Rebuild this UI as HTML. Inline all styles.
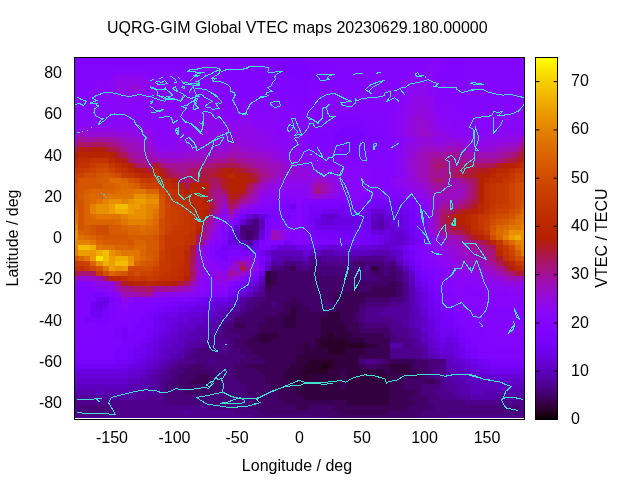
<!DOCTYPE html>
<html><head><meta charset="utf-8"><style>
html,body{margin:0;padding:0;background:#fff;width:640px;height:480px;overflow:hidden}
svg{display:block;will-change:transform}
</style></head><body>
<svg width="640" height="480" viewBox="0 0 640 480">
<rect x="0" y="0" width="640" height="480" fill="#fff"/>
<g shape-rendering="crispEdges">
<rect x="74.50" y="57.50" width="128.43" height="2.38" fill="#8004ff"/><rect x="202.62" y="57.50" width="25.30" height="2.38" fill="#7d04fe"/><rect x="227.62" y="57.50" width="81.55" height="2.38" fill="#8004ff"/><rect x="308.88" y="57.50" width="125.30" height="2.38" fill="#8405fe"/><rect x="433.88" y="57.50" width="6.55" height="2.38" fill="#8706fa"/><rect x="440.12" y="57.50" width="6.55" height="2.38" fill="#8405fe"/><rect x="446.38" y="57.50" width="19.05" height="2.38" fill="#8004ff"/><rect x="465.12" y="57.50" width="56.55" height="2.38" fill="#8405fe"/><rect x="521.38" y="57.50" width="3.42" height="2.38" fill="#8004ff"/><rect x="74.50" y="59.58" width="128.43" height="5.46" fill="#8004ff"/><rect x="202.62" y="59.58" width="25.30" height="5.46" fill="#7d04fe"/><rect x="227.62" y="59.58" width="50.30" height="5.46" fill="#8004ff"/><rect x="277.62" y="59.58" width="31.55" height="5.46" fill="#7d04fe"/><rect x="308.88" y="59.58" width="19.05" height="5.46" fill="#8004ff"/><rect x="327.62" y="59.58" width="100.30" height="5.46" fill="#8405fe"/><rect x="427.62" y="59.58" width="12.80" height="5.46" fill="#8706fa"/><rect x="440.12" y="59.58" width="6.55" height="5.46" fill="#8405fe"/><rect x="446.38" y="59.58" width="19.05" height="5.46" fill="#8004ff"/><rect x="465.12" y="59.58" width="56.55" height="5.46" fill="#8405fe"/><rect x="521.38" y="59.58" width="3.42" height="5.46" fill="#8004ff"/><rect x="74.50" y="64.74" width="103.42" height="5.46" fill="#8405fe"/><rect x="177.62" y="64.74" width="87.80" height="5.46" fill="#8004ff"/><rect x="265.12" y="64.74" width="12.80" height="5.46" fill="#7d04fe"/><rect x="277.62" y="64.74" width="31.55" height="5.46" fill="#7903fc"/><rect x="308.88" y="64.74" width="12.80" height="5.46" fill="#7d04fe"/><rect x="321.38" y="64.74" width="12.80" height="5.46" fill="#8004ff"/><rect x="333.88" y="64.74" width="87.80" height="5.46" fill="#8405fe"/><rect x="421.38" y="64.74" width="6.55" height="5.46" fill="#8706fa"/><rect x="427.62" y="64.74" width="6.55" height="5.46" fill="#8a06f6"/><rect x="433.88" y="64.74" width="6.55" height="5.46" fill="#8706fa"/><rect x="440.12" y="64.74" width="6.55" height="5.46" fill="#8405fe"/><rect x="446.38" y="64.74" width="19.05" height="5.46" fill="#8004ff"/><rect x="465.12" y="64.74" width="59.67" height="5.46" fill="#8405fe"/><rect x="74.50" y="69.89" width="40.92" height="5.46" fill="#8405fe"/><rect x="115.12" y="69.89" width="31.55" height="5.46" fill="#8706fa"/><rect x="146.38" y="69.89" width="44.05" height="5.46" fill="#8405fe"/><rect x="190.12" y="69.89" width="69.05" height="5.46" fill="#8004ff"/><rect x="258.88" y="69.89" width="19.05" height="5.46" fill="#7d04fe"/><rect x="277.62" y="69.89" width="31.55" height="5.46" fill="#7903fc"/><rect x="308.88" y="69.89" width="12.80" height="5.46" fill="#7d04fe"/><rect x="321.38" y="69.89" width="12.80" height="5.46" fill="#8004ff"/><rect x="333.88" y="69.89" width="75.30" height="5.46" fill="#8405fe"/><rect x="408.88" y="69.89" width="25.30" height="5.46" fill="#8706fa"/><rect x="433.88" y="69.89" width="6.55" height="5.46" fill="#8405fe"/><rect x="440.12" y="69.89" width="25.30" height="5.46" fill="#8004ff"/><rect x="465.12" y="69.89" width="59.67" height="5.46" fill="#8405fe"/><rect x="74.50" y="75.05" width="34.67" height="5.46" fill="#8405fe"/><rect x="108.88" y="75.05" width="6.55" height="5.46" fill="#8706fa"/><rect x="115.12" y="75.05" width="25.30" height="5.46" fill="#8d07ef"/><rect x="140.12" y="75.05" width="6.55" height="5.46" fill="#8a06f6"/><rect x="146.38" y="75.05" width="12.80" height="5.46" fill="#8706fa"/><rect x="158.88" y="75.05" width="25.30" height="5.46" fill="#8405fe"/><rect x="183.88" y="75.05" width="12.80" height="5.46" fill="#8706fa"/><rect x="196.38" y="75.05" width="19.05" height="5.46" fill="#8405fe"/><rect x="215.12" y="75.05" width="44.05" height="5.46" fill="#8004ff"/><rect x="258.88" y="75.05" width="37.80" height="5.46" fill="#7d04fe"/><rect x="296.38" y="75.05" width="12.80" height="5.46" fill="#7903fc"/><rect x="308.88" y="75.05" width="12.80" height="5.46" fill="#7d04fe"/><rect x="321.38" y="75.05" width="19.05" height="5.46" fill="#8004ff"/><rect x="340.12" y="75.05" width="62.80" height="5.46" fill="#8405fe"/><rect x="402.62" y="75.05" width="6.55" height="5.46" fill="#8706fa"/><rect x="408.88" y="75.05" width="19.05" height="5.46" fill="#8a06f6"/><rect x="427.62" y="75.05" width="6.55" height="5.46" fill="#8706fa"/><rect x="433.88" y="75.05" width="12.80" height="5.46" fill="#8405fe"/><rect x="446.38" y="75.05" width="19.05" height="5.46" fill="#8004ff"/><rect x="465.12" y="75.05" width="59.67" height="5.46" fill="#8405fe"/><rect x="74.50" y="80.21" width="22.18" height="5.46" fill="#8405fe"/><rect x="96.38" y="80.21" width="12.80" height="5.46" fill="#8706fa"/><rect x="108.88" y="80.21" width="6.55" height="5.46" fill="#8a06f6"/><rect x="115.12" y="80.21" width="25.30" height="5.46" fill="#9008e7"/><rect x="140.12" y="80.21" width="6.55" height="5.46" fill="#8d07ef"/><rect x="146.38" y="80.21" width="12.80" height="5.46" fill="#8a06f6"/><rect x="158.88" y="80.21" width="6.55" height="5.46" fill="#8706fa"/><rect x="165.12" y="80.21" width="19.05" height="5.46" fill="#8405fe"/><rect x="183.88" y="80.21" width="12.80" height="5.46" fill="#8706fa"/><rect x="196.38" y="80.21" width="25.30" height="5.46" fill="#8405fe"/><rect x="221.38" y="80.21" width="44.05" height="5.46" fill="#8004ff"/><rect x="265.12" y="80.21" width="44.05" height="5.46" fill="#7d04fe"/><rect x="308.88" y="80.21" width="31.55" height="5.46" fill="#8004ff"/><rect x="340.12" y="80.21" width="62.80" height="5.46" fill="#8405fe"/><rect x="402.62" y="80.21" width="6.55" height="5.46" fill="#8706fa"/><rect x="408.88" y="80.21" width="25.30" height="5.46" fill="#8a06f6"/><rect x="433.88" y="80.21" width="6.55" height="5.46" fill="#8706fa"/><rect x="440.12" y="80.21" width="84.67" height="5.46" fill="#8405fe"/><rect x="74.50" y="85.36" width="15.93" height="5.46" fill="#8405fe"/><rect x="90.12" y="85.36" width="19.05" height="5.46" fill="#8706fa"/><rect x="108.88" y="85.36" width="6.55" height="5.46" fill="#8a06f6"/><rect x="115.12" y="85.36" width="6.55" height="5.46" fill="#9309dd"/><rect x="121.38" y="85.36" width="6.55" height="5.46" fill="#9008e7"/><rect x="127.62" y="85.36" width="6.55" height="5.46" fill="#9309dd"/><rect x="133.88" y="85.36" width="6.55" height="5.46" fill="#960bd1"/><rect x="140.12" y="85.36" width="6.55" height="5.46" fill="#8d07ef"/><rect x="146.38" y="85.36" width="6.55" height="5.46" fill="#8a06f6"/><rect x="152.62" y="85.36" width="6.55" height="5.46" fill="#8d07ef"/><rect x="158.88" y="85.36" width="6.55" height="5.46" fill="#8a06f6"/><rect x="165.12" y="85.36" width="37.80" height="5.46" fill="#8706fa"/><rect x="202.62" y="85.36" width="25.30" height="5.46" fill="#8405fe"/><rect x="227.62" y="85.36" width="44.05" height="5.46" fill="#8004ff"/><rect x="271.38" y="85.36" width="37.80" height="5.46" fill="#7d04fe"/><rect x="308.88" y="85.36" width="25.30" height="5.46" fill="#8004ff"/><rect x="333.88" y="85.36" width="69.05" height="5.46" fill="#8405fe"/><rect x="402.62" y="85.36" width="6.55" height="5.46" fill="#8706fa"/><rect x="408.88" y="85.36" width="6.55" height="5.46" fill="#8a06f6"/><rect x="415.12" y="85.36" width="12.80" height="5.46" fill="#8d07ef"/><rect x="427.62" y="85.36" width="6.55" height="5.46" fill="#8a06f6"/><rect x="433.88" y="85.36" width="6.55" height="5.46" fill="#8706fa"/><rect x="440.12" y="85.36" width="84.67" height="5.46" fill="#8405fe"/><rect x="74.50" y="90.52" width="15.93" height="5.46" fill="#8405fe"/><rect x="90.12" y="90.52" width="19.05" height="5.46" fill="#8706fa"/><rect x="108.88" y="90.52" width="6.55" height="5.46" fill="#8a06f6"/><rect x="115.12" y="90.52" width="25.30" height="5.46" fill="#8d07ef"/><rect x="140.12" y="90.52" width="25.30" height="5.46" fill="#8a06f6"/><rect x="165.12" y="90.52" width="44.05" height="5.46" fill="#8706fa"/><rect x="208.88" y="90.52" width="19.05" height="5.46" fill="#8405fe"/><rect x="227.62" y="90.52" width="56.55" height="5.46" fill="#8004ff"/><rect x="283.88" y="90.52" width="25.30" height="5.46" fill="#7d04fe"/><rect x="308.88" y="90.52" width="94.05" height="5.46" fill="#8405fe"/><rect x="402.62" y="90.52" width="6.55" height="5.46" fill="#8a06f6"/><rect x="408.88" y="90.52" width="19.05" height="5.46" fill="#8d07ef"/><rect x="427.62" y="90.52" width="6.55" height="5.46" fill="#8a06f6"/><rect x="433.88" y="90.52" width="6.55" height="5.46" fill="#8706fa"/><rect x="440.12" y="90.52" width="84.67" height="5.46" fill="#8405fe"/><rect x="74.50" y="95.68" width="15.93" height="5.46" fill="#8405fe"/><rect x="90.12" y="95.68" width="25.30" height="5.46" fill="#8706fa"/><rect x="115.12" y="95.68" width="31.55" height="5.46" fill="#8a06f6"/><rect x="146.38" y="95.68" width="69.05" height="5.46" fill="#8706fa"/><rect x="215.12" y="95.68" width="44.05" height="5.46" fill="#8405fe"/><rect x="258.88" y="95.68" width="50.30" height="5.46" fill="#8004ff"/><rect x="308.88" y="95.68" width="19.05" height="5.46" fill="#8405fe"/><rect x="327.62" y="95.68" width="12.80" height="5.46" fill="#8706fa"/><rect x="340.12" y="95.68" width="56.55" height="5.46" fill="#8405fe"/><rect x="396.38" y="95.68" width="6.55" height="5.46" fill="#8706fa"/><rect x="402.62" y="95.68" width="6.55" height="5.46" fill="#8a06f6"/><rect x="408.88" y="95.68" width="6.55" height="5.46" fill="#8d07ef"/><rect x="415.12" y="95.68" width="12.80" height="5.46" fill="#9008e7"/><rect x="427.62" y="95.68" width="6.55" height="5.46" fill="#8d07ef"/><rect x="433.88" y="95.68" width="6.55" height="5.46" fill="#8706fa"/><rect x="440.12" y="95.68" width="84.67" height="5.46" fill="#8405fe"/><rect x="74.50" y="100.84" width="15.93" height="5.46" fill="#8405fe"/><rect x="90.12" y="100.84" width="106.55" height="5.46" fill="#8706fa"/><rect x="196.38" y="100.84" width="12.80" height="5.46" fill="#8a06f6"/><rect x="208.88" y="100.84" width="12.80" height="5.46" fill="#8706fa"/><rect x="221.38" y="100.84" width="19.05" height="5.46" fill="#8405fe"/><rect x="240.12" y="100.84" width="19.05" height="5.46" fill="#8706fa"/><rect x="258.88" y="100.84" width="12.80" height="5.46" fill="#8405fe"/><rect x="271.38" y="100.84" width="37.80" height="5.46" fill="#8004ff"/><rect x="308.88" y="100.84" width="19.05" height="5.46" fill="#8405fe"/><rect x="327.62" y="100.84" width="12.80" height="5.46" fill="#8706fa"/><rect x="340.12" y="100.84" width="56.55" height="5.46" fill="#8405fe"/><rect x="396.38" y="100.84" width="6.55" height="5.46" fill="#8706fa"/><rect x="402.62" y="100.84" width="6.55" height="5.46" fill="#8a06f6"/><rect x="408.88" y="100.84" width="6.55" height="5.46" fill="#9008e7"/><rect x="415.12" y="100.84" width="6.55" height="5.46" fill="#9309dd"/><rect x="421.38" y="100.84" width="6.55" height="5.46" fill="#9008e7"/><rect x="427.62" y="100.84" width="6.55" height="5.46" fill="#8d07ef"/><rect x="433.88" y="100.84" width="12.80" height="5.46" fill="#8706fa"/><rect x="446.38" y="100.84" width="78.42" height="5.46" fill="#8405fe"/><rect x="74.50" y="105.99" width="115.92" height="5.46" fill="#8706fa"/><rect x="190.12" y="105.99" width="25.30" height="5.46" fill="#8a06f6"/><rect x="215.12" y="105.99" width="12.80" height="5.46" fill="#8706fa"/><rect x="227.62" y="105.99" width="12.80" height="5.46" fill="#8405fe"/><rect x="240.12" y="105.99" width="12.80" height="5.46" fill="#8706fa"/><rect x="252.62" y="105.99" width="44.05" height="5.46" fill="#8405fe"/><rect x="296.38" y="105.99" width="12.80" height="5.46" fill="#8004ff"/><rect x="308.88" y="105.99" width="19.05" height="5.46" fill="#8405fe"/><rect x="327.62" y="105.99" width="12.80" height="5.46" fill="#8706fa"/><rect x="340.12" y="105.99" width="56.55" height="5.46" fill="#8405fe"/><rect x="396.38" y="105.99" width="6.55" height="5.46" fill="#8706fa"/><rect x="402.62" y="105.99" width="6.55" height="5.46" fill="#8d07ef"/><rect x="408.88" y="105.99" width="6.55" height="5.46" fill="#9008e7"/><rect x="415.12" y="105.99" width="12.80" height="5.46" fill="#9309dd"/><rect x="427.62" y="105.99" width="6.55" height="5.46" fill="#8d07ef"/><rect x="433.88" y="105.99" width="6.55" height="5.46" fill="#8a06f6"/><rect x="440.12" y="105.99" width="12.80" height="5.46" fill="#8706fa"/><rect x="452.62" y="105.99" width="69.05" height="5.46" fill="#8405fe"/><rect x="521.38" y="105.99" width="3.42" height="5.46" fill="#8706fa"/><rect x="74.50" y="111.15" width="109.67" height="5.46" fill="#8706fa"/><rect x="183.88" y="111.15" width="19.05" height="5.46" fill="#8a06f6"/><rect x="202.62" y="111.15" width="12.80" height="5.46" fill="#8d07ef"/><rect x="215.12" y="111.15" width="6.55" height="5.46" fill="#8a06f6"/><rect x="221.38" y="111.15" width="62.80" height="5.46" fill="#8706fa"/><rect x="283.88" y="111.15" width="106.55" height="5.46" fill="#8405fe"/><rect x="390.12" y="111.15" width="6.55" height="5.46" fill="#8706fa"/><rect x="396.38" y="111.15" width="6.55" height="5.46" fill="#8a06f6"/><rect x="402.62" y="111.15" width="6.55" height="5.46" fill="#8d07ef"/><rect x="408.88" y="111.15" width="6.55" height="5.46" fill="#9008e7"/><rect x="415.12" y="111.15" width="12.80" height="5.46" fill="#9309dd"/><rect x="427.62" y="111.15" width="6.55" height="5.46" fill="#9008e7"/><rect x="433.88" y="111.15" width="6.55" height="5.46" fill="#8a06f6"/><rect x="440.12" y="111.15" width="19.05" height="5.46" fill="#8706fa"/><rect x="458.88" y="111.15" width="56.55" height="5.46" fill="#8405fe"/><rect x="515.12" y="111.15" width="9.68" height="5.46" fill="#8706fa"/><rect x="74.50" y="116.31" width="109.67" height="5.46" fill="#8706fa"/><rect x="183.88" y="116.31" width="19.05" height="5.46" fill="#8a06f6"/><rect x="202.62" y="116.31" width="12.80" height="5.46" fill="#8d07ef"/><rect x="215.12" y="116.31" width="37.80" height="5.46" fill="#8a06f6"/><rect x="252.62" y="116.31" width="25.30" height="5.46" fill="#8706fa"/><rect x="277.62" y="116.31" width="50.30" height="5.46" fill="#8405fe"/><rect x="327.62" y="116.31" width="37.80" height="5.46" fill="#8004ff"/><rect x="365.12" y="116.31" width="25.30" height="5.46" fill="#8405fe"/><rect x="390.12" y="116.31" width="6.55" height="5.46" fill="#8706fa"/><rect x="396.38" y="116.31" width="6.55" height="5.46" fill="#8a06f6"/><rect x="402.62" y="116.31" width="6.55" height="5.46" fill="#8d07ef"/><rect x="408.88" y="116.31" width="6.55" height="5.46" fill="#9309dd"/><rect x="415.12" y="116.31" width="6.55" height="5.46" fill="#960bd1"/><rect x="421.38" y="116.31" width="6.55" height="5.46" fill="#9309dd"/><rect x="427.62" y="116.31" width="6.55" height="5.46" fill="#9008e7"/><rect x="433.88" y="116.31" width="6.55" height="5.46" fill="#8d07ef"/><rect x="440.12" y="116.31" width="6.55" height="5.46" fill="#8a06f6"/><rect x="446.38" y="116.31" width="78.42" height="5.46" fill="#8706fa"/><rect x="74.50" y="121.46" width="78.42" height="5.46" fill="#8a06f6"/><rect x="152.62" y="121.46" width="25.30" height="5.46" fill="#8706fa"/><rect x="177.62" y="121.46" width="19.05" height="5.46" fill="#8a06f6"/><rect x="196.38" y="121.46" width="25.30" height="5.46" fill="#8d07ef"/><rect x="221.38" y="121.46" width="6.55" height="5.46" fill="#8a06f6"/><rect x="227.62" y="121.46" width="25.30" height="5.46" fill="#8d07ef"/><rect x="252.62" y="121.46" width="19.05" height="5.46" fill="#8a06f6"/><rect x="271.38" y="121.46" width="19.05" height="5.46" fill="#8706fa"/><rect x="290.12" y="121.46" width="25.30" height="5.46" fill="#8405fe"/><rect x="315.12" y="121.46" width="19.05" height="5.46" fill="#8004ff"/><rect x="333.88" y="121.46" width="31.55" height="5.46" fill="#7d04fe"/><rect x="365.12" y="121.46" width="12.80" height="5.46" fill="#8004ff"/><rect x="377.62" y="121.46" width="12.80" height="5.46" fill="#8405fe"/><rect x="390.12" y="121.46" width="6.55" height="5.46" fill="#8706fa"/><rect x="396.38" y="121.46" width="6.55" height="5.46" fill="#8a06f6"/><rect x="402.62" y="121.46" width="6.55" height="5.46" fill="#9008e7"/><rect x="408.88" y="121.46" width="6.55" height="5.46" fill="#9309dd"/><rect x="415.12" y="121.46" width="12.80" height="5.46" fill="#960bd1"/><rect x="427.62" y="121.46" width="6.55" height="5.46" fill="#9309dd"/><rect x="433.88" y="121.46" width="6.55" height="5.46" fill="#8d07ef"/><rect x="440.12" y="121.46" width="12.80" height="5.46" fill="#8a06f6"/><rect x="452.62" y="121.46" width="69.05" height="5.46" fill="#8706fa"/><rect x="521.38" y="121.46" width="3.42" height="5.46" fill="#8a06f6"/><rect x="74.50" y="126.62" width="3.42" height="5.46" fill="#8a06f6"/><rect x="77.62" y="126.62" width="37.80" height="5.46" fill="#9008e7"/><rect x="115.12" y="126.62" width="37.80" height="5.46" fill="#8d07ef"/><rect x="152.62" y="126.62" width="19.05" height="5.46" fill="#8706fa"/><rect x="171.38" y="126.62" width="19.05" height="5.46" fill="#8a06f6"/><rect x="190.12" y="126.62" width="12.80" height="5.46" fill="#8d07ef"/><rect x="202.62" y="126.62" width="6.55" height="5.46" fill="#9008e7"/><rect x="208.88" y="126.62" width="19.05" height="5.46" fill="#8d07ef"/><rect x="227.62" y="126.62" width="25.30" height="5.46" fill="#9008e7"/><rect x="252.62" y="126.62" width="12.80" height="5.46" fill="#8d07ef"/><rect x="265.12" y="126.62" width="12.80" height="5.46" fill="#8a06f6"/><rect x="277.62" y="126.62" width="19.05" height="5.46" fill="#8706fa"/><rect x="296.38" y="126.62" width="19.05" height="5.46" fill="#8405fe"/><rect x="315.12" y="126.62" width="12.80" height="5.46" fill="#8004ff"/><rect x="327.62" y="126.62" width="12.80" height="5.46" fill="#7d04fe"/><rect x="340.12" y="126.62" width="19.05" height="5.46" fill="#7903fc"/><rect x="358.88" y="126.62" width="12.80" height="5.46" fill="#7d04fe"/><rect x="371.38" y="126.62" width="12.80" height="5.46" fill="#8004ff"/><rect x="383.88" y="126.62" width="6.55" height="5.46" fill="#8405fe"/><rect x="390.12" y="126.62" width="6.55" height="5.46" fill="#8706fa"/><rect x="396.38" y="126.62" width="6.55" height="5.46" fill="#8a06f6"/><rect x="402.62" y="126.62" width="6.55" height="5.46" fill="#9008e7"/><rect x="408.88" y="126.62" width="6.55" height="5.46" fill="#9309dd"/><rect x="415.12" y="126.62" width="12.80" height="5.46" fill="#960bd1"/><rect x="427.62" y="126.62" width="6.55" height="5.46" fill="#9309dd"/><rect x="433.88" y="126.62" width="6.55" height="5.46" fill="#9008e7"/><rect x="440.12" y="126.62" width="6.55" height="5.46" fill="#8d07ef"/><rect x="446.38" y="126.62" width="12.80" height="5.46" fill="#8a06f6"/><rect x="458.88" y="126.62" width="6.55" height="5.46" fill="#8706fa"/><rect x="465.12" y="126.62" width="6.55" height="5.46" fill="#8a06f6"/><rect x="471.38" y="126.62" width="31.55" height="5.46" fill="#8706fa"/><rect x="502.62" y="126.62" width="22.18" height="5.46" fill="#8a06f6"/><rect x="74.50" y="131.78" width="3.42" height="5.46" fill="#9008e7"/><rect x="77.62" y="131.78" width="6.55" height="5.46" fill="#990cc4"/><rect x="83.88" y="131.78" width="31.55" height="5.46" fill="#960bd1"/><rect x="115.12" y="131.78" width="19.05" height="5.46" fill="#9309dd"/><rect x="133.88" y="131.78" width="19.05" height="5.46" fill="#9008e7"/><rect x="152.62" y="131.78" width="6.55" height="5.46" fill="#8a06f6"/><rect x="158.88" y="131.78" width="6.55" height="5.46" fill="#8706fa"/><rect x="165.12" y="131.78" width="19.05" height="5.46" fill="#8a06f6"/><rect x="183.88" y="131.78" width="12.80" height="5.46" fill="#8d07ef"/><rect x="196.38" y="131.78" width="25.30" height="5.46" fill="#9008e7"/><rect x="221.38" y="131.78" width="6.55" height="5.46" fill="#8d07ef"/><rect x="227.62" y="131.78" width="31.55" height="5.46" fill="#9008e7"/><rect x="258.88" y="131.78" width="12.80" height="5.46" fill="#8d07ef"/><rect x="271.38" y="131.78" width="6.55" height="5.46" fill="#8a06f6"/><rect x="277.62" y="131.78" width="25.30" height="5.46" fill="#8706fa"/><rect x="302.62" y="131.78" width="6.55" height="5.46" fill="#8405fe"/><rect x="308.88" y="131.78" width="12.80" height="5.46" fill="#8004ff"/><rect x="321.38" y="131.78" width="12.80" height="5.46" fill="#7d04fe"/><rect x="333.88" y="131.78" width="31.55" height="5.46" fill="#7903fc"/><rect x="365.12" y="131.78" width="12.80" height="5.46" fill="#7d04fe"/><rect x="377.62" y="131.78" width="6.55" height="5.46" fill="#8004ff"/><rect x="383.88" y="131.78" width="6.55" height="5.46" fill="#8405fe"/><rect x="390.12" y="131.78" width="6.55" height="5.46" fill="#8706fa"/><rect x="396.38" y="131.78" width="6.55" height="5.46" fill="#8a06f6"/><rect x="402.62" y="131.78" width="6.55" height="5.46" fill="#9008e7"/><rect x="408.88" y="131.78" width="6.55" height="5.46" fill="#9309dd"/><rect x="415.12" y="131.78" width="6.55" height="5.46" fill="#960bd1"/><rect x="421.38" y="131.78" width="6.55" height="5.46" fill="#990cc4"/><rect x="427.62" y="131.78" width="6.55" height="5.46" fill="#960bd1"/><rect x="433.88" y="131.78" width="6.55" height="5.46" fill="#9309dd"/><rect x="440.12" y="131.78" width="6.55" height="5.46" fill="#9008e7"/><rect x="446.38" y="131.78" width="6.55" height="5.46" fill="#8d07ef"/><rect x="452.62" y="131.78" width="50.30" height="5.46" fill="#8a06f6"/><rect x="502.62" y="131.78" width="19.05" height="5.46" fill="#8d07ef"/><rect x="521.38" y="131.78" width="3.42" height="5.46" fill="#9008e7"/><rect x="74.50" y="136.94" width="3.42" height="5.46" fill="#990cc4"/><rect x="77.62" y="136.94" width="6.55" height="5.46" fill="#a11096"/><rect x="83.88" y="136.94" width="12.80" height="5.46" fill="#9f0fa7"/><rect x="96.38" y="136.94" width="6.55" height="5.46" fill="#a11096"/><rect x="102.62" y="136.94" width="12.80" height="5.46" fill="#9f0fa7"/><rect x="115.12" y="136.94" width="6.55" height="5.46" fill="#9c0db6"/><rect x="121.38" y="136.94" width="6.55" height="5.46" fill="#990cc4"/><rect x="127.62" y="136.94" width="12.80" height="5.46" fill="#960bd1"/><rect x="140.12" y="136.94" width="12.80" height="5.46" fill="#9309dd"/><rect x="152.62" y="136.94" width="25.30" height="5.46" fill="#8a06f6"/><rect x="177.62" y="136.94" width="19.05" height="5.46" fill="#8d07ef"/><rect x="196.38" y="136.94" width="31.55" height="5.46" fill="#9008e7"/><rect x="227.62" y="136.94" width="19.05" height="5.46" fill="#9309dd"/><rect x="246.38" y="136.94" width="19.05" height="5.46" fill="#9008e7"/><rect x="265.12" y="136.94" width="6.55" height="5.46" fill="#8d07ef"/><rect x="271.38" y="136.94" width="12.80" height="5.46" fill="#8a06f6"/><rect x="283.88" y="136.94" width="19.05" height="5.46" fill="#8706fa"/><rect x="302.62" y="136.94" width="6.55" height="5.46" fill="#8405fe"/><rect x="308.88" y="136.94" width="12.80" height="5.46" fill="#8004ff"/><rect x="321.38" y="136.94" width="12.80" height="5.46" fill="#7d04fe"/><rect x="333.88" y="136.94" width="31.55" height="5.46" fill="#7903fc"/><rect x="365.12" y="136.94" width="12.80" height="5.46" fill="#7d04fe"/><rect x="377.62" y="136.94" width="6.55" height="5.46" fill="#8004ff"/><rect x="383.88" y="136.94" width="12.80" height="5.46" fill="#8405fe"/><rect x="396.38" y="136.94" width="6.55" height="5.46" fill="#8706fa"/><rect x="402.62" y="136.94" width="6.55" height="5.46" fill="#8a06f6"/><rect x="408.88" y="136.94" width="6.55" height="5.46" fill="#8d07ef"/><rect x="415.12" y="136.94" width="6.55" height="5.46" fill="#9008e7"/><rect x="421.38" y="136.94" width="12.80" height="5.46" fill="#9309dd"/><rect x="433.88" y="136.94" width="12.80" height="5.46" fill="#9008e7"/><rect x="446.38" y="136.94" width="6.55" height="5.46" fill="#9309dd"/><rect x="452.62" y="136.94" width="12.80" height="5.46" fill="#9008e7"/><rect x="465.12" y="136.94" width="31.55" height="5.46" fill="#8d07ef"/><rect x="496.38" y="136.94" width="19.05" height="5.46" fill="#9008e7"/><rect x="515.12" y="136.94" width="6.55" height="5.46" fill="#9309dd"/><rect x="521.38" y="136.94" width="3.42" height="5.46" fill="#990cc4"/><rect x="74.50" y="142.09" width="3.42" height="5.46" fill="#a11096"/><rect x="77.62" y="142.09" width="6.55" height="5.46" fill="#a9165e"/><rect x="83.88" y="142.09" width="6.55" height="5.46" fill="#a71471"/><rect x="90.12" y="142.09" width="19.05" height="5.46" fill="#a9165e"/><rect x="108.88" y="142.09" width="6.55" height="5.46" fill="#a41284"/><rect x="115.12" y="142.09" width="6.55" height="5.46" fill="#a11096"/><rect x="121.38" y="142.09" width="12.80" height="5.46" fill="#9c0db6"/><rect x="133.88" y="142.09" width="6.55" height="5.46" fill="#990cc4"/><rect x="140.12" y="142.09" width="12.80" height="5.46" fill="#960bd1"/><rect x="152.62" y="142.09" width="6.55" height="5.46" fill="#8d07ef"/><rect x="158.88" y="142.09" width="12.80" height="5.46" fill="#8a06f6"/><rect x="171.38" y="142.09" width="12.80" height="5.46" fill="#8d07ef"/><rect x="183.88" y="142.09" width="12.80" height="5.46" fill="#9008e7"/><rect x="196.38" y="142.09" width="25.30" height="5.46" fill="#9309dd"/><rect x="221.38" y="142.09" width="6.55" height="5.46" fill="#9008e7"/><rect x="227.62" y="142.09" width="12.80" height="5.46" fill="#960bd1"/><rect x="240.12" y="142.09" width="12.80" height="5.46" fill="#9309dd"/><rect x="252.62" y="142.09" width="12.80" height="5.46" fill="#9008e7"/><rect x="265.12" y="142.09" width="12.80" height="5.46" fill="#8d07ef"/><rect x="277.62" y="142.09" width="12.80" height="5.46" fill="#8a06f6"/><rect x="290.12" y="142.09" width="12.80" height="5.46" fill="#8706fa"/><rect x="302.62" y="142.09" width="6.55" height="5.46" fill="#8405fe"/><rect x="308.88" y="142.09" width="12.80" height="5.46" fill="#8004ff"/><rect x="321.38" y="142.09" width="19.05" height="5.46" fill="#7d04fe"/><rect x="340.12" y="142.09" width="12.80" height="5.46" fill="#7903fc"/><rect x="352.62" y="142.09" width="19.05" height="5.46" fill="#7d04fe"/><rect x="371.38" y="142.09" width="12.80" height="5.46" fill="#8004ff"/><rect x="383.88" y="142.09" width="12.80" height="5.46" fill="#8405fe"/><rect x="396.38" y="142.09" width="6.55" height="5.46" fill="#8706fa"/><rect x="402.62" y="142.09" width="6.55" height="5.46" fill="#8d07ef"/><rect x="408.88" y="142.09" width="6.55" height="5.46" fill="#9008e7"/><rect x="415.12" y="142.09" width="6.55" height="5.46" fill="#9309dd"/><rect x="421.38" y="142.09" width="12.80" height="5.46" fill="#960bd1"/><rect x="433.88" y="142.09" width="12.80" height="5.46" fill="#9309dd"/><rect x="446.38" y="142.09" width="12.80" height="5.46" fill="#960bd1"/><rect x="458.88" y="142.09" width="6.55" height="5.46" fill="#9309dd"/><rect x="465.12" y="142.09" width="25.30" height="5.46" fill="#9008e7"/><rect x="490.12" y="142.09" width="12.80" height="5.46" fill="#9309dd"/><rect x="502.62" y="142.09" width="12.80" height="5.46" fill="#960bd1"/><rect x="515.12" y="142.09" width="6.55" height="5.46" fill="#990cc4"/><rect x="521.38" y="142.09" width="3.42" height="5.46" fill="#a11096"/><rect x="74.50" y="147.25" width="3.42" height="5.46" fill="#ac184a"/><rect x="77.62" y="147.25" width="6.55" height="5.46" fill="#b31f0b"/><rect x="83.88" y="147.25" width="6.55" height="5.46" fill="#b11c20"/><rect x="90.12" y="147.25" width="12.80" height="5.46" fill="#b31f0b"/><rect x="102.62" y="147.25" width="6.55" height="5.46" fill="#b11c20"/><rect x="108.88" y="147.25" width="6.55" height="5.46" fill="#ac184a"/><rect x="115.12" y="147.25" width="6.55" height="5.46" fill="#a9165e"/><rect x="121.38" y="147.25" width="6.55" height="5.46" fill="#a11096"/><rect x="127.62" y="147.25" width="12.80" height="5.46" fill="#9c0db6"/><rect x="140.12" y="147.25" width="12.80" height="5.46" fill="#990cc4"/><rect x="152.62" y="147.25" width="6.55" height="5.46" fill="#9008e7"/><rect x="158.88" y="147.25" width="19.05" height="5.46" fill="#8d07ef"/><rect x="177.62" y="147.25" width="12.80" height="5.46" fill="#9008e7"/><rect x="190.12" y="147.25" width="12.80" height="5.46" fill="#9309dd"/><rect x="202.62" y="147.25" width="19.05" height="5.46" fill="#960bd1"/><rect x="221.38" y="147.25" width="6.55" height="5.46" fill="#9309dd"/><rect x="227.62" y="147.25" width="12.80" height="5.46" fill="#990cc4"/><rect x="240.12" y="147.25" width="12.80" height="5.46" fill="#960bd1"/><rect x="252.62" y="147.25" width="12.80" height="5.46" fill="#9309dd"/><rect x="265.12" y="147.25" width="12.80" height="5.46" fill="#9008e7"/><rect x="277.62" y="147.25" width="6.55" height="5.46" fill="#8d07ef"/><rect x="283.88" y="147.25" width="19.05" height="5.46" fill="#8a06f6"/><rect x="302.62" y="147.25" width="12.80" height="5.46" fill="#8405fe"/><rect x="315.12" y="147.25" width="19.05" height="5.46" fill="#8004ff"/><rect x="333.88" y="147.25" width="31.55" height="5.46" fill="#7d04fe"/><rect x="365.12" y="147.25" width="19.05" height="5.46" fill="#8004ff"/><rect x="383.88" y="147.25" width="12.80" height="5.46" fill="#8405fe"/><rect x="396.38" y="147.25" width="6.55" height="5.46" fill="#8706fa"/><rect x="402.62" y="147.25" width="6.55" height="5.46" fill="#9008e7"/><rect x="408.88" y="147.25" width="6.55" height="5.46" fill="#9309dd"/><rect x="415.12" y="147.25" width="6.55" height="5.46" fill="#960bd1"/><rect x="421.38" y="147.25" width="25.30" height="5.46" fill="#990cc4"/><rect x="446.38" y="147.25" width="12.80" height="5.46" fill="#9c0db6"/><rect x="458.88" y="147.25" width="6.55" height="5.46" fill="#990cc4"/><rect x="465.12" y="147.25" width="6.55" height="5.46" fill="#960bd1"/><rect x="471.38" y="147.25" width="19.05" height="5.46" fill="#9309dd"/><rect x="490.12" y="147.25" width="6.55" height="5.46" fill="#960bd1"/><rect x="496.38" y="147.25" width="6.55" height="5.46" fill="#990cc4"/><rect x="502.62" y="147.25" width="12.80" height="5.46" fill="#9c0db6"/><rect x="515.12" y="147.25" width="6.55" height="5.46" fill="#a11096"/><rect x="521.38" y="147.25" width="3.42" height="5.46" fill="#ac184a"/><rect x="74.50" y="152.41" width="3.42" height="5.46" fill="#b11c20"/><rect x="77.62" y="152.41" width="31.55" height="5.46" fill="#b82400"/><rect x="108.88" y="152.41" width="6.55" height="5.46" fill="#b62100"/><rect x="115.12" y="152.41" width="6.55" height="5.46" fill="#ae1a35"/><rect x="121.38" y="152.41" width="6.55" height="5.46" fill="#a9165e"/><rect x="127.62" y="152.41" width="6.55" height="5.46" fill="#a11096"/><rect x="133.88" y="152.41" width="6.55" height="5.46" fill="#9f0fa7"/><rect x="140.12" y="152.41" width="12.80" height="5.46" fill="#9c0db6"/><rect x="152.62" y="152.41" width="6.55" height="5.46" fill="#960bd1"/><rect x="158.88" y="152.41" width="25.30" height="5.46" fill="#9309dd"/><rect x="183.88" y="152.41" width="19.05" height="5.46" fill="#960bd1"/><rect x="202.62" y="152.41" width="25.30" height="5.46" fill="#990cc4"/><rect x="227.62" y="152.41" width="6.55" height="5.46" fill="#9f0fa7"/><rect x="233.88" y="152.41" width="12.80" height="5.46" fill="#9c0db6"/><rect x="246.38" y="152.41" width="12.80" height="5.46" fill="#990cc4"/><rect x="258.88" y="152.41" width="12.80" height="5.46" fill="#960bd1"/><rect x="271.38" y="152.41" width="6.55" height="5.46" fill="#9309dd"/><rect x="277.62" y="152.41" width="6.55" height="5.46" fill="#9008e7"/><rect x="283.88" y="152.41" width="12.80" height="5.46" fill="#8d07ef"/><rect x="296.38" y="152.41" width="6.55" height="5.46" fill="#8a06f6"/><rect x="302.62" y="152.41" width="12.80" height="5.46" fill="#8706fa"/><rect x="315.12" y="152.41" width="12.80" height="5.46" fill="#8405fe"/><rect x="327.62" y="152.41" width="19.05" height="5.46" fill="#8004ff"/><rect x="346.38" y="152.41" width="12.80" height="5.46" fill="#7d04fe"/><rect x="358.88" y="152.41" width="19.05" height="5.46" fill="#8004ff"/><rect x="377.62" y="152.41" width="19.05" height="5.46" fill="#8405fe"/><rect x="396.38" y="152.41" width="6.55" height="5.46" fill="#8a06f6"/><rect x="402.62" y="152.41" width="6.55" height="5.46" fill="#9008e7"/><rect x="408.88" y="152.41" width="6.55" height="5.46" fill="#9309dd"/><rect x="415.12" y="152.41" width="6.55" height="5.46" fill="#990cc4"/><rect x="421.38" y="152.41" width="6.55" height="5.46" fill="#9c0db6"/><rect x="427.62" y="152.41" width="19.05" height="5.46" fill="#9f0fa7"/><rect x="446.38" y="152.41" width="12.80" height="5.46" fill="#a11096"/><rect x="458.88" y="152.41" width="6.55" height="5.46" fill="#9f0fa7"/><rect x="465.12" y="152.41" width="31.55" height="5.46" fill="#9c0db6"/><rect x="496.38" y="152.41" width="6.55" height="5.46" fill="#9f0fa7"/><rect x="502.62" y="152.41" width="6.55" height="5.46" fill="#a11096"/><rect x="508.88" y="152.41" width="6.55" height="5.46" fill="#a41284"/><rect x="515.12" y="152.41" width="6.55" height="5.46" fill="#a9165e"/><rect x="521.38" y="152.41" width="3.42" height="5.46" fill="#b11c20"/><rect x="74.50" y="157.56" width="3.42" height="5.46" fill="#b82400"/><rect x="77.62" y="157.56" width="12.80" height="5.46" fill="#bf2d00"/><rect x="90.12" y="157.56" width="19.05" height="5.46" fill="#c33300"/><rect x="108.88" y="157.56" width="6.55" height="5.46" fill="#ba2700"/><rect x="115.12" y="157.56" width="6.55" height="5.46" fill="#b62100"/><rect x="121.38" y="157.56" width="6.55" height="5.46" fill="#b11c20"/><rect x="127.62" y="157.56" width="6.55" height="5.46" fill="#a71471"/><rect x="133.88" y="157.56" width="12.80" height="5.46" fill="#a11096"/><rect x="146.38" y="157.56" width="12.80" height="5.46" fill="#9f0fa7"/><rect x="158.88" y="157.56" width="6.55" height="5.46" fill="#9c0db6"/><rect x="165.12" y="157.56" width="19.05" height="5.46" fill="#990cc4"/><rect x="183.88" y="157.56" width="19.05" height="5.46" fill="#9c0db6"/><rect x="202.62" y="157.56" width="12.80" height="5.46" fill="#9f0fa7"/><rect x="215.12" y="157.56" width="12.80" height="5.46" fill="#a11096"/><rect x="227.62" y="157.56" width="6.55" height="5.46" fill="#a71471"/><rect x="233.88" y="157.56" width="12.80" height="5.46" fill="#a11096"/><rect x="246.38" y="157.56" width="6.55" height="5.46" fill="#9f0fa7"/><rect x="252.62" y="157.56" width="12.80" height="5.46" fill="#9c0db6"/><rect x="265.12" y="157.56" width="6.55" height="5.46" fill="#990cc4"/><rect x="271.38" y="157.56" width="6.55" height="5.46" fill="#960bd1"/><rect x="277.62" y="157.56" width="6.55" height="5.46" fill="#9309dd"/><rect x="283.88" y="157.56" width="12.80" height="5.46" fill="#9008e7"/><rect x="296.38" y="157.56" width="6.55" height="5.46" fill="#8d07ef"/><rect x="302.62" y="157.56" width="25.30" height="5.46" fill="#8706fa"/><rect x="327.62" y="157.56" width="12.80" height="5.46" fill="#8405fe"/><rect x="340.12" y="157.56" width="31.55" height="5.46" fill="#8004ff"/><rect x="371.38" y="157.56" width="25.30" height="5.46" fill="#8405fe"/><rect x="396.38" y="157.56" width="6.55" height="5.46" fill="#8a06f6"/><rect x="402.62" y="157.56" width="6.55" height="5.46" fill="#9309dd"/><rect x="408.88" y="157.56" width="6.55" height="5.46" fill="#960bd1"/><rect x="415.12" y="157.56" width="6.55" height="5.46" fill="#990cc4"/><rect x="421.38" y="157.56" width="6.55" height="5.46" fill="#9c0db6"/><rect x="427.62" y="157.56" width="6.55" height="5.46" fill="#a11096"/><rect x="433.88" y="157.56" width="12.80" height="5.46" fill="#a41284"/><rect x="446.38" y="157.56" width="50.30" height="5.46" fill="#a11096"/><rect x="496.38" y="157.56" width="6.55" height="5.46" fill="#a41284"/><rect x="502.62" y="157.56" width="6.55" height="5.46" fill="#a9165e"/><rect x="508.88" y="157.56" width="6.55" height="5.46" fill="#ac184a"/><rect x="515.12" y="157.56" width="6.55" height="5.46" fill="#b11c20"/><rect x="521.38" y="157.56" width="3.42" height="5.46" fill="#b82400"/><rect x="74.50" y="162.72" width="3.42" height="5.46" fill="#bf2d00"/><rect x="77.62" y="162.72" width="12.80" height="5.46" fill="#c33300"/><rect x="90.12" y="162.72" width="6.55" height="5.46" fill="#c83b00"/><rect x="96.38" y="162.72" width="12.80" height="5.46" fill="#cc4300"/><rect x="108.88" y="162.72" width="6.55" height="5.46" fill="#c63700"/><rect x="115.12" y="162.72" width="6.55" height="5.46" fill="#bf2d00"/><rect x="121.38" y="162.72" width="6.55" height="5.46" fill="#ba2700"/><rect x="127.62" y="162.72" width="6.55" height="5.46" fill="#b62100"/><rect x="133.88" y="162.72" width="6.55" height="5.46" fill="#a9165e"/><rect x="140.12" y="162.72" width="6.55" height="5.46" fill="#a71471"/><rect x="146.38" y="162.72" width="6.55" height="5.46" fill="#a11096"/><rect x="152.62" y="162.72" width="6.55" height="5.46" fill="#b11c20"/><rect x="158.88" y="162.72" width="6.55" height="5.46" fill="#a71471"/><rect x="165.12" y="162.72" width="31.55" height="5.46" fill="#a11096"/><rect x="196.38" y="162.72" width="12.80" height="5.46" fill="#a41284"/><rect x="208.88" y="162.72" width="6.55" height="5.46" fill="#a71471"/><rect x="215.12" y="162.72" width="12.80" height="5.46" fill="#a9165e"/><rect x="227.62" y="162.72" width="6.55" height="5.46" fill="#ac184a"/><rect x="233.88" y="162.72" width="6.55" height="5.46" fill="#a9165e"/><rect x="240.12" y="162.72" width="6.55" height="5.46" fill="#a71471"/><rect x="246.38" y="162.72" width="6.55" height="5.46" fill="#a41284"/><rect x="252.62" y="162.72" width="12.80" height="5.46" fill="#9f0fa7"/><rect x="265.12" y="162.72" width="12.80" height="5.46" fill="#9c0db6"/><rect x="277.62" y="162.72" width="6.55" height="5.46" fill="#990cc4"/><rect x="283.88" y="162.72" width="12.80" height="5.46" fill="#9309dd"/><rect x="296.38" y="162.72" width="6.55" height="5.46" fill="#9008e7"/><rect x="302.62" y="162.72" width="19.05" height="5.46" fill="#8a06f6"/><rect x="321.38" y="162.72" width="12.80" height="5.46" fill="#8706fa"/><rect x="333.88" y="162.72" width="62.80" height="5.46" fill="#8405fe"/><rect x="396.38" y="162.72" width="6.55" height="5.46" fill="#8a06f6"/><rect x="402.62" y="162.72" width="6.55" height="5.46" fill="#9008e7"/><rect x="408.88" y="162.72" width="6.55" height="5.46" fill="#960bd1"/><rect x="415.12" y="162.72" width="6.55" height="5.46" fill="#990cc4"/><rect x="421.38" y="162.72" width="6.55" height="5.46" fill="#9c0db6"/><rect x="427.62" y="162.72" width="6.55" height="5.46" fill="#a11096"/><rect x="433.88" y="162.72" width="12.80" height="5.46" fill="#a71471"/><rect x="446.38" y="162.72" width="12.80" height="5.46" fill="#a11096"/><rect x="458.88" y="162.72" width="6.55" height="5.46" fill="#a71471"/><rect x="465.12" y="162.72" width="25.30" height="5.46" fill="#a9165e"/><rect x="490.12" y="162.72" width="6.55" height="5.46" fill="#ac184a"/><rect x="496.38" y="162.72" width="6.55" height="5.46" fill="#b11c20"/><rect x="502.62" y="162.72" width="12.80" height="5.46" fill="#b62100"/><rect x="515.12" y="162.72" width="6.55" height="5.46" fill="#ba2700"/><rect x="521.38" y="162.72" width="3.42" height="5.46" fill="#bf2d00"/><rect x="74.50" y="167.88" width="3.42" height="5.46" fill="#c63700"/><rect x="77.62" y="167.88" width="6.55" height="5.46" fill="#c83b00"/><rect x="83.88" y="167.88" width="6.55" height="5.46" fill="#ca3f00"/><rect x="90.12" y="167.88" width="6.55" height="5.46" fill="#cc4300"/><rect x="96.38" y="167.88" width="12.80" height="5.46" fill="#d04c00"/><rect x="108.88" y="167.88" width="6.55" height="5.46" fill="#cc4300"/><rect x="115.12" y="167.88" width="6.55" height="5.46" fill="#c63700"/><rect x="121.38" y="167.88" width="6.55" height="5.46" fill="#c13000"/><rect x="127.62" y="167.88" width="6.55" height="5.46" fill="#ba2700"/><rect x="133.88" y="167.88" width="6.55" height="5.46" fill="#b62100"/><rect x="140.12" y="167.88" width="6.55" height="5.46" fill="#b31f0b"/><rect x="146.38" y="167.88" width="6.55" height="5.46" fill="#ae1a35"/><rect x="152.62" y="167.88" width="6.55" height="5.46" fill="#ba2700"/><rect x="158.88" y="167.88" width="6.55" height="5.46" fill="#b11c20"/><rect x="165.12" y="167.88" width="6.55" height="5.46" fill="#a9165e"/><rect x="171.38" y="167.88" width="6.55" height="5.46" fill="#a41284"/><rect x="177.62" y="167.88" width="6.55" height="5.46" fill="#a11096"/><rect x="183.88" y="167.88" width="6.55" height="5.46" fill="#a41284"/><rect x="190.12" y="167.88" width="12.80" height="5.46" fill="#a9165e"/><rect x="202.62" y="167.88" width="12.80" height="5.46" fill="#ac184a"/><rect x="215.12" y="167.88" width="6.55" height="5.46" fill="#ae1a35"/><rect x="221.38" y="167.88" width="12.80" height="5.46" fill="#b31f0b"/><rect x="233.88" y="167.88" width="6.55" height="5.46" fill="#b11c20"/><rect x="240.12" y="167.88" width="6.55" height="5.46" fill="#ae1a35"/><rect x="246.38" y="167.88" width="6.55" height="5.46" fill="#a9165e"/><rect x="252.62" y="167.88" width="6.55" height="5.46" fill="#a71471"/><rect x="258.88" y="167.88" width="6.55" height="5.46" fill="#a11096"/><rect x="265.12" y="167.88" width="6.55" height="5.46" fill="#9f0fa7"/><rect x="271.38" y="167.88" width="6.55" height="5.46" fill="#9c0db6"/><rect x="277.62" y="167.88" width="6.55" height="5.46" fill="#990cc4"/><rect x="283.88" y="167.88" width="12.80" height="5.46" fill="#960bd1"/><rect x="296.38" y="167.88" width="12.80" height="5.46" fill="#9309dd"/><rect x="308.88" y="167.88" width="19.05" height="5.46" fill="#8d07ef"/><rect x="327.62" y="167.88" width="19.05" height="5.46" fill="#8a06f6"/><rect x="346.38" y="167.88" width="25.30" height="5.46" fill="#8706fa"/><rect x="371.38" y="167.88" width="25.30" height="5.46" fill="#8405fe"/><rect x="396.38" y="167.88" width="6.55" height="5.46" fill="#8a06f6"/><rect x="402.62" y="167.88" width="6.55" height="5.46" fill="#9008e7"/><rect x="408.88" y="167.88" width="6.55" height="5.46" fill="#960bd1"/><rect x="415.12" y="167.88" width="6.55" height="5.46" fill="#990cc4"/><rect x="421.38" y="167.88" width="6.55" height="5.46" fill="#9c0db6"/><rect x="427.62" y="167.88" width="6.55" height="5.46" fill="#a11096"/><rect x="433.88" y="167.88" width="6.55" height="5.46" fill="#a41284"/><rect x="440.12" y="167.88" width="6.55" height="5.46" fill="#a11096"/><rect x="446.38" y="167.88" width="6.55" height="5.46" fill="#a41284"/><rect x="452.62" y="167.88" width="6.55" height="5.46" fill="#a71471"/><rect x="458.88" y="167.88" width="6.55" height="5.46" fill="#a9165e"/><rect x="465.12" y="167.88" width="6.55" height="5.46" fill="#ac184a"/><rect x="471.38" y="167.88" width="6.55" height="5.46" fill="#ae1a35"/><rect x="477.62" y="167.88" width="12.80" height="5.46" fill="#b11c20"/><rect x="490.12" y="167.88" width="6.55" height="5.46" fill="#b62100"/><rect x="496.38" y="167.88" width="12.80" height="5.46" fill="#ba2700"/><rect x="508.88" y="167.88" width="6.55" height="5.46" fill="#bf2d00"/><rect x="515.12" y="167.88" width="9.68" height="5.46" fill="#c63700"/><rect x="74.50" y="173.04" width="9.68" height="5.46" fill="#cc4300"/><rect x="83.88" y="173.04" width="12.80" height="5.46" fill="#d04c00"/><rect x="96.38" y="173.04" width="6.55" height="5.46" fill="#d45500"/><rect x="102.62" y="173.04" width="6.55" height="5.46" fill="#d65a00"/><rect x="108.88" y="173.04" width="6.55" height="5.46" fill="#d45500"/><rect x="115.12" y="173.04" width="6.55" height="5.46" fill="#d04c00"/><rect x="121.38" y="173.04" width="6.55" height="5.46" fill="#c83b00"/><rect x="127.62" y="173.04" width="6.55" height="5.46" fill="#c63700"/><rect x="133.88" y="173.04" width="6.55" height="5.46" fill="#bf2d00"/><rect x="140.12" y="173.04" width="12.80" height="5.46" fill="#ba2700"/><rect x="152.62" y="173.04" width="6.55" height="5.46" fill="#bf2d00"/><rect x="158.88" y="173.04" width="6.55" height="5.46" fill="#b62100"/><rect x="165.12" y="173.04" width="6.55" height="5.46" fill="#ae1a35"/><rect x="171.38" y="173.04" width="6.55" height="5.46" fill="#a9165e"/><rect x="177.62" y="173.04" width="12.80" height="5.46" fill="#a71471"/><rect x="190.12" y="173.04" width="6.55" height="5.46" fill="#a9165e"/><rect x="196.38" y="173.04" width="12.80" height="5.46" fill="#ac184a"/><rect x="208.88" y="173.04" width="6.55" height="5.46" fill="#ae1a35"/><rect x="215.12" y="173.04" width="6.55" height="5.46" fill="#b11c20"/><rect x="221.38" y="173.04" width="6.55" height="5.46" fill="#b62100"/><rect x="227.62" y="173.04" width="6.55" height="5.46" fill="#ba2700"/><rect x="233.88" y="173.04" width="12.80" height="5.46" fill="#b62100"/><rect x="246.38" y="173.04" width="6.55" height="5.46" fill="#b11c20"/><rect x="252.62" y="173.04" width="6.55" height="5.46" fill="#ac184a"/><rect x="258.88" y="173.04" width="6.55" height="5.46" fill="#a41284"/><rect x="265.12" y="173.04" width="6.55" height="5.46" fill="#a11096"/><rect x="271.38" y="173.04" width="6.55" height="5.46" fill="#9c0db6"/><rect x="277.62" y="173.04" width="6.55" height="5.46" fill="#990cc4"/><rect x="283.88" y="173.04" width="6.55" height="5.46" fill="#960bd1"/><rect x="290.12" y="173.04" width="19.05" height="5.46" fill="#9309dd"/><rect x="308.88" y="173.04" width="6.55" height="5.46" fill="#8d07ef"/><rect x="315.12" y="173.04" width="6.55" height="5.46" fill="#9008e7"/><rect x="321.38" y="173.04" width="19.05" height="5.46" fill="#8d07ef"/><rect x="340.12" y="173.04" width="6.55" height="5.46" fill="#8a06f6"/><rect x="346.38" y="173.04" width="25.30" height="5.46" fill="#8706fa"/><rect x="371.38" y="173.04" width="25.30" height="5.46" fill="#8405fe"/><rect x="396.38" y="173.04" width="6.55" height="5.46" fill="#8706fa"/><rect x="402.62" y="173.04" width="6.55" height="5.46" fill="#8d07ef"/><rect x="408.88" y="173.04" width="6.55" height="5.46" fill="#9309dd"/><rect x="415.12" y="173.04" width="6.55" height="5.46" fill="#990cc4"/><rect x="421.38" y="173.04" width="6.55" height="5.46" fill="#9c0db6"/><rect x="427.62" y="173.04" width="19.05" height="5.46" fill="#a11096"/><rect x="446.38" y="173.04" width="6.55" height="5.46" fill="#a71471"/><rect x="452.62" y="173.04" width="6.55" height="5.46" fill="#a9165e"/><rect x="458.88" y="173.04" width="6.55" height="5.46" fill="#ac184a"/><rect x="465.12" y="173.04" width="6.55" height="5.46" fill="#ae1a35"/><rect x="471.38" y="173.04" width="6.55" height="5.46" fill="#b11c20"/><rect x="477.62" y="173.04" width="12.80" height="5.46" fill="#b62100"/><rect x="490.12" y="173.04" width="6.55" height="5.46" fill="#ba2700"/><rect x="496.38" y="173.04" width="12.80" height="5.46" fill="#bf2d00"/><rect x="508.88" y="173.04" width="6.55" height="5.46" fill="#c63700"/><rect x="515.12" y="173.04" width="6.55" height="5.46" fill="#ca3f00"/><rect x="521.38" y="173.04" width="3.42" height="5.46" fill="#cc4300"/><rect x="74.50" y="178.19" width="3.42" height="5.46" fill="#cc4300"/><rect x="77.62" y="178.19" width="19.05" height="5.46" fill="#d45500"/><rect x="96.38" y="178.19" width="12.80" height="5.46" fill="#d65a00"/><rect x="108.88" y="178.19" width="12.80" height="5.46" fill="#dc6a00"/><rect x="121.38" y="178.19" width="6.55" height="5.46" fill="#da6500"/><rect x="127.62" y="178.19" width="6.55" height="5.46" fill="#d45500"/><rect x="133.88" y="178.19" width="6.55" height="5.46" fill="#d04c00"/><rect x="140.12" y="178.19" width="6.55" height="5.46" fill="#c83b00"/><rect x="146.38" y="178.19" width="6.55" height="5.46" fill="#c63700"/><rect x="152.62" y="178.19" width="6.55" height="5.46" fill="#c83b00"/><rect x="158.88" y="178.19" width="6.55" height="5.46" fill="#bf2d00"/><rect x="165.12" y="178.19" width="6.55" height="5.46" fill="#ba2700"/><rect x="171.38" y="178.19" width="6.55" height="5.46" fill="#b62100"/><rect x="177.62" y="178.19" width="12.80" height="5.46" fill="#a71471"/><rect x="190.12" y="178.19" width="6.55" height="5.46" fill="#ac184a"/><rect x="196.38" y="178.19" width="12.80" height="5.46" fill="#ae1a35"/><rect x="208.88" y="178.19" width="12.80" height="5.46" fill="#a9165e"/><rect x="221.38" y="178.19" width="6.55" height="5.46" fill="#b11c20"/><rect x="227.62" y="178.19" width="19.05" height="5.46" fill="#b62100"/><rect x="246.38" y="178.19" width="6.55" height="5.46" fill="#b31f0b"/><rect x="252.62" y="178.19" width="6.55" height="5.46" fill="#ae1a35"/><rect x="258.88" y="178.19" width="6.55" height="5.46" fill="#a11096"/><rect x="265.12" y="178.19" width="6.55" height="5.46" fill="#9c0db6"/><rect x="271.38" y="178.19" width="6.55" height="5.46" fill="#960bd1"/><rect x="277.62" y="178.19" width="6.55" height="5.46" fill="#9309dd"/><rect x="283.88" y="178.19" width="25.30" height="5.46" fill="#9008e7"/><rect x="308.88" y="178.19" width="6.55" height="5.46" fill="#9309dd"/><rect x="315.12" y="178.19" width="6.55" height="5.46" fill="#990cc4"/><rect x="321.38" y="178.19" width="6.55" height="5.46" fill="#960bd1"/><rect x="327.62" y="178.19" width="6.55" height="5.46" fill="#9309dd"/><rect x="333.88" y="178.19" width="6.55" height="5.46" fill="#8d07ef"/><rect x="340.12" y="178.19" width="6.55" height="5.46" fill="#8a06f6"/><rect x="346.38" y="178.19" width="25.30" height="5.46" fill="#8706fa"/><rect x="371.38" y="178.19" width="19.05" height="5.46" fill="#8405fe"/><rect x="390.12" y="178.19" width="6.55" height="5.46" fill="#8a06f6"/><rect x="396.38" y="178.19" width="6.55" height="5.46" fill="#8d07ef"/><rect x="402.62" y="178.19" width="6.55" height="5.46" fill="#9008e7"/><rect x="408.88" y="178.19" width="6.55" height="5.46" fill="#9309dd"/><rect x="415.12" y="178.19" width="6.55" height="5.46" fill="#960bd1"/><rect x="421.38" y="178.19" width="6.55" height="5.46" fill="#990cc4"/><rect x="427.62" y="178.19" width="6.55" height="5.46" fill="#a11096"/><rect x="433.88" y="178.19" width="12.80" height="5.46" fill="#a71471"/><rect x="446.38" y="178.19" width="12.80" height="5.46" fill="#9c0db6"/><rect x="458.88" y="178.19" width="6.55" height="5.46" fill="#a11096"/><rect x="465.12" y="178.19" width="6.55" height="5.46" fill="#a71471"/><rect x="471.38" y="178.19" width="6.55" height="5.46" fill="#a9165e"/><rect x="477.62" y="178.19" width="6.55" height="5.46" fill="#b62100"/><rect x="483.88" y="178.19" width="6.55" height="5.46" fill="#ba2700"/><rect x="490.12" y="178.19" width="12.80" height="5.46" fill="#bf2d00"/><rect x="502.62" y="178.19" width="6.55" height="5.46" fill="#c63700"/><rect x="508.88" y="178.19" width="6.55" height="5.46" fill="#c83b00"/><rect x="515.12" y="178.19" width="9.68" height="5.46" fill="#cc4300"/><rect x="74.50" y="183.35" width="3.42" height="5.46" fill="#d04c00"/><rect x="77.62" y="183.35" width="25.30" height="5.46" fill="#d45500"/><rect x="102.62" y="183.35" width="12.80" height="5.46" fill="#d85f00"/><rect x="115.12" y="183.35" width="6.55" height="5.46" fill="#da6500"/><rect x="121.38" y="183.35" width="6.55" height="5.46" fill="#dc6a00"/><rect x="127.62" y="183.35" width="6.55" height="5.46" fill="#da6500"/><rect x="133.88" y="183.35" width="6.55" height="5.46" fill="#d85f00"/><rect x="140.12" y="183.35" width="6.55" height="5.46" fill="#d04c00"/><rect x="146.38" y="183.35" width="12.80" height="5.46" fill="#cc4300"/><rect x="158.88" y="183.35" width="6.55" height="5.46" fill="#c63700"/><rect x="165.12" y="183.35" width="6.55" height="5.46" fill="#bf2d00"/><rect x="171.38" y="183.35" width="6.55" height="5.46" fill="#ba2700"/><rect x="177.62" y="183.35" width="6.55" height="5.46" fill="#b62100"/><rect x="183.88" y="183.35" width="6.55" height="5.46" fill="#ac184a"/><rect x="190.12" y="183.35" width="19.05" height="5.46" fill="#b62100"/><rect x="208.88" y="183.35" width="6.55" height="5.46" fill="#a9165e"/><rect x="215.12" y="183.35" width="6.55" height="5.46" fill="#a71471"/><rect x="221.38" y="183.35" width="6.55" height="5.46" fill="#b11c20"/><rect x="227.62" y="183.35" width="19.05" height="5.46" fill="#b62100"/><rect x="246.38" y="183.35" width="6.55" height="5.46" fill="#ac184a"/><rect x="252.62" y="183.35" width="6.55" height="5.46" fill="#a11096"/><rect x="258.88" y="183.35" width="6.55" height="5.46" fill="#990cc4"/><rect x="265.12" y="183.35" width="6.55" height="5.46" fill="#9309dd"/><rect x="271.38" y="183.35" width="6.55" height="5.46" fill="#9008e7"/><rect x="277.62" y="183.35" width="31.55" height="5.46" fill="#8d07ef"/><rect x="308.88" y="183.35" width="6.55" height="5.46" fill="#960bd1"/><rect x="315.12" y="183.35" width="6.55" height="5.46" fill="#a11096"/><rect x="321.38" y="183.35" width="6.55" height="5.46" fill="#9c0db6"/><rect x="327.62" y="183.35" width="6.55" height="5.46" fill="#960bd1"/><rect x="333.88" y="183.35" width="6.55" height="5.46" fill="#9008e7"/><rect x="340.12" y="183.35" width="6.55" height="5.46" fill="#8a06f6"/><rect x="346.38" y="183.35" width="25.30" height="5.46" fill="#8706fa"/><rect x="371.38" y="183.35" width="19.05" height="5.46" fill="#8405fe"/><rect x="390.12" y="183.35" width="6.55" height="5.46" fill="#8706fa"/><rect x="396.38" y="183.35" width="6.55" height="5.46" fill="#8a06f6"/><rect x="402.62" y="183.35" width="6.55" height="5.46" fill="#8d07ef"/><rect x="408.88" y="183.35" width="6.55" height="5.46" fill="#9008e7"/><rect x="415.12" y="183.35" width="6.55" height="5.46" fill="#9309dd"/><rect x="421.38" y="183.35" width="6.55" height="5.46" fill="#960bd1"/><rect x="427.62" y="183.35" width="6.55" height="5.46" fill="#9c0db6"/><rect x="433.88" y="183.35" width="12.80" height="5.46" fill="#a11096"/><rect x="446.38" y="183.35" width="19.05" height="5.46" fill="#9c0db6"/><rect x="465.12" y="183.35" width="6.55" height="5.46" fill="#a11096"/><rect x="471.38" y="183.35" width="6.55" height="5.46" fill="#a9165e"/><rect x="477.62" y="183.35" width="6.55" height="5.46" fill="#b62100"/><rect x="483.88" y="183.35" width="6.55" height="5.46" fill="#bf2d00"/><rect x="490.12" y="183.35" width="6.55" height="5.46" fill="#c33300"/><rect x="496.38" y="183.35" width="6.55" height="5.46" fill="#c63700"/><rect x="502.62" y="183.35" width="6.55" height="5.46" fill="#c83b00"/><rect x="508.88" y="183.35" width="6.55" height="5.46" fill="#cc4300"/><rect x="515.12" y="183.35" width="9.68" height="5.46" fill="#d04c00"/><rect x="74.50" y="188.51" width="3.42" height="5.46" fill="#d04c00"/><rect x="77.62" y="188.51" width="6.55" height="5.46" fill="#d45500"/><rect x="83.88" y="188.51" width="6.55" height="5.46" fill="#d85f00"/><rect x="90.12" y="188.51" width="25.30" height="5.46" fill="#da6500"/><rect x="115.12" y="188.51" width="6.55" height="5.46" fill="#dc6a00"/><rect x="121.38" y="188.51" width="12.80" height="5.46" fill="#de7000"/><rect x="133.88" y="188.51" width="12.80" height="5.46" fill="#e07600"/><rect x="146.38" y="188.51" width="12.80" height="5.46" fill="#da6500"/><rect x="158.88" y="188.51" width="6.55" height="5.46" fill="#cc4300"/><rect x="165.12" y="188.51" width="6.55" height="5.46" fill="#c63700"/><rect x="171.38" y="188.51" width="6.55" height="5.46" fill="#c13000"/><rect x="177.62" y="188.51" width="6.55" height="5.46" fill="#ba2700"/><rect x="183.88" y="188.51" width="6.55" height="5.46" fill="#b62100"/><rect x="190.12" y="188.51" width="6.55" height="5.46" fill="#ba2700"/><rect x="196.38" y="188.51" width="6.55" height="5.46" fill="#b62100"/><rect x="202.62" y="188.51" width="6.55" height="5.46" fill="#b11c20"/><rect x="208.88" y="188.51" width="6.55" height="5.46" fill="#a71471"/><rect x="215.12" y="188.51" width="6.55" height="5.46" fill="#a11096"/><rect x="221.38" y="188.51" width="6.55" height="5.46" fill="#a9165e"/><rect x="227.62" y="188.51" width="12.80" height="5.46" fill="#b62100"/><rect x="240.12" y="188.51" width="6.55" height="5.46" fill="#b31f0b"/><rect x="246.38" y="188.51" width="6.55" height="5.46" fill="#a71471"/><rect x="252.62" y="188.51" width="6.55" height="5.46" fill="#9c0db6"/><rect x="258.88" y="188.51" width="6.55" height="5.46" fill="#9309dd"/><rect x="265.12" y="188.51" width="6.55" height="5.46" fill="#9008e7"/><rect x="271.38" y="188.51" width="6.55" height="5.46" fill="#8d07ef"/><rect x="277.62" y="188.51" width="31.55" height="5.46" fill="#8a06f6"/><rect x="308.88" y="188.51" width="6.55" height="5.46" fill="#960bd1"/><rect x="315.12" y="188.51" width="6.55" height="5.46" fill="#a71471"/><rect x="321.38" y="188.51" width="6.55" height="5.46" fill="#9c0db6"/><rect x="327.62" y="188.51" width="6.55" height="5.46" fill="#960bd1"/><rect x="333.88" y="188.51" width="6.55" height="5.46" fill="#8d07ef"/><rect x="340.12" y="188.51" width="6.55" height="5.46" fill="#8a06f6"/><rect x="346.38" y="188.51" width="25.30" height="5.46" fill="#8706fa"/><rect x="371.38" y="188.51" width="25.30" height="5.46" fill="#8405fe"/><rect x="396.38" y="188.51" width="6.55" height="5.46" fill="#8706fa"/><rect x="402.62" y="188.51" width="6.55" height="5.46" fill="#8a06f6"/><rect x="408.88" y="188.51" width="6.55" height="5.46" fill="#8d07ef"/><rect x="415.12" y="188.51" width="6.55" height="5.46" fill="#9008e7"/><rect x="421.38" y="188.51" width="6.55" height="5.46" fill="#9309dd"/><rect x="427.62" y="188.51" width="6.55" height="5.46" fill="#990cc4"/><rect x="433.88" y="188.51" width="19.05" height="5.46" fill="#9c0db6"/><rect x="452.62" y="188.51" width="12.80" height="5.46" fill="#990cc4"/><rect x="465.12" y="188.51" width="6.55" height="5.46" fill="#a11096"/><rect x="471.38" y="188.51" width="6.55" height="5.46" fill="#a9165e"/><rect x="477.62" y="188.51" width="6.55" height="5.46" fill="#b62100"/><rect x="483.88" y="188.51" width="6.55" height="5.46" fill="#bf2d00"/><rect x="490.12" y="188.51" width="6.55" height="5.46" fill="#c33300"/><rect x="496.38" y="188.51" width="6.55" height="5.46" fill="#c63700"/><rect x="502.62" y="188.51" width="6.55" height="5.46" fill="#c83b00"/><rect x="508.88" y="188.51" width="6.55" height="5.46" fill="#cc4300"/><rect x="515.12" y="188.51" width="9.68" height="5.46" fill="#d04c00"/><rect x="74.50" y="193.66" width="3.42" height="5.46" fill="#d04c00"/><rect x="77.62" y="193.66" width="6.55" height="5.46" fill="#d65a00"/><rect x="83.88" y="193.66" width="6.55" height="5.46" fill="#da6500"/><rect x="90.12" y="193.66" width="6.55" height="5.46" fill="#dc6a00"/><rect x="96.38" y="193.66" width="6.55" height="5.46" fill="#da6500"/><rect x="102.62" y="193.66" width="6.55" height="5.46" fill="#de7000"/><rect x="108.88" y="193.66" width="25.30" height="5.46" fill="#e07600"/><rect x="133.88" y="193.66" width="12.80" height="5.46" fill="#e89000"/><rect x="146.38" y="193.66" width="12.80" height="5.46" fill="#e48300"/><rect x="158.88" y="193.66" width="6.55" height="5.46" fill="#d04c00"/><rect x="165.12" y="193.66" width="6.55" height="5.46" fill="#c83b00"/><rect x="171.38" y="193.66" width="12.80" height="5.46" fill="#c13000"/><rect x="183.88" y="193.66" width="19.05" height="5.46" fill="#ba2700"/><rect x="202.62" y="193.66" width="6.55" height="5.46" fill="#b11c20"/><rect x="208.88" y="193.66" width="6.55" height="5.46" fill="#a71471"/><rect x="215.12" y="193.66" width="12.80" height="5.46" fill="#a11096"/><rect x="227.62" y="193.66" width="6.55" height="5.46" fill="#b31f0b"/><rect x="233.88" y="193.66" width="6.55" height="5.46" fill="#b11c20"/><rect x="240.12" y="193.66" width="6.55" height="5.46" fill="#a9165e"/><rect x="246.38" y="193.66" width="6.55" height="5.46" fill="#a11096"/><rect x="252.62" y="193.66" width="6.55" height="5.46" fill="#990cc4"/><rect x="258.88" y="193.66" width="6.55" height="5.46" fill="#9008e7"/><rect x="265.12" y="193.66" width="19.05" height="5.46" fill="#8a06f6"/><rect x="283.88" y="193.66" width="6.55" height="5.46" fill="#8405fe"/><rect x="290.12" y="193.66" width="12.80" height="5.46" fill="#8706fa"/><rect x="302.62" y="193.66" width="6.55" height="5.46" fill="#8a06f6"/><rect x="308.88" y="193.66" width="6.55" height="5.46" fill="#9008e7"/><rect x="315.12" y="193.66" width="6.55" height="5.46" fill="#960bd1"/><rect x="321.38" y="193.66" width="6.55" height="5.46" fill="#9309dd"/><rect x="327.62" y="193.66" width="6.55" height="5.46" fill="#9008e7"/><rect x="333.88" y="193.66" width="6.55" height="5.46" fill="#8a06f6"/><rect x="340.12" y="193.66" width="25.30" height="5.46" fill="#8706fa"/><rect x="365.12" y="193.66" width="25.30" height="5.46" fill="#8405fe"/><rect x="390.12" y="193.66" width="6.55" height="5.46" fill="#8004ff"/><rect x="396.38" y="193.66" width="6.55" height="5.46" fill="#8405fe"/><rect x="402.62" y="193.66" width="6.55" height="5.46" fill="#8706fa"/><rect x="408.88" y="193.66" width="6.55" height="5.46" fill="#8a06f6"/><rect x="415.12" y="193.66" width="6.55" height="5.46" fill="#8d07ef"/><rect x="421.38" y="193.66" width="6.55" height="5.46" fill="#9008e7"/><rect x="427.62" y="193.66" width="6.55" height="5.46" fill="#960bd1"/><rect x="433.88" y="193.66" width="25.30" height="5.46" fill="#990cc4"/><rect x="458.88" y="193.66" width="6.55" height="5.46" fill="#9c0db6"/><rect x="465.12" y="193.66" width="6.55" height="5.46" fill="#a11096"/><rect x="471.38" y="193.66" width="6.55" height="5.46" fill="#a9165e"/><rect x="477.62" y="193.66" width="6.55" height="5.46" fill="#b62100"/><rect x="483.88" y="193.66" width="6.55" height="5.46" fill="#bf2d00"/><rect x="490.12" y="193.66" width="6.55" height="5.46" fill="#c33300"/><rect x="496.38" y="193.66" width="6.55" height="5.46" fill="#c63700"/><rect x="502.62" y="193.66" width="6.55" height="5.46" fill="#c83b00"/><rect x="508.88" y="193.66" width="6.55" height="5.46" fill="#cc4300"/><rect x="515.12" y="193.66" width="9.68" height="5.46" fill="#d04c00"/><rect x="74.50" y="198.82" width="9.68" height="5.46" fill="#d45500"/><rect x="83.88" y="198.82" width="6.55" height="5.46" fill="#da6500"/><rect x="90.12" y="198.82" width="6.55" height="5.46" fill="#dc6a00"/><rect x="96.38" y="198.82" width="6.55" height="5.46" fill="#e07600"/><rect x="102.62" y="198.82" width="6.55" height="5.46" fill="#e48300"/><rect x="108.88" y="198.82" width="12.80" height="5.46" fill="#e89000"/><rect x="121.38" y="198.82" width="6.55" height="5.46" fill="#e48300"/><rect x="127.62" y="198.82" width="6.55" height="5.46" fill="#e89000"/><rect x="133.88" y="198.82" width="12.80" height="5.46" fill="#ec9e00"/><rect x="146.38" y="198.82" width="12.80" height="5.46" fill="#e89000"/><rect x="158.88" y="198.82" width="6.55" height="5.46" fill="#d45500"/><rect x="165.12" y="198.82" width="6.55" height="5.46" fill="#ca3f00"/><rect x="171.38" y="198.82" width="6.55" height="5.46" fill="#c63700"/><rect x="177.62" y="198.82" width="6.55" height="5.46" fill="#c13000"/><rect x="183.88" y="198.82" width="6.55" height="5.46" fill="#bf2d00"/><rect x="190.12" y="198.82" width="12.80" height="5.46" fill="#ba2700"/><rect x="202.62" y="198.82" width="6.55" height="5.46" fill="#b62100"/><rect x="208.88" y="198.82" width="6.55" height="5.46" fill="#a9165e"/><rect x="215.12" y="198.82" width="6.55" height="5.46" fill="#a11096"/><rect x="221.38" y="198.82" width="6.55" height="5.46" fill="#9c0db6"/><rect x="227.62" y="198.82" width="6.55" height="5.46" fill="#ae1a35"/><rect x="233.88" y="198.82" width="6.55" height="5.46" fill="#a9165e"/><rect x="240.12" y="198.82" width="6.55" height="5.46" fill="#a11096"/><rect x="246.38" y="198.82" width="6.55" height="5.46" fill="#9c0db6"/><rect x="252.62" y="198.82" width="6.55" height="5.46" fill="#960bd1"/><rect x="258.88" y="198.82" width="12.80" height="5.46" fill="#8a06f6"/><rect x="271.38" y="198.82" width="12.80" height="5.46" fill="#8706fa"/><rect x="283.88" y="198.82" width="6.55" height="5.46" fill="#7d04fe"/><rect x="290.12" y="198.82" width="6.55" height="5.46" fill="#8405fe"/><rect x="296.38" y="198.82" width="6.55" height="5.46" fill="#8706fa"/><rect x="302.62" y="198.82" width="12.80" height="5.46" fill="#8004ff"/><rect x="315.12" y="198.82" width="31.55" height="5.46" fill="#7d04fe"/><rect x="346.38" y="198.82" width="6.55" height="5.46" fill="#8004ff"/><rect x="352.62" y="198.82" width="12.80" height="5.46" fill="#8405fe"/><rect x="365.12" y="198.82" width="6.55" height="5.46" fill="#7903fc"/><rect x="371.38" y="198.82" width="37.80" height="5.46" fill="#7602f8"/><rect x="408.88" y="198.82" width="6.55" height="5.46" fill="#7903fc"/><rect x="415.12" y="198.82" width="6.55" height="5.46" fill="#8004ff"/><rect x="421.38" y="198.82" width="6.55" height="5.46" fill="#8706fa"/><rect x="427.62" y="198.82" width="6.55" height="5.46" fill="#9309dd"/><rect x="433.88" y="198.82" width="6.55" height="5.46" fill="#960bd1"/><rect x="440.12" y="198.82" width="19.05" height="5.46" fill="#9c0db6"/><rect x="458.88" y="198.82" width="6.55" height="5.46" fill="#a11096"/><rect x="465.12" y="198.82" width="6.55" height="5.46" fill="#a71471"/><rect x="471.38" y="198.82" width="6.55" height="5.46" fill="#ac184a"/><rect x="477.62" y="198.82" width="6.55" height="5.46" fill="#b62100"/><rect x="483.88" y="198.82" width="6.55" height="5.46" fill="#bf2d00"/><rect x="490.12" y="198.82" width="6.55" height="5.46" fill="#c33300"/><rect x="496.38" y="198.82" width="6.55" height="5.46" fill="#c63700"/><rect x="502.62" y="198.82" width="6.55" height="5.46" fill="#c83b00"/><rect x="508.88" y="198.82" width="6.55" height="5.46" fill="#cc4300"/><rect x="515.12" y="198.82" width="6.55" height="5.46" fill="#d04c00"/><rect x="521.38" y="198.82" width="3.42" height="5.46" fill="#d45500"/><rect x="74.50" y="203.98" width="3.42" height="5.46" fill="#d65a00"/><rect x="77.62" y="203.98" width="6.55" height="5.46" fill="#d45500"/><rect x="83.88" y="203.98" width="6.55" height="5.46" fill="#da6500"/><rect x="90.12" y="203.98" width="6.55" height="5.46" fill="#e48300"/><rect x="96.38" y="203.98" width="12.80" height="5.46" fill="#e89000"/><rect x="108.88" y="203.98" width="6.55" height="5.46" fill="#ec9e00"/><rect x="115.12" y="203.98" width="12.80" height="5.46" fill="#f3be00"/><rect x="127.62" y="203.98" width="12.80" height="5.46" fill="#ec9e00"/><rect x="140.12" y="203.98" width="6.55" height="5.46" fill="#e89000"/><rect x="146.38" y="203.98" width="12.80" height="5.46" fill="#e48300"/><rect x="158.88" y="203.98" width="6.55" height="5.46" fill="#d45500"/><rect x="165.12" y="203.98" width="6.55" height="5.46" fill="#cc4300"/><rect x="171.38" y="203.98" width="6.55" height="5.46" fill="#c83b00"/><rect x="177.62" y="203.98" width="6.55" height="5.46" fill="#c63700"/><rect x="183.88" y="203.98" width="6.55" height="5.46" fill="#c13000"/><rect x="190.12" y="203.98" width="19.05" height="5.46" fill="#ba2700"/><rect x="208.88" y="203.98" width="6.55" height="5.46" fill="#ae1a35"/><rect x="215.12" y="203.98" width="6.55" height="5.46" fill="#a11096"/><rect x="221.38" y="203.98" width="6.55" height="5.46" fill="#960bd1"/><rect x="227.62" y="203.98" width="6.55" height="5.46" fill="#a9165e"/><rect x="233.88" y="203.98" width="6.55" height="5.46" fill="#a11096"/><rect x="240.12" y="203.98" width="6.55" height="5.46" fill="#960bd1"/><rect x="246.38" y="203.98" width="6.55" height="5.46" fill="#9008e7"/><rect x="252.62" y="203.98" width="6.55" height="5.46" fill="#8a06f6"/><rect x="258.88" y="203.98" width="6.55" height="5.46" fill="#8706fa"/><rect x="265.12" y="203.98" width="12.80" height="5.46" fill="#8405fe"/><rect x="277.62" y="203.98" width="6.55" height="5.46" fill="#8004ff"/><rect x="283.88" y="203.98" width="6.55" height="5.46" fill="#7903fc"/><rect x="290.12" y="203.98" width="6.55" height="5.46" fill="#7202f3"/><rect x="296.38" y="203.98" width="6.55" height="5.46" fill="#8405fe"/><rect x="302.62" y="203.98" width="6.55" height="5.46" fill="#7d04fe"/><rect x="308.88" y="203.98" width="31.55" height="5.46" fill="#7903fc"/><rect x="340.12" y="203.98" width="6.55" height="5.46" fill="#7602f8"/><rect x="346.38" y="203.98" width="6.55" height="5.46" fill="#7903fc"/><rect x="352.62" y="203.98" width="12.80" height="5.46" fill="#8004ff"/><rect x="365.12" y="203.98" width="6.55" height="5.46" fill="#7602f8"/><rect x="371.38" y="203.98" width="31.55" height="5.46" fill="#7202f3"/><rect x="402.62" y="203.98" width="6.55" height="5.46" fill="#7602f8"/><rect x="408.88" y="203.98" width="6.55" height="5.46" fill="#7903fc"/><rect x="415.12" y="203.98" width="6.55" height="5.46" fill="#7d04fe"/><rect x="421.38" y="203.98" width="6.55" height="5.46" fill="#8405fe"/><rect x="427.62" y="203.98" width="6.55" height="5.46" fill="#9008e7"/><rect x="433.88" y="203.98" width="6.55" height="5.46" fill="#960bd1"/><rect x="440.12" y="203.98" width="19.05" height="5.46" fill="#a11096"/><rect x="458.88" y="203.98" width="6.55" height="5.46" fill="#a71471"/><rect x="465.12" y="203.98" width="6.55" height="5.46" fill="#a9165e"/><rect x="471.38" y="203.98" width="6.55" height="5.46" fill="#b11c20"/><rect x="477.62" y="203.98" width="6.55" height="5.46" fill="#ba2700"/><rect x="483.88" y="203.98" width="6.55" height="5.46" fill="#bf2d00"/><rect x="490.12" y="203.98" width="6.55" height="5.46" fill="#c63700"/><rect x="496.38" y="203.98" width="6.55" height="5.46" fill="#c83b00"/><rect x="502.62" y="203.98" width="6.55" height="5.46" fill="#ca3f00"/><rect x="508.88" y="203.98" width="6.55" height="5.46" fill="#cc4300"/><rect x="515.12" y="203.98" width="6.55" height="5.46" fill="#d04c00"/><rect x="521.38" y="203.98" width="3.42" height="5.46" fill="#d65a00"/><rect x="74.50" y="209.14" width="3.42" height="5.46" fill="#da6500"/><rect x="77.62" y="209.14" width="6.55" height="5.46" fill="#d45500"/><rect x="83.88" y="209.14" width="6.55" height="5.46" fill="#da6500"/><rect x="90.12" y="209.14" width="6.55" height="5.46" fill="#e48300"/><rect x="96.38" y="209.14" width="12.80" height="5.46" fill="#e89000"/><rect x="108.88" y="209.14" width="6.55" height="5.46" fill="#ec9e00"/><rect x="115.12" y="209.14" width="12.80" height="5.46" fill="#efae00"/><rect x="127.62" y="209.14" width="6.55" height="5.46" fill="#ec9e00"/><rect x="133.88" y="209.14" width="12.80" height="5.46" fill="#e89000"/><rect x="146.38" y="209.14" width="6.55" height="5.46" fill="#e48300"/><rect x="152.62" y="209.14" width="6.55" height="5.46" fill="#e07600"/><rect x="158.88" y="209.14" width="6.55" height="5.46" fill="#d45500"/><rect x="165.12" y="209.14" width="6.55" height="5.46" fill="#cc4300"/><rect x="171.38" y="209.14" width="6.55" height="5.46" fill="#ca3f00"/><rect x="177.62" y="209.14" width="6.55" height="5.46" fill="#c83b00"/><rect x="183.88" y="209.14" width="6.55" height="5.46" fill="#c33300"/><rect x="190.12" y="209.14" width="6.55" height="5.46" fill="#bf2d00"/><rect x="196.38" y="209.14" width="6.55" height="5.46" fill="#ba2700"/><rect x="202.62" y="209.14" width="6.55" height="5.46" fill="#b62100"/><rect x="208.88" y="209.14" width="6.55" height="5.46" fill="#a9165e"/><rect x="215.12" y="209.14" width="6.55" height="5.46" fill="#9c0db6"/><rect x="221.38" y="209.14" width="6.55" height="5.46" fill="#9008e7"/><rect x="227.62" y="209.14" width="6.55" height="5.46" fill="#a11096"/><rect x="233.88" y="209.14" width="6.55" height="5.46" fill="#9309dd"/><rect x="240.12" y="209.14" width="6.55" height="5.46" fill="#8a06f6"/><rect x="246.38" y="209.14" width="6.55" height="5.46" fill="#8405fe"/><rect x="252.62" y="209.14" width="6.55" height="5.46" fill="#8004ff"/><rect x="258.88" y="209.14" width="37.80" height="5.46" fill="#7d04fe"/><rect x="296.38" y="209.14" width="6.55" height="5.46" fill="#8405fe"/><rect x="302.62" y="209.14" width="6.55" height="5.46" fill="#7d04fe"/><rect x="308.88" y="209.14" width="12.80" height="5.46" fill="#7602f8"/><rect x="321.38" y="209.14" width="6.55" height="5.46" fill="#7202f3"/><rect x="327.62" y="209.14" width="12.80" height="5.46" fill="#6e02eb"/><rect x="340.12" y="209.14" width="6.55" height="5.46" fill="#7202f3"/><rect x="346.38" y="209.14" width="6.55" height="5.46" fill="#7602f8"/><rect x="352.62" y="209.14" width="12.80" height="5.46" fill="#7903fc"/><rect x="365.12" y="209.14" width="6.55" height="5.46" fill="#7202f3"/><rect x="371.38" y="209.14" width="12.80" height="5.46" fill="#6601d7"/><rect x="383.88" y="209.14" width="6.55" height="5.46" fill="#6a01e2"/><rect x="390.12" y="209.14" width="12.80" height="5.46" fill="#6e02eb"/><rect x="402.62" y="209.14" width="6.55" height="5.46" fill="#7202f3"/><rect x="408.88" y="209.14" width="6.55" height="5.46" fill="#7602f8"/><rect x="415.12" y="209.14" width="6.55" height="5.46" fill="#7d04fe"/><rect x="421.38" y="209.14" width="6.55" height="5.46" fill="#8405fe"/><rect x="427.62" y="209.14" width="6.55" height="5.46" fill="#9008e7"/><rect x="433.88" y="209.14" width="6.55" height="5.46" fill="#9c0db6"/><rect x="440.12" y="209.14" width="12.80" height="5.46" fill="#a71471"/><rect x="452.62" y="209.14" width="6.55" height="5.46" fill="#ac184a"/><rect x="458.88" y="209.14" width="6.55" height="5.46" fill="#b11c20"/><rect x="465.12" y="209.14" width="6.55" height="5.46" fill="#b31f0b"/><rect x="471.38" y="209.14" width="6.55" height="5.46" fill="#b62100"/><rect x="477.62" y="209.14" width="6.55" height="5.46" fill="#ba2700"/><rect x="483.88" y="209.14" width="6.55" height="5.46" fill="#c33300"/><rect x="490.12" y="209.14" width="6.55" height="5.46" fill="#c83b00"/><rect x="496.38" y="209.14" width="12.80" height="5.46" fill="#cc4300"/><rect x="508.88" y="209.14" width="6.55" height="5.46" fill="#d04c00"/><rect x="515.12" y="209.14" width="6.55" height="5.46" fill="#d45500"/><rect x="521.38" y="209.14" width="3.42" height="5.46" fill="#da6500"/><rect x="74.50" y="214.29" width="3.42" height="5.46" fill="#de7000"/><rect x="77.62" y="214.29" width="6.55" height="5.46" fill="#d45500"/><rect x="83.88" y="214.29" width="6.55" height="5.46" fill="#da6500"/><rect x="90.12" y="214.29" width="6.55" height="5.46" fill="#dc6a00"/><rect x="96.38" y="214.29" width="25.30" height="5.46" fill="#e07600"/><rect x="121.38" y="214.29" width="6.55" height="5.46" fill="#e48300"/><rect x="127.62" y="214.29" width="19.05" height="5.46" fill="#e89000"/><rect x="146.38" y="214.29" width="6.55" height="5.46" fill="#e48300"/><rect x="152.62" y="214.29" width="6.55" height="5.46" fill="#de7000"/><rect x="158.88" y="214.29" width="6.55" height="5.46" fill="#d45500"/><rect x="165.12" y="214.29" width="6.55" height="5.46" fill="#cc4300"/><rect x="171.38" y="214.29" width="6.55" height="5.46" fill="#ca3f00"/><rect x="177.62" y="214.29" width="6.55" height="5.46" fill="#c83b00"/><rect x="183.88" y="214.29" width="6.55" height="5.46" fill="#c63700"/><rect x="190.12" y="214.29" width="6.55" height="5.46" fill="#c13000"/><rect x="196.38" y="214.29" width="6.55" height="5.46" fill="#ba2700"/><rect x="202.62" y="214.29" width="6.55" height="5.46" fill="#b62100"/><rect x="208.88" y="214.29" width="6.55" height="5.46" fill="#a11096"/><rect x="215.12" y="214.29" width="6.55" height="5.46" fill="#9309dd"/><rect x="221.38" y="214.29" width="6.55" height="5.46" fill="#8a06f6"/><rect x="227.62" y="214.29" width="6.55" height="5.46" fill="#960bd1"/><rect x="233.88" y="214.29" width="6.55" height="5.46" fill="#8405fe"/><rect x="240.12" y="214.29" width="6.55" height="5.46" fill="#7602f8"/><rect x="246.38" y="214.29" width="6.55" height="5.46" fill="#6601d7"/><rect x="252.62" y="214.29" width="6.55" height="5.46" fill="#5d01be"/><rect x="258.88" y="214.29" width="6.55" height="5.46" fill="#6601d7"/><rect x="265.12" y="214.29" width="6.55" height="5.46" fill="#7202f3"/><rect x="271.38" y="214.29" width="6.55" height="5.46" fill="#7903fc"/><rect x="277.62" y="214.29" width="6.55" height="5.46" fill="#7d04fe"/><rect x="283.88" y="214.29" width="6.55" height="5.46" fill="#7602f8"/><rect x="290.12" y="214.29" width="6.55" height="5.46" fill="#7d04fe"/><rect x="296.38" y="214.29" width="6.55" height="5.46" fill="#8405fe"/><rect x="302.62" y="214.29" width="6.55" height="5.46" fill="#7d04fe"/><rect x="308.88" y="214.29" width="6.55" height="5.46" fill="#7602f8"/><rect x="315.12" y="214.29" width="6.55" height="5.46" fill="#7202f3"/><rect x="321.38" y="214.29" width="6.55" height="5.46" fill="#6601d7"/><rect x="327.62" y="214.29" width="6.55" height="5.46" fill="#6201cb"/><rect x="333.88" y="214.29" width="6.55" height="5.46" fill="#6601d7"/><rect x="340.12" y="214.29" width="31.55" height="5.46" fill="#6e02eb"/><rect x="371.38" y="214.29" width="6.55" height="5.46" fill="#6201cb"/><rect x="377.62" y="214.29" width="6.55" height="5.46" fill="#5d01be"/><rect x="383.88" y="214.29" width="6.55" height="5.46" fill="#6601d7"/><rect x="390.12" y="214.29" width="12.80" height="5.46" fill="#6a01e2"/><rect x="402.62" y="214.29" width="6.55" height="5.46" fill="#6e02eb"/><rect x="408.88" y="214.29" width="6.55" height="5.46" fill="#7602f8"/><rect x="415.12" y="214.29" width="6.55" height="5.46" fill="#7d04fe"/><rect x="421.38" y="214.29" width="6.55" height="5.46" fill="#8004ff"/><rect x="427.62" y="214.29" width="6.55" height="5.46" fill="#9008e7"/><rect x="433.88" y="214.29" width="6.55" height="5.46" fill="#9c0db6"/><rect x="440.12" y="214.29" width="6.55" height="5.46" fill="#a9165e"/><rect x="446.38" y="214.29" width="6.55" height="5.46" fill="#ae1a35"/><rect x="452.62" y="214.29" width="12.80" height="5.46" fill="#b62100"/><rect x="465.12" y="214.29" width="6.55" height="5.46" fill="#ba2700"/><rect x="471.38" y="214.29" width="6.55" height="5.46" fill="#bf2d00"/><rect x="477.62" y="214.29" width="6.55" height="5.46" fill="#c63700"/><rect x="483.88" y="214.29" width="6.55" height="5.46" fill="#c83b00"/><rect x="490.12" y="214.29" width="6.55" height="5.46" fill="#cc4300"/><rect x="496.38" y="214.29" width="12.80" height="5.46" fill="#d04c00"/><rect x="508.88" y="214.29" width="6.55" height="5.46" fill="#d45500"/><rect x="515.12" y="214.29" width="6.55" height="5.46" fill="#da6500"/><rect x="521.38" y="214.29" width="3.42" height="5.46" fill="#de7000"/><rect x="74.50" y="219.45" width="3.42" height="5.46" fill="#e07600"/><rect x="77.62" y="219.45" width="6.55" height="5.46" fill="#d45500"/><rect x="83.88" y="219.45" width="31.55" height="5.46" fill="#da6500"/><rect x="115.12" y="219.45" width="6.55" height="5.46" fill="#dc6a00"/><rect x="121.38" y="219.45" width="6.55" height="5.46" fill="#e07600"/><rect x="127.62" y="219.45" width="19.05" height="5.46" fill="#e48300"/><rect x="146.38" y="219.45" width="6.55" height="5.46" fill="#e07600"/><rect x="152.62" y="219.45" width="6.55" height="5.46" fill="#dc6a00"/><rect x="158.88" y="219.45" width="6.55" height="5.46" fill="#d04c00"/><rect x="165.12" y="219.45" width="6.55" height="5.46" fill="#cc4300"/><rect x="171.38" y="219.45" width="6.55" height="5.46" fill="#ca3f00"/><rect x="177.62" y="219.45" width="6.55" height="5.46" fill="#c83b00"/><rect x="183.88" y="219.45" width="6.55" height="5.46" fill="#c63700"/><rect x="190.12" y="219.45" width="6.55" height="5.46" fill="#c33300"/><rect x="196.38" y="219.45" width="6.55" height="5.46" fill="#ba2700"/><rect x="202.62" y="219.45" width="6.55" height="5.46" fill="#a71471"/><rect x="208.88" y="219.45" width="6.55" height="5.46" fill="#9c0db6"/><rect x="215.12" y="219.45" width="6.55" height="5.46" fill="#9008e7"/><rect x="221.38" y="219.45" width="6.55" height="5.46" fill="#8a06f6"/><rect x="227.62" y="219.45" width="6.55" height="5.46" fill="#8405fe"/><rect x="233.88" y="219.45" width="6.55" height="5.46" fill="#7602f8"/><rect x="240.12" y="219.45" width="6.55" height="5.46" fill="#6601d7"/><rect x="246.38" y="219.45" width="6.55" height="5.46" fill="#53009e"/><rect x="252.62" y="219.45" width="6.55" height="5.46" fill="#48007b"/><rect x="258.88" y="219.45" width="6.55" height="5.46" fill="#5d01be"/><rect x="265.12" y="219.45" width="6.55" height="5.46" fill="#7d04fe"/><rect x="271.38" y="219.45" width="6.55" height="5.46" fill="#8004ff"/><rect x="277.62" y="219.45" width="12.80" height="5.46" fill="#7d04fe"/><rect x="290.12" y="219.45" width="6.55" height="5.46" fill="#8004ff"/><rect x="296.38" y="219.45" width="6.55" height="5.46" fill="#8405fe"/><rect x="302.62" y="219.45" width="6.55" height="5.46" fill="#7d04fe"/><rect x="308.88" y="219.45" width="6.55" height="5.46" fill="#7602f8"/><rect x="315.12" y="219.45" width="6.55" height="5.46" fill="#6a01e2"/><rect x="321.38" y="219.45" width="12.80" height="5.46" fill="#6601d7"/><rect x="333.88" y="219.45" width="25.30" height="5.46" fill="#6a01e2"/><rect x="358.88" y="219.45" width="12.80" height="5.46" fill="#6e02eb"/><rect x="371.38" y="219.45" width="6.55" height="5.46" fill="#5d01be"/><rect x="377.62" y="219.45" width="6.55" height="5.46" fill="#5800af"/><rect x="383.88" y="219.45" width="6.55" height="5.46" fill="#6201cb"/><rect x="390.12" y="219.45" width="12.80" height="5.46" fill="#6a01e2"/><rect x="402.62" y="219.45" width="6.55" height="5.46" fill="#6e02eb"/><rect x="408.88" y="219.45" width="6.55" height="5.46" fill="#7602f8"/><rect x="415.12" y="219.45" width="6.55" height="5.46" fill="#7903fc"/><rect x="421.38" y="219.45" width="6.55" height="5.46" fill="#8004ff"/><rect x="427.62" y="219.45" width="6.55" height="5.46" fill="#9008e7"/><rect x="433.88" y="219.45" width="6.55" height="5.46" fill="#9c0db6"/><rect x="440.12" y="219.45" width="6.55" height="5.46" fill="#a9165e"/><rect x="446.38" y="219.45" width="6.55" height="5.46" fill="#ae1a35"/><rect x="452.62" y="219.45" width="12.80" height="5.46" fill="#b62100"/><rect x="465.12" y="219.45" width="6.55" height="5.46" fill="#ba2700"/><rect x="471.38" y="219.45" width="6.55" height="5.46" fill="#bf2d00"/><rect x="477.62" y="219.45" width="6.55" height="5.46" fill="#c63700"/><rect x="483.88" y="219.45" width="6.55" height="5.46" fill="#ca3f00"/><rect x="490.12" y="219.45" width="6.55" height="5.46" fill="#d04c00"/><rect x="496.38" y="219.45" width="6.55" height="5.46" fill="#d45500"/><rect x="502.62" y="219.45" width="6.55" height="5.46" fill="#d65a00"/><rect x="508.88" y="219.45" width="6.55" height="5.46" fill="#da6500"/><rect x="515.12" y="219.45" width="6.55" height="5.46" fill="#de7000"/><rect x="521.38" y="219.45" width="3.42" height="5.46" fill="#e07600"/><rect x="74.50" y="224.61" width="3.42" height="5.46" fill="#e48300"/><rect x="77.62" y="224.61" width="6.55" height="5.46" fill="#d45500"/><rect x="83.88" y="224.61" width="6.55" height="5.46" fill="#d65a00"/><rect x="90.12" y="224.61" width="6.55" height="5.46" fill="#d45500"/><rect x="96.38" y="224.61" width="12.80" height="5.46" fill="#d04c00"/><rect x="108.88" y="224.61" width="12.80" height="5.46" fill="#d65a00"/><rect x="121.38" y="224.61" width="6.55" height="5.46" fill="#da6500"/><rect x="127.62" y="224.61" width="12.80" height="5.46" fill="#dc6a00"/><rect x="140.12" y="224.61" width="6.55" height="5.46" fill="#de7000"/><rect x="146.38" y="224.61" width="6.55" height="5.46" fill="#dc6a00"/><rect x="152.62" y="224.61" width="6.55" height="5.46" fill="#da6500"/><rect x="158.88" y="224.61" width="6.55" height="5.46" fill="#d04c00"/><rect x="165.12" y="224.61" width="6.55" height="5.46" fill="#cc4300"/><rect x="171.38" y="224.61" width="6.55" height="5.46" fill="#c83b00"/><rect x="177.62" y="224.61" width="12.80" height="5.46" fill="#c63700"/><rect x="190.12" y="224.61" width="6.55" height="5.46" fill="#c33300"/><rect x="196.38" y="224.61" width="6.55" height="5.46" fill="#ba2700"/><rect x="202.62" y="224.61" width="6.55" height="5.46" fill="#a11096"/><rect x="208.88" y="224.61" width="6.55" height="5.46" fill="#990cc4"/><rect x="215.12" y="224.61" width="6.55" height="5.46" fill="#9008e7"/><rect x="221.38" y="224.61" width="6.55" height="5.46" fill="#8405fe"/><rect x="227.62" y="224.61" width="6.55" height="5.46" fill="#7903fc"/><rect x="233.88" y="224.61" width="6.55" height="5.46" fill="#6601d7"/><rect x="240.12" y="224.61" width="19.05" height="5.46" fill="#48007b"/><rect x="258.88" y="224.61" width="6.55" height="5.46" fill="#5d01be"/><rect x="265.12" y="224.61" width="6.55" height="5.46" fill="#7d04fe"/><rect x="271.38" y="224.61" width="31.55" height="5.46" fill="#8405fe"/><rect x="302.62" y="224.61" width="6.55" height="5.46" fill="#7d04fe"/><rect x="308.88" y="224.61" width="6.55" height="5.46" fill="#7602f8"/><rect x="315.12" y="224.61" width="44.05" height="5.46" fill="#6e02eb"/><rect x="358.88" y="224.61" width="6.55" height="5.46" fill="#7202f3"/><rect x="365.12" y="224.61" width="6.55" height="5.46" fill="#6e02eb"/><rect x="371.38" y="224.61" width="6.55" height="5.46" fill="#5d01be"/><rect x="377.62" y="224.61" width="6.55" height="5.46" fill="#5800af"/><rect x="383.88" y="224.61" width="6.55" height="5.46" fill="#6201cb"/><rect x="390.12" y="224.61" width="6.55" height="5.46" fill="#6601d7"/><rect x="396.38" y="224.61" width="6.55" height="5.46" fill="#6a01e2"/><rect x="402.62" y="224.61" width="6.55" height="5.46" fill="#6e02eb"/><rect x="408.88" y="224.61" width="6.55" height="5.46" fill="#7202f3"/><rect x="415.12" y="224.61" width="6.55" height="5.46" fill="#7903fc"/><rect x="421.38" y="224.61" width="6.55" height="5.46" fill="#7d04fe"/><rect x="427.62" y="224.61" width="6.55" height="5.46" fill="#9309dd"/><rect x="433.88" y="224.61" width="6.55" height="5.46" fill="#9c0db6"/><rect x="440.12" y="224.61" width="6.55" height="5.46" fill="#a71471"/><rect x="446.38" y="224.61" width="6.55" height="5.46" fill="#a9165e"/><rect x="452.62" y="224.61" width="12.80" height="5.46" fill="#b11c20"/><rect x="465.12" y="224.61" width="6.55" height="5.46" fill="#b62100"/><rect x="471.38" y="224.61" width="6.55" height="5.46" fill="#bf2d00"/><rect x="477.62" y="224.61" width="6.55" height="5.46" fill="#c63700"/><rect x="483.88" y="224.61" width="6.55" height="5.46" fill="#cc4300"/><rect x="490.12" y="224.61" width="6.55" height="5.46" fill="#d45500"/><rect x="496.38" y="224.61" width="6.55" height="5.46" fill="#da6500"/><rect x="502.62" y="224.61" width="6.55" height="5.46" fill="#dc6a00"/><rect x="508.88" y="224.61" width="12.80" height="5.46" fill="#e07600"/><rect x="521.38" y="224.61" width="3.42" height="5.46" fill="#e48300"/><rect x="74.50" y="229.76" width="3.42" height="5.46" fill="#e89000"/><rect x="77.62" y="229.76" width="6.55" height="5.46" fill="#d85f00"/><rect x="83.88" y="229.76" width="6.55" height="5.46" fill="#d65a00"/><rect x="90.12" y="229.76" width="6.55" height="5.46" fill="#d45500"/><rect x="96.38" y="229.76" width="12.80" height="5.46" fill="#d04c00"/><rect x="108.88" y="229.76" width="19.05" height="5.46" fill="#d65a00"/><rect x="127.62" y="229.76" width="12.80" height="5.46" fill="#da6500"/><rect x="140.12" y="229.76" width="6.55" height="5.46" fill="#dc6a00"/><rect x="146.38" y="229.76" width="6.55" height="5.46" fill="#da6500"/><rect x="152.62" y="229.76" width="6.55" height="5.46" fill="#d85f00"/><rect x="158.88" y="229.76" width="6.55" height="5.46" fill="#d04c00"/><rect x="165.12" y="229.76" width="6.55" height="5.46" fill="#ca3f00"/><rect x="171.38" y="229.76" width="19.05" height="5.46" fill="#c63700"/><rect x="190.12" y="229.76" width="6.55" height="5.46" fill="#c13000"/><rect x="196.38" y="229.76" width="6.55" height="5.46" fill="#b62100"/><rect x="202.62" y="229.76" width="6.55" height="5.46" fill="#a11096"/><rect x="208.88" y="229.76" width="6.55" height="5.46" fill="#960bd1"/><rect x="215.12" y="229.76" width="6.55" height="5.46" fill="#8a06f6"/><rect x="221.38" y="229.76" width="6.55" height="5.46" fill="#8405fe"/><rect x="227.62" y="229.76" width="6.55" height="5.46" fill="#7202f3"/><rect x="233.88" y="229.76" width="6.55" height="5.46" fill="#5d01be"/><rect x="240.12" y="229.76" width="6.55" height="5.46" fill="#48007b"/><rect x="246.38" y="229.76" width="6.55" height="5.46" fill="#420068"/><rect x="252.62" y="229.76" width="6.55" height="5.46" fill="#48007b"/><rect x="258.88" y="229.76" width="6.55" height="5.46" fill="#6601d7"/><rect x="265.12" y="229.76" width="6.55" height="5.46" fill="#7d04fe"/><rect x="271.38" y="229.76" width="6.55" height="5.46" fill="#9c0db6"/><rect x="277.62" y="229.76" width="6.55" height="5.46" fill="#9008e7"/><rect x="283.88" y="229.76" width="6.55" height="5.46" fill="#8a06f6"/><rect x="290.12" y="229.76" width="12.80" height="5.46" fill="#8405fe"/><rect x="302.62" y="229.76" width="6.55" height="5.46" fill="#7d04fe"/><rect x="308.88" y="229.76" width="6.55" height="5.46" fill="#7903fc"/><rect x="315.12" y="229.76" width="25.30" height="5.46" fill="#7602f8"/><rect x="340.12" y="229.76" width="12.80" height="5.46" fill="#7202f3"/><rect x="352.62" y="229.76" width="12.80" height="5.46" fill="#7602f8"/><rect x="365.12" y="229.76" width="6.55" height="5.46" fill="#7202f3"/><rect x="371.38" y="229.76" width="6.55" height="5.46" fill="#6a01e2"/><rect x="377.62" y="229.76" width="6.55" height="5.46" fill="#6601d7"/><rect x="383.88" y="229.76" width="6.55" height="5.46" fill="#6a01e2"/><rect x="390.12" y="229.76" width="6.55" height="5.46" fill="#6601d7"/><rect x="396.38" y="229.76" width="6.55" height="5.46" fill="#6201cb"/><rect x="402.62" y="229.76" width="6.55" height="5.46" fill="#6a01e2"/><rect x="408.88" y="229.76" width="6.55" height="5.46" fill="#7202f3"/><rect x="415.12" y="229.76" width="6.55" height="5.46" fill="#7903fc"/><rect x="421.38" y="229.76" width="6.55" height="5.46" fill="#7d04fe"/><rect x="427.62" y="229.76" width="6.55" height="5.46" fill="#9008e7"/><rect x="433.88" y="229.76" width="6.55" height="5.46" fill="#990cc4"/><rect x="440.12" y="229.76" width="6.55" height="5.46" fill="#a11096"/><rect x="446.38" y="229.76" width="6.55" height="5.46" fill="#a71471"/><rect x="452.62" y="229.76" width="6.55" height="5.46" fill="#a9165e"/><rect x="458.88" y="229.76" width="6.55" height="5.46" fill="#ac184a"/><rect x="465.12" y="229.76" width="6.55" height="5.46" fill="#b11c20"/><rect x="471.38" y="229.76" width="6.55" height="5.46" fill="#ba2700"/><rect x="477.62" y="229.76" width="6.55" height="5.46" fill="#bf2d00"/><rect x="483.88" y="229.76" width="6.55" height="5.46" fill="#c83b00"/><rect x="490.12" y="229.76" width="6.55" height="5.46" fill="#d65a00"/><rect x="496.38" y="229.76" width="6.55" height="5.46" fill="#dc6a00"/><rect x="502.62" y="229.76" width="6.55" height="5.46" fill="#e07600"/><rect x="508.88" y="229.76" width="15.93" height="5.46" fill="#e89000"/><rect x="74.50" y="234.92" width="3.42" height="5.46" fill="#e89000"/><rect x="77.62" y="234.92" width="6.55" height="5.46" fill="#de7000"/><rect x="83.88" y="234.92" width="6.55" height="5.46" fill="#dc6a00"/><rect x="90.12" y="234.92" width="6.55" height="5.46" fill="#da6500"/><rect x="96.38" y="234.92" width="6.55" height="5.46" fill="#d65a00"/><rect x="102.62" y="234.92" width="25.30" height="5.46" fill="#d45500"/><rect x="127.62" y="234.92" width="6.55" height="5.46" fill="#d65a00"/><rect x="133.88" y="234.92" width="6.55" height="5.46" fill="#d85f00"/><rect x="140.12" y="234.92" width="12.80" height="5.46" fill="#d65a00"/><rect x="152.62" y="234.92" width="6.55" height="5.46" fill="#d45500"/><rect x="158.88" y="234.92" width="6.55" height="5.46" fill="#cc4300"/><rect x="165.12" y="234.92" width="19.05" height="5.46" fill="#c63700"/><rect x="183.88" y="234.92" width="6.55" height="5.46" fill="#c13000"/><rect x="190.12" y="234.92" width="6.55" height="5.46" fill="#bf2d00"/><rect x="196.38" y="234.92" width="6.55" height="5.46" fill="#a71471"/><rect x="202.62" y="234.92" width="6.55" height="5.46" fill="#a11096"/><rect x="208.88" y="234.92" width="6.55" height="5.46" fill="#9008e7"/><rect x="215.12" y="234.92" width="6.55" height="5.46" fill="#8a06f6"/><rect x="221.38" y="234.92" width="6.55" height="5.46" fill="#8405fe"/><rect x="227.62" y="234.92" width="6.55" height="5.46" fill="#6e02eb"/><rect x="233.88" y="234.92" width="6.55" height="5.46" fill="#5d01be"/><rect x="240.12" y="234.92" width="6.55" height="5.46" fill="#4e008d"/><rect x="246.38" y="234.92" width="6.55" height="5.46" fill="#420068"/><rect x="252.62" y="234.92" width="6.55" height="5.46" fill="#4e008d"/><rect x="258.88" y="234.92" width="6.55" height="5.46" fill="#6a01e2"/><rect x="265.12" y="234.92" width="6.55" height="5.46" fill="#8405fe"/><rect x="271.38" y="234.92" width="6.55" height="5.46" fill="#9c0db6"/><rect x="277.62" y="234.92" width="6.55" height="5.46" fill="#960bd1"/><rect x="283.88" y="234.92" width="6.55" height="5.46" fill="#8a06f6"/><rect x="290.12" y="234.92" width="12.80" height="5.46" fill="#8405fe"/><rect x="302.62" y="234.92" width="6.55" height="5.46" fill="#7d04fe"/><rect x="308.88" y="234.92" width="19.05" height="5.46" fill="#7903fc"/><rect x="327.62" y="234.92" width="44.05" height="5.46" fill="#7602f8"/><rect x="371.38" y="234.92" width="6.55" height="5.46" fill="#7202f3"/><rect x="377.62" y="234.92" width="6.55" height="5.46" fill="#6e02eb"/><rect x="383.88" y="234.92" width="6.55" height="5.46" fill="#6a01e2"/><rect x="390.12" y="234.92" width="6.55" height="5.46" fill="#6601d7"/><rect x="396.38" y="234.92" width="6.55" height="5.46" fill="#6201cb"/><rect x="402.62" y="234.92" width="6.55" height="5.46" fill="#6601d7"/><rect x="408.88" y="234.92" width="6.55" height="5.46" fill="#6e02eb"/><rect x="415.12" y="234.92" width="6.55" height="5.46" fill="#7602f8"/><rect x="421.38" y="234.92" width="6.55" height="5.46" fill="#7d04fe"/><rect x="427.62" y="234.92" width="6.55" height="5.46" fill="#8a06f6"/><rect x="433.88" y="234.92" width="6.55" height="5.46" fill="#9008e7"/><rect x="440.12" y="234.92" width="6.55" height="5.46" fill="#960bd1"/><rect x="446.38" y="234.92" width="12.80" height="5.46" fill="#9c0db6"/><rect x="458.88" y="234.92" width="6.55" height="5.46" fill="#a11096"/><rect x="465.12" y="234.92" width="6.55" height="5.46" fill="#a9165e"/><rect x="471.38" y="234.92" width="6.55" height="5.46" fill="#b11c20"/><rect x="477.62" y="234.92" width="6.55" height="5.46" fill="#b62100"/><rect x="483.88" y="234.92" width="6.55" height="5.46" fill="#bf2d00"/><rect x="490.12" y="234.92" width="6.55" height="5.46" fill="#d04c00"/><rect x="496.38" y="234.92" width="6.55" height="5.46" fill="#da6500"/><rect x="502.62" y="234.92" width="6.55" height="5.46" fill="#e48300"/><rect x="508.88" y="234.92" width="6.55" height="5.46" fill="#ec9e00"/><rect x="515.12" y="234.92" width="6.55" height="5.46" fill="#efae00"/><rect x="521.38" y="234.92" width="3.42" height="5.46" fill="#e89000"/><rect x="74.50" y="240.08" width="3.42" height="5.46" fill="#e68900"/><rect x="77.62" y="240.08" width="12.80" height="5.46" fill="#e48300"/><rect x="90.12" y="240.08" width="6.55" height="5.46" fill="#e07600"/><rect x="96.38" y="240.08" width="6.55" height="5.46" fill="#da6500"/><rect x="102.62" y="240.08" width="25.30" height="5.46" fill="#d65a00"/><rect x="127.62" y="240.08" width="6.55" height="5.46" fill="#d45500"/><rect x="133.88" y="240.08" width="12.80" height="5.46" fill="#da6500"/><rect x="146.38" y="240.08" width="12.80" height="5.46" fill="#d65a00"/><rect x="158.88" y="240.08" width="6.55" height="5.46" fill="#cc4300"/><rect x="165.12" y="240.08" width="19.05" height="5.46" fill="#c63700"/><rect x="183.88" y="240.08" width="6.55" height="5.46" fill="#c33300"/><rect x="190.12" y="240.08" width="6.55" height="5.46" fill="#bf2d00"/><rect x="196.38" y="240.08" width="6.55" height="5.46" fill="#a9165e"/><rect x="202.62" y="240.08" width="6.55" height="5.46" fill="#960bd1"/><rect x="208.88" y="240.08" width="6.55" height="5.46" fill="#8a06f6"/><rect x="215.12" y="240.08" width="6.55" height="5.46" fill="#8004ff"/><rect x="221.38" y="240.08" width="6.55" height="5.46" fill="#7d04fe"/><rect x="227.62" y="240.08" width="6.55" height="5.46" fill="#6a01e2"/><rect x="233.88" y="240.08" width="6.55" height="5.46" fill="#6601d7"/><rect x="240.12" y="240.08" width="6.55" height="5.46" fill="#5d01be"/><rect x="246.38" y="240.08" width="6.55" height="5.46" fill="#53009e"/><rect x="252.62" y="240.08" width="6.55" height="5.46" fill="#6601d7"/><rect x="258.88" y="240.08" width="6.55" height="5.46" fill="#7d04fe"/><rect x="265.12" y="240.08" width="19.05" height="5.46" fill="#8405fe"/><rect x="283.88" y="240.08" width="6.55" height="5.46" fill="#7602f8"/><rect x="290.12" y="240.08" width="6.55" height="5.46" fill="#7d04fe"/><rect x="296.38" y="240.08" width="12.80" height="5.46" fill="#8405fe"/><rect x="308.88" y="240.08" width="31.55" height="5.46" fill="#7d04fe"/><rect x="340.12" y="240.08" width="12.80" height="5.46" fill="#7903fc"/><rect x="352.62" y="240.08" width="19.05" height="5.46" fill="#7602f8"/><rect x="371.38" y="240.08" width="6.55" height="5.46" fill="#7202f3"/><rect x="377.62" y="240.08" width="6.55" height="5.46" fill="#6e02eb"/><rect x="383.88" y="240.08" width="6.55" height="5.46" fill="#6601d7"/><rect x="390.12" y="240.08" width="12.80" height="5.46" fill="#6201cb"/><rect x="402.62" y="240.08" width="6.55" height="5.46" fill="#6601d7"/><rect x="408.88" y="240.08" width="6.55" height="5.46" fill="#6e02eb"/><rect x="415.12" y="240.08" width="6.55" height="5.46" fill="#7602f8"/><rect x="421.38" y="240.08" width="6.55" height="5.46" fill="#7903fc"/><rect x="427.62" y="240.08" width="6.55" height="5.46" fill="#8a06f6"/><rect x="433.88" y="240.08" width="6.55" height="5.46" fill="#8d07ef"/><rect x="440.12" y="240.08" width="6.55" height="5.46" fill="#9309dd"/><rect x="446.38" y="240.08" width="12.80" height="5.46" fill="#990cc4"/><rect x="458.88" y="240.08" width="6.55" height="5.46" fill="#9c0db6"/><rect x="465.12" y="240.08" width="6.55" height="5.46" fill="#a11096"/><rect x="471.38" y="240.08" width="6.55" height="5.46" fill="#a71471"/><rect x="477.62" y="240.08" width="6.55" height="5.46" fill="#a9165e"/><rect x="483.88" y="240.08" width="6.55" height="5.46" fill="#ae1a35"/><rect x="490.12" y="240.08" width="6.55" height="5.46" fill="#ba2700"/><rect x="496.38" y="240.08" width="6.55" height="5.46" fill="#c63700"/><rect x="502.62" y="240.08" width="6.55" height="5.46" fill="#d45500"/><rect x="508.88" y="240.08" width="6.55" height="5.46" fill="#dc6a00"/><rect x="515.12" y="240.08" width="6.55" height="5.46" fill="#e48300"/><rect x="521.38" y="240.08" width="3.42" height="5.46" fill="#e68900"/><rect x="74.50" y="245.24" width="3.42" height="5.46" fill="#e48300"/><rect x="77.62" y="245.24" width="12.80" height="5.46" fill="#f3be00"/><rect x="90.12" y="245.24" width="6.55" height="5.46" fill="#efae00"/><rect x="96.38" y="245.24" width="6.55" height="5.46" fill="#e07600"/><rect x="102.62" y="245.24" width="12.80" height="5.46" fill="#de7000"/><rect x="115.12" y="245.24" width="12.80" height="5.46" fill="#da6500"/><rect x="127.62" y="245.24" width="6.55" height="5.46" fill="#d85f00"/><rect x="133.88" y="245.24" width="12.80" height="5.46" fill="#dc6a00"/><rect x="146.38" y="245.24" width="12.80" height="5.46" fill="#d65a00"/><rect x="158.88" y="245.24" width="6.55" height="5.46" fill="#cc4300"/><rect x="165.12" y="245.24" width="6.55" height="5.46" fill="#c63700"/><rect x="171.38" y="245.24" width="12.80" height="5.46" fill="#c33300"/><rect x="183.88" y="245.24" width="6.55" height="5.46" fill="#bf2d00"/><rect x="190.12" y="245.24" width="6.55" height="5.46" fill="#ae1a35"/><rect x="196.38" y="245.24" width="6.55" height="5.46" fill="#960bd1"/><rect x="202.62" y="245.24" width="6.55" height="5.46" fill="#8a06f6"/><rect x="208.88" y="245.24" width="6.55" height="5.46" fill="#8405fe"/><rect x="215.12" y="245.24" width="6.55" height="5.46" fill="#7d04fe"/><rect x="221.38" y="245.24" width="19.05" height="5.46" fill="#7602f8"/><rect x="240.12" y="245.24" width="6.55" height="5.46" fill="#6e02eb"/><rect x="246.38" y="245.24" width="6.55" height="5.46" fill="#6601d7"/><rect x="252.62" y="245.24" width="6.55" height="5.46" fill="#6e02eb"/><rect x="258.88" y="245.24" width="12.80" height="5.46" fill="#7d04fe"/><rect x="271.38" y="245.24" width="6.55" height="5.46" fill="#6e02eb"/><rect x="277.62" y="245.24" width="19.05" height="5.46" fill="#6601d7"/><rect x="296.38" y="245.24" width="25.30" height="5.46" fill="#6e02eb"/><rect x="321.38" y="245.24" width="6.55" height="5.46" fill="#6a01e2"/><rect x="327.62" y="245.24" width="25.30" height="5.46" fill="#6601d7"/><rect x="352.62" y="245.24" width="6.55" height="5.46" fill="#6a01e2"/><rect x="358.88" y="245.24" width="19.05" height="5.46" fill="#6601d7"/><rect x="377.62" y="245.24" width="12.80" height="5.46" fill="#6201cb"/><rect x="390.12" y="245.24" width="6.55" height="5.46" fill="#6601d7"/><rect x="396.38" y="245.24" width="6.55" height="5.46" fill="#6a01e2"/><rect x="402.62" y="245.24" width="6.55" height="5.46" fill="#7202f3"/><rect x="408.88" y="245.24" width="6.55" height="5.46" fill="#7903fc"/><rect x="415.12" y="245.24" width="6.55" height="5.46" fill="#8004ff"/><rect x="421.38" y="245.24" width="6.55" height="5.46" fill="#8405fe"/><rect x="427.62" y="245.24" width="6.55" height="5.46" fill="#8a06f6"/><rect x="433.88" y="245.24" width="6.55" height="5.46" fill="#8d07ef"/><rect x="440.12" y="245.24" width="6.55" height="5.46" fill="#9008e7"/><rect x="446.38" y="245.24" width="12.80" height="5.46" fill="#960bd1"/><rect x="458.88" y="245.24" width="6.55" height="5.46" fill="#990cc4"/><rect x="465.12" y="245.24" width="6.55" height="5.46" fill="#9c0db6"/><rect x="471.38" y="245.24" width="12.80" height="5.46" fill="#a11096"/><rect x="483.88" y="245.24" width="6.55" height="5.46" fill="#a71471"/><rect x="490.12" y="245.24" width="6.55" height="5.46" fill="#a9165e"/><rect x="496.38" y="245.24" width="6.55" height="5.46" fill="#bf2d00"/><rect x="502.62" y="245.24" width="6.55" height="5.46" fill="#c83b00"/><rect x="508.88" y="245.24" width="6.55" height="5.46" fill="#d04c00"/><rect x="515.12" y="245.24" width="6.55" height="5.46" fill="#de7000"/><rect x="521.38" y="245.24" width="3.42" height="5.46" fill="#e48300"/><rect x="74.50" y="250.39" width="3.42" height="5.46" fill="#e27c00"/><rect x="77.62" y="250.39" width="12.80" height="5.46" fill="#ec9e00"/><rect x="90.12" y="250.39" width="6.55" height="5.46" fill="#ea9700"/><rect x="96.38" y="250.39" width="6.55" height="5.46" fill="#efae00"/><rect x="102.62" y="250.39" width="6.55" height="5.46" fill="#f3be00"/><rect x="108.88" y="250.39" width="6.55" height="5.46" fill="#e89000"/><rect x="115.12" y="250.39" width="6.55" height="5.46" fill="#e48300"/><rect x="121.38" y="250.39" width="19.05" height="5.46" fill="#e07600"/><rect x="140.12" y="250.39" width="6.55" height="5.46" fill="#da6500"/><rect x="146.38" y="250.39" width="6.55" height="5.46" fill="#d65a00"/><rect x="152.62" y="250.39" width="6.55" height="5.46" fill="#d45500"/><rect x="158.88" y="250.39" width="6.55" height="5.46" fill="#ca3f00"/><rect x="165.12" y="250.39" width="6.55" height="5.46" fill="#c63700"/><rect x="171.38" y="250.39" width="12.80" height="5.46" fill="#c33300"/><rect x="183.88" y="250.39" width="6.55" height="5.46" fill="#ba2700"/><rect x="190.12" y="250.39" width="6.55" height="5.46" fill="#ac184a"/><rect x="196.38" y="250.39" width="6.55" height="5.46" fill="#960bd1"/><rect x="202.62" y="250.39" width="6.55" height="5.46" fill="#8a06f6"/><rect x="208.88" y="250.39" width="6.55" height="5.46" fill="#8405fe"/><rect x="215.12" y="250.39" width="12.80" height="5.46" fill="#7903fc"/><rect x="227.62" y="250.39" width="12.80" height="5.46" fill="#7d04fe"/><rect x="240.12" y="250.39" width="19.05" height="5.46" fill="#7903fc"/><rect x="258.88" y="250.39" width="6.55" height="5.46" fill="#7202f3"/><rect x="265.12" y="250.39" width="6.55" height="5.46" fill="#6601d7"/><rect x="271.38" y="250.39" width="31.55" height="5.46" fill="#5d01be"/><rect x="302.62" y="250.39" width="6.55" height="5.46" fill="#6601d7"/><rect x="308.88" y="250.39" width="12.80" height="5.46" fill="#5d01be"/><rect x="321.38" y="250.39" width="12.80" height="5.46" fill="#5800af"/><rect x="333.88" y="250.39" width="37.80" height="5.46" fill="#5d01be"/><rect x="371.38" y="250.39" width="19.05" height="5.46" fill="#5800af"/><rect x="390.12" y="250.39" width="6.55" height="5.46" fill="#5d01be"/><rect x="396.38" y="250.39" width="6.55" height="5.46" fill="#6201cb"/><rect x="402.62" y="250.39" width="6.55" height="5.46" fill="#6e02eb"/><rect x="408.88" y="250.39" width="6.55" height="5.46" fill="#7602f8"/><rect x="415.12" y="250.39" width="6.55" height="5.46" fill="#7d04fe"/><rect x="421.38" y="250.39" width="6.55" height="5.46" fill="#8405fe"/><rect x="427.62" y="250.39" width="6.55" height="5.46" fill="#8706fa"/><rect x="433.88" y="250.39" width="6.55" height="5.46" fill="#8a06f6"/><rect x="440.12" y="250.39" width="6.55" height="5.46" fill="#8d07ef"/><rect x="446.38" y="250.39" width="12.80" height="5.46" fill="#9309dd"/><rect x="458.88" y="250.39" width="12.80" height="5.46" fill="#990cc4"/><rect x="471.38" y="250.39" width="6.55" height="5.46" fill="#9c0db6"/><rect x="477.62" y="250.39" width="12.80" height="5.46" fill="#a11096"/><rect x="490.12" y="250.39" width="6.55" height="5.46" fill="#a71471"/><rect x="496.38" y="250.39" width="6.55" height="5.46" fill="#ba2700"/><rect x="502.62" y="250.39" width="6.55" height="5.46" fill="#c63700"/><rect x="508.88" y="250.39" width="6.55" height="5.46" fill="#cc4300"/><rect x="515.12" y="250.39" width="6.55" height="5.46" fill="#d65a00"/><rect x="521.38" y="250.39" width="3.42" height="5.46" fill="#e27c00"/><rect x="74.50" y="255.55" width="3.42" height="5.46" fill="#d45500"/><rect x="77.62" y="255.55" width="6.55" height="5.46" fill="#da6500"/><rect x="83.88" y="255.55" width="6.55" height="5.46" fill="#e07600"/><rect x="90.12" y="255.55" width="6.55" height="5.46" fill="#ea9700"/><rect x="96.38" y="255.55" width="6.55" height="5.46" fill="#fae200"/><rect x="102.62" y="255.55" width="6.55" height="5.46" fill="#f3be00"/><rect x="108.88" y="255.55" width="6.55" height="5.46" fill="#ec9e00"/><rect x="115.12" y="255.55" width="12.80" height="5.46" fill="#efae00"/><rect x="127.62" y="255.55" width="6.55" height="5.46" fill="#e89000"/><rect x="133.88" y="255.55" width="6.55" height="5.46" fill="#e07600"/><rect x="140.12" y="255.55" width="6.55" height="5.46" fill="#dc6a00"/><rect x="146.38" y="255.55" width="6.55" height="5.46" fill="#d85f00"/><rect x="152.62" y="255.55" width="6.55" height="5.46" fill="#d45500"/><rect x="158.88" y="255.55" width="6.55" height="5.46" fill="#ca3f00"/><rect x="165.12" y="255.55" width="6.55" height="5.46" fill="#c63700"/><rect x="171.38" y="255.55" width="12.80" height="5.46" fill="#c33300"/><rect x="183.88" y="255.55" width="6.55" height="5.46" fill="#ba2700"/><rect x="190.12" y="255.55" width="6.55" height="5.46" fill="#a9165e"/><rect x="196.38" y="255.55" width="6.55" height="5.46" fill="#960bd1"/><rect x="202.62" y="255.55" width="6.55" height="5.46" fill="#8a06f6"/><rect x="208.88" y="255.55" width="6.55" height="5.46" fill="#8405fe"/><rect x="215.12" y="255.55" width="6.55" height="5.46" fill="#8004ff"/><rect x="221.38" y="255.55" width="6.55" height="5.46" fill="#7903fc"/><rect x="227.62" y="255.55" width="12.80" height="5.46" fill="#8405fe"/><rect x="240.12" y="255.55" width="6.55" height="5.46" fill="#8a06f6"/><rect x="246.38" y="255.55" width="6.55" height="5.46" fill="#9008e7"/><rect x="252.62" y="255.55" width="6.55" height="5.46" fill="#8405fe"/><rect x="258.88" y="255.55" width="6.55" height="5.46" fill="#7903fc"/><rect x="265.12" y="255.55" width="6.55" height="5.46" fill="#6e02eb"/><rect x="271.38" y="255.55" width="6.55" height="5.46" fill="#5d01be"/><rect x="277.62" y="255.55" width="6.55" height="5.46" fill="#5800af"/><rect x="283.88" y="255.55" width="6.55" height="5.46" fill="#53009e"/><rect x="290.12" y="255.55" width="12.80" height="5.46" fill="#5800af"/><rect x="302.62" y="255.55" width="6.55" height="5.46" fill="#5d01be"/><rect x="308.88" y="255.55" width="12.80" height="5.46" fill="#4e008d"/><rect x="321.38" y="255.55" width="37.80" height="5.46" fill="#53009e"/><rect x="358.88" y="255.55" width="25.30" height="5.46" fill="#4e008d"/><rect x="383.88" y="255.55" width="6.55" height="5.46" fill="#53009e"/><rect x="390.12" y="255.55" width="6.55" height="5.46" fill="#5800af"/><rect x="396.38" y="255.55" width="6.55" height="5.46" fill="#6201cb"/><rect x="402.62" y="255.55" width="6.55" height="5.46" fill="#6e02eb"/><rect x="408.88" y="255.55" width="6.55" height="5.46" fill="#7602f8"/><rect x="415.12" y="255.55" width="6.55" height="5.46" fill="#7d04fe"/><rect x="421.38" y="255.55" width="6.55" height="5.46" fill="#8405fe"/><rect x="427.62" y="255.55" width="6.55" height="5.46" fill="#8706fa"/><rect x="433.88" y="255.55" width="6.55" height="5.46" fill="#8a06f6"/><rect x="440.12" y="255.55" width="6.55" height="5.46" fill="#8d07ef"/><rect x="446.38" y="255.55" width="6.55" height="5.46" fill="#9008e7"/><rect x="452.62" y="255.55" width="6.55" height="5.46" fill="#9309dd"/><rect x="458.88" y="255.55" width="6.55" height="5.46" fill="#960bd1"/><rect x="465.12" y="255.55" width="12.80" height="5.46" fill="#990cc4"/><rect x="477.62" y="255.55" width="6.55" height="5.46" fill="#9c0db6"/><rect x="483.88" y="255.55" width="6.55" height="5.46" fill="#a11096"/><rect x="490.12" y="255.55" width="6.55" height="5.46" fill="#a71471"/><rect x="496.38" y="255.55" width="6.55" height="5.46" fill="#ae1a35"/><rect x="502.62" y="255.55" width="6.55" height="5.46" fill="#c13000"/><rect x="508.88" y="255.55" width="6.55" height="5.46" fill="#c83b00"/><rect x="515.12" y="255.55" width="6.55" height="5.46" fill="#d04c00"/><rect x="521.38" y="255.55" width="3.42" height="5.46" fill="#d45500"/><rect x="74.50" y="260.71" width="3.42" height="5.46" fill="#c83b00"/><rect x="77.62" y="260.71" width="6.55" height="5.46" fill="#ca3f00"/><rect x="83.88" y="260.71" width="6.55" height="5.46" fill="#cc4300"/><rect x="90.12" y="260.71" width="6.55" height="5.46" fill="#da6500"/><rect x="96.38" y="260.71" width="6.55" height="5.46" fill="#e89000"/><rect x="102.62" y="260.71" width="6.55" height="5.46" fill="#efae00"/><rect x="108.88" y="260.71" width="6.55" height="5.46" fill="#ec9e00"/><rect x="115.12" y="260.71" width="12.80" height="5.46" fill="#f3be00"/><rect x="127.62" y="260.71" width="6.55" height="5.46" fill="#ea9700"/><rect x="133.88" y="260.71" width="6.55" height="5.46" fill="#da6500"/><rect x="140.12" y="260.71" width="6.55" height="5.46" fill="#d65a00"/><rect x="146.38" y="260.71" width="6.55" height="5.46" fill="#d45500"/><rect x="152.62" y="260.71" width="6.55" height="5.46" fill="#d04c00"/><rect x="158.88" y="260.71" width="6.55" height="5.46" fill="#c83b00"/><rect x="165.12" y="260.71" width="6.55" height="5.46" fill="#c63700"/><rect x="171.38" y="260.71" width="6.55" height="5.46" fill="#c33300"/><rect x="177.62" y="260.71" width="6.55" height="5.46" fill="#c13000"/><rect x="183.88" y="260.71" width="6.55" height="5.46" fill="#ba2700"/><rect x="190.12" y="260.71" width="6.55" height="5.46" fill="#a9165e"/><rect x="196.38" y="260.71" width="6.55" height="5.46" fill="#960bd1"/><rect x="202.62" y="260.71" width="6.55" height="5.46" fill="#8d07ef"/><rect x="208.88" y="260.71" width="6.55" height="5.46" fill="#8a06f6"/><rect x="215.12" y="260.71" width="12.80" height="5.46" fill="#8405fe"/><rect x="227.62" y="260.71" width="6.55" height="5.46" fill="#8a06f6"/><rect x="233.88" y="260.71" width="6.55" height="5.46" fill="#9c0db6"/><rect x="240.12" y="260.71" width="6.55" height="5.46" fill="#a11096"/><rect x="246.38" y="260.71" width="6.55" height="5.46" fill="#960bd1"/><rect x="252.62" y="260.71" width="6.55" height="5.46" fill="#8a06f6"/><rect x="258.88" y="260.71" width="6.55" height="5.46" fill="#7602f8"/><rect x="265.12" y="260.71" width="6.55" height="5.46" fill="#6601d7"/><rect x="271.38" y="260.71" width="12.80" height="5.46" fill="#53009e"/><rect x="283.88" y="260.71" width="12.80" height="5.46" fill="#48007b"/><rect x="296.38" y="260.71" width="6.55" height="5.46" fill="#4e008d"/><rect x="302.62" y="260.71" width="6.55" height="5.46" fill="#53009e"/><rect x="308.88" y="260.71" width="12.80" height="5.46" fill="#48007b"/><rect x="321.38" y="260.71" width="31.55" height="5.46" fill="#4e008d"/><rect x="352.62" y="260.71" width="12.80" height="5.46" fill="#420068"/><rect x="365.12" y="260.71" width="19.05" height="5.46" fill="#48007b"/><rect x="383.88" y="260.71" width="6.55" height="5.46" fill="#4e008d"/><rect x="390.12" y="260.71" width="6.55" height="5.46" fill="#48007b"/><rect x="396.38" y="260.71" width="6.55" height="5.46" fill="#5800af"/><rect x="402.62" y="260.71" width="6.55" height="5.46" fill="#6601d7"/><rect x="408.88" y="260.71" width="6.55" height="5.46" fill="#7202f3"/><rect x="415.12" y="260.71" width="6.55" height="5.46" fill="#7903fc"/><rect x="421.38" y="260.71" width="6.55" height="5.46" fill="#8004ff"/><rect x="427.62" y="260.71" width="6.55" height="5.46" fill="#8405fe"/><rect x="433.88" y="260.71" width="6.55" height="5.46" fill="#8706fa"/><rect x="440.12" y="260.71" width="6.55" height="5.46" fill="#8a06f6"/><rect x="446.38" y="260.71" width="6.55" height="5.46" fill="#8d07ef"/><rect x="452.62" y="260.71" width="6.55" height="5.46" fill="#9008e7"/><rect x="458.88" y="260.71" width="6.55" height="5.46" fill="#9309dd"/><rect x="465.12" y="260.71" width="6.55" height="5.46" fill="#960bd1"/><rect x="471.38" y="260.71" width="12.80" height="5.46" fill="#990cc4"/><rect x="483.88" y="260.71" width="6.55" height="5.46" fill="#9c0db6"/><rect x="490.12" y="260.71" width="6.55" height="5.46" fill="#a11096"/><rect x="496.38" y="260.71" width="6.55" height="5.46" fill="#a9165e"/><rect x="502.62" y="260.71" width="6.55" height="5.46" fill="#b11c20"/><rect x="508.88" y="260.71" width="6.55" height="5.46" fill="#ba2700"/><rect x="515.12" y="260.71" width="6.55" height="5.46" fill="#c63700"/><rect x="521.38" y="260.71" width="3.42" height="5.46" fill="#c83b00"/><rect x="74.50" y="265.86" width="9.68" height="5.46" fill="#c13000"/><rect x="83.88" y="265.86" width="6.55" height="5.46" fill="#c63700"/><rect x="90.12" y="265.86" width="6.55" height="5.46" fill="#cc4300"/><rect x="96.38" y="265.86" width="6.55" height="5.46" fill="#d45500"/><rect x="102.62" y="265.86" width="6.55" height="5.46" fill="#e07600"/><rect x="108.88" y="265.86" width="6.55" height="5.46" fill="#ec9e00"/><rect x="115.12" y="265.86" width="6.55" height="5.46" fill="#e89000"/><rect x="121.38" y="265.86" width="6.55" height="5.46" fill="#ea9700"/><rect x="127.62" y="265.86" width="25.30" height="5.46" fill="#d04c00"/><rect x="152.62" y="265.86" width="6.55" height="5.46" fill="#cc4300"/><rect x="158.88" y="265.86" width="12.80" height="5.46" fill="#c63700"/><rect x="171.38" y="265.86" width="6.55" height="5.46" fill="#c33300"/><rect x="177.62" y="265.86" width="6.55" height="5.46" fill="#bf2d00"/><rect x="183.88" y="265.86" width="6.55" height="5.46" fill="#ba2700"/><rect x="190.12" y="265.86" width="6.55" height="5.46" fill="#a71471"/><rect x="196.38" y="265.86" width="6.55" height="5.46" fill="#960bd1"/><rect x="202.62" y="265.86" width="6.55" height="5.46" fill="#8d07ef"/><rect x="208.88" y="265.86" width="12.80" height="5.46" fill="#8a06f6"/><rect x="221.38" y="265.86" width="6.55" height="5.46" fill="#8405fe"/><rect x="227.62" y="265.86" width="12.80" height="5.46" fill="#960bd1"/><rect x="240.12" y="265.86" width="6.55" height="5.46" fill="#ac184a"/><rect x="246.38" y="265.86" width="6.55" height="5.46" fill="#9c0db6"/><rect x="252.62" y="265.86" width="6.55" height="5.46" fill="#9008e7"/><rect x="258.88" y="265.86" width="6.55" height="5.46" fill="#7903fc"/><rect x="265.12" y="265.86" width="6.55" height="5.46" fill="#5d01be"/><rect x="271.38" y="265.86" width="12.80" height="5.46" fill="#48007b"/><rect x="283.88" y="265.86" width="6.55" height="5.46" fill="#420068"/><rect x="290.12" y="265.86" width="6.55" height="5.46" fill="#3b0054"/><rect x="296.38" y="265.86" width="6.55" height="5.46" fill="#48007b"/><rect x="302.62" y="265.86" width="6.55" height="5.46" fill="#4e008d"/><rect x="308.88" y="265.86" width="6.55" height="5.46" fill="#420068"/><rect x="315.12" y="265.86" width="50.30" height="5.46" fill="#48007b"/><rect x="365.12" y="265.86" width="6.55" height="5.46" fill="#4e008d"/><rect x="371.38" y="265.86" width="6.55" height="5.46" fill="#33003f"/><rect x="377.62" y="265.86" width="6.55" height="5.46" fill="#420068"/><rect x="383.88" y="265.86" width="6.55" height="5.46" fill="#48007b"/><rect x="390.12" y="265.86" width="6.55" height="5.46" fill="#420068"/><rect x="396.38" y="265.86" width="6.55" height="5.46" fill="#4e008d"/><rect x="402.62" y="265.86" width="6.55" height="5.46" fill="#5d01be"/><rect x="408.88" y="265.86" width="6.55" height="5.46" fill="#6a01e2"/><rect x="415.12" y="265.86" width="6.55" height="5.46" fill="#7602f8"/><rect x="421.38" y="265.86" width="6.55" height="5.46" fill="#7d04fe"/><rect x="427.62" y="265.86" width="6.55" height="5.46" fill="#8004ff"/><rect x="433.88" y="265.86" width="6.55" height="5.46" fill="#8405fe"/><rect x="440.12" y="265.86" width="6.55" height="5.46" fill="#8706fa"/><rect x="446.38" y="265.86" width="6.55" height="5.46" fill="#8a06f6"/><rect x="452.62" y="265.86" width="6.55" height="5.46" fill="#8d07ef"/><rect x="458.88" y="265.86" width="12.80" height="5.46" fill="#9008e7"/><rect x="471.38" y="265.86" width="6.55" height="5.46" fill="#9309dd"/><rect x="477.62" y="265.86" width="6.55" height="5.46" fill="#960bd1"/><rect x="483.88" y="265.86" width="6.55" height="5.46" fill="#990cc4"/><rect x="490.12" y="265.86" width="6.55" height="5.46" fill="#9c0db6"/><rect x="496.38" y="265.86" width="6.55" height="5.46" fill="#a11096"/><rect x="502.62" y="265.86" width="6.55" height="5.46" fill="#a9165e"/><rect x="508.88" y="265.86" width="6.55" height="5.46" fill="#b62100"/><rect x="515.12" y="265.86" width="6.55" height="5.46" fill="#ba2700"/><rect x="521.38" y="265.86" width="3.42" height="5.46" fill="#c13000"/><rect x="74.50" y="271.02" width="3.42" height="5.46" fill="#ae1a35"/><rect x="77.62" y="271.02" width="12.80" height="5.46" fill="#a71471"/><rect x="90.12" y="271.02" width="6.55" height="5.46" fill="#a9165e"/><rect x="96.38" y="271.02" width="6.55" height="5.46" fill="#c83b00"/><rect x="102.62" y="271.02" width="6.55" height="5.46" fill="#d04c00"/><rect x="108.88" y="271.02" width="6.55" height="5.46" fill="#da6500"/><rect x="115.12" y="271.02" width="6.55" height="5.46" fill="#d65a00"/><rect x="121.38" y="271.02" width="6.55" height="5.46" fill="#d45500"/><rect x="127.62" y="271.02" width="6.55" height="5.46" fill="#cc4300"/><rect x="133.88" y="271.02" width="6.55" height="5.46" fill="#d04c00"/><rect x="140.12" y="271.02" width="12.80" height="5.46" fill="#cc4300"/><rect x="152.62" y="271.02" width="6.55" height="5.46" fill="#c83b00"/><rect x="158.88" y="271.02" width="6.55" height="5.46" fill="#c63700"/><rect x="165.12" y="271.02" width="6.55" height="5.46" fill="#c33300"/><rect x="171.38" y="271.02" width="6.55" height="5.46" fill="#c13000"/><rect x="177.62" y="271.02" width="6.55" height="5.46" fill="#bf2d00"/><rect x="183.88" y="271.02" width="6.55" height="5.46" fill="#ba2700"/><rect x="190.12" y="271.02" width="6.55" height="5.46" fill="#a9165e"/><rect x="196.38" y="271.02" width="6.55" height="5.46" fill="#960bd1"/><rect x="202.62" y="271.02" width="12.80" height="5.46" fill="#8a06f6"/><rect x="215.12" y="271.02" width="6.55" height="5.46" fill="#9309dd"/><rect x="221.38" y="271.02" width="6.55" height="5.46" fill="#9008e7"/><rect x="227.62" y="271.02" width="6.55" height="5.46" fill="#a11096"/><rect x="233.88" y="271.02" width="6.55" height="5.46" fill="#9c0db6"/><rect x="240.12" y="271.02" width="6.55" height="5.46" fill="#960bd1"/><rect x="246.38" y="271.02" width="6.55" height="5.46" fill="#9008e7"/><rect x="252.62" y="271.02" width="6.55" height="5.46" fill="#8405fe"/><rect x="258.88" y="271.02" width="6.55" height="5.46" fill="#6e02eb"/><rect x="265.12" y="271.02" width="6.55" height="5.46" fill="#33003f"/><rect x="271.38" y="271.02" width="6.55" height="5.46" fill="#3b0054"/><rect x="277.62" y="271.02" width="44.05" height="5.46" fill="#420068"/><rect x="321.38" y="271.02" width="25.30" height="5.46" fill="#48007b"/><rect x="346.38" y="271.02" width="6.55" height="5.46" fill="#420068"/><rect x="352.62" y="271.02" width="19.05" height="5.46" fill="#48007b"/><rect x="371.38" y="271.02" width="12.80" height="5.46" fill="#420068"/><rect x="383.88" y="271.02" width="6.55" height="5.46" fill="#48007b"/><rect x="390.12" y="271.02" width="6.55" height="5.46" fill="#420068"/><rect x="396.38" y="271.02" width="6.55" height="5.46" fill="#48007b"/><rect x="402.62" y="271.02" width="6.55" height="5.46" fill="#53009e"/><rect x="408.88" y="271.02" width="6.55" height="5.46" fill="#6201cb"/><rect x="415.12" y="271.02" width="6.55" height="5.46" fill="#7202f3"/><rect x="421.38" y="271.02" width="6.55" height="5.46" fill="#7903fc"/><rect x="427.62" y="271.02" width="6.55" height="5.46" fill="#7d04fe"/><rect x="433.88" y="271.02" width="6.55" height="5.46" fill="#8004ff"/><rect x="440.12" y="271.02" width="6.55" height="5.46" fill="#8405fe"/><rect x="446.38" y="271.02" width="6.55" height="5.46" fill="#8706fa"/><rect x="452.62" y="271.02" width="6.55" height="5.46" fill="#8a06f6"/><rect x="458.88" y="271.02" width="12.80" height="5.46" fill="#8d07ef"/><rect x="471.38" y="271.02" width="12.80" height="5.46" fill="#9008e7"/><rect x="483.88" y="271.02" width="6.55" height="5.46" fill="#9309dd"/><rect x="490.12" y="271.02" width="6.55" height="5.46" fill="#960bd1"/><rect x="496.38" y="271.02" width="6.55" height="5.46" fill="#9c0db6"/><rect x="502.62" y="271.02" width="6.55" height="5.46" fill="#a11096"/><rect x="508.88" y="271.02" width="6.55" height="5.46" fill="#a71471"/><rect x="515.12" y="271.02" width="9.68" height="5.46" fill="#ae1a35"/><rect x="74.50" y="276.18" width="3.42" height="5.46" fill="#990cc4"/><rect x="77.62" y="276.18" width="6.55" height="5.46" fill="#9309dd"/><rect x="83.88" y="276.18" width="6.55" height="5.46" fill="#960bd1"/><rect x="90.12" y="276.18" width="6.55" height="5.46" fill="#990cc4"/><rect x="96.38" y="276.18" width="6.55" height="5.46" fill="#9c0db6"/><rect x="102.62" y="276.18" width="6.55" height="5.46" fill="#a9165e"/><rect x="108.88" y="276.18" width="12.80" height="5.46" fill="#ba2700"/><rect x="121.38" y="276.18" width="6.55" height="5.46" fill="#bf2d00"/><rect x="127.62" y="276.18" width="6.55" height="5.46" fill="#c63700"/><rect x="133.88" y="276.18" width="6.55" height="5.46" fill="#c83b00"/><rect x="140.12" y="276.18" width="6.55" height="5.46" fill="#c63700"/><rect x="146.38" y="276.18" width="6.55" height="5.46" fill="#c83b00"/><rect x="152.62" y="276.18" width="6.55" height="5.46" fill="#c63700"/><rect x="158.88" y="276.18" width="12.80" height="5.46" fill="#c13000"/><rect x="171.38" y="276.18" width="6.55" height="5.46" fill="#bf2d00"/><rect x="177.62" y="276.18" width="6.55" height="5.46" fill="#bd2a00"/><rect x="183.88" y="276.18" width="6.55" height="5.46" fill="#b62100"/><rect x="190.12" y="276.18" width="6.55" height="5.46" fill="#a71471"/><rect x="196.38" y="276.18" width="6.55" height="5.46" fill="#9008e7"/><rect x="202.62" y="276.18" width="12.80" height="5.46" fill="#8a06f6"/><rect x="215.12" y="276.18" width="12.80" height="5.46" fill="#9309dd"/><rect x="227.62" y="276.18" width="6.55" height="5.46" fill="#960bd1"/><rect x="233.88" y="276.18" width="6.55" height="5.46" fill="#9008e7"/><rect x="240.12" y="276.18" width="6.55" height="5.46" fill="#8405fe"/><rect x="246.38" y="276.18" width="6.55" height="5.46" fill="#7d04fe"/><rect x="252.62" y="276.18" width="6.55" height="5.46" fill="#7602f8"/><rect x="258.88" y="276.18" width="6.55" height="5.46" fill="#6201cb"/><rect x="265.12" y="276.18" width="6.55" height="5.46" fill="#33003f"/><rect x="271.38" y="276.18" width="6.55" height="5.46" fill="#3b0054"/><rect x="277.62" y="276.18" width="81.55" height="5.46" fill="#420068"/><rect x="358.88" y="276.18" width="19.05" height="5.46" fill="#48007b"/><rect x="377.62" y="276.18" width="19.05" height="5.46" fill="#420068"/><rect x="396.38" y="276.18" width="6.55" height="5.46" fill="#48007b"/><rect x="402.62" y="276.18" width="6.55" height="5.46" fill="#53009e"/><rect x="408.88" y="276.18" width="6.55" height="5.46" fill="#5d01be"/><rect x="415.12" y="276.18" width="6.55" height="5.46" fill="#6e02eb"/><rect x="421.38" y="276.18" width="6.55" height="5.46" fill="#7602f8"/><rect x="427.62" y="276.18" width="6.55" height="5.46" fill="#7903fc"/><rect x="433.88" y="276.18" width="6.55" height="5.46" fill="#8004ff"/><rect x="440.12" y="276.18" width="6.55" height="5.46" fill="#8405fe"/><rect x="446.38" y="276.18" width="6.55" height="5.46" fill="#8706fa"/><rect x="452.62" y="276.18" width="25.30" height="5.46" fill="#8a06f6"/><rect x="477.62" y="276.18" width="6.55" height="5.46" fill="#8d07ef"/><rect x="483.88" y="276.18" width="6.55" height="5.46" fill="#9008e7"/><rect x="490.12" y="276.18" width="12.80" height="5.46" fill="#9309dd"/><rect x="502.62" y="276.18" width="6.55" height="5.46" fill="#990cc4"/><rect x="508.88" y="276.18" width="12.80" height="5.46" fill="#9c0db6"/><rect x="521.38" y="276.18" width="3.42" height="5.46" fill="#990cc4"/><rect x="74.50" y="281.34" width="3.42" height="5.46" fill="#8d07ef"/><rect x="77.62" y="281.34" width="6.55" height="5.46" fill="#8405fe"/><rect x="83.88" y="281.34" width="6.55" height="5.46" fill="#8706fa"/><rect x="90.12" y="281.34" width="6.55" height="5.46" fill="#8a06f6"/><rect x="96.38" y="281.34" width="12.80" height="5.46" fill="#9008e7"/><rect x="108.88" y="281.34" width="6.55" height="5.46" fill="#9309dd"/><rect x="115.12" y="281.34" width="6.55" height="5.46" fill="#a11096"/><rect x="121.38" y="281.34" width="6.55" height="5.46" fill="#b11c20"/><rect x="127.62" y="281.34" width="6.55" height="5.46" fill="#b62100"/><rect x="133.88" y="281.34" width="12.80" height="5.46" fill="#b82400"/><rect x="146.38" y="281.34" width="12.80" height="5.46" fill="#ba2700"/><rect x="158.88" y="281.34" width="6.55" height="5.46" fill="#b82400"/><rect x="165.12" y="281.34" width="6.55" height="5.46" fill="#b62100"/><rect x="171.38" y="281.34" width="6.55" height="5.46" fill="#b31f0b"/><rect x="177.62" y="281.34" width="6.55" height="5.46" fill="#ae1a35"/><rect x="183.88" y="281.34" width="6.55" height="5.46" fill="#a9165e"/><rect x="190.12" y="281.34" width="6.55" height="5.46" fill="#9c0db6"/><rect x="196.38" y="281.34" width="6.55" height="5.46" fill="#8d07ef"/><rect x="202.62" y="281.34" width="6.55" height="5.46" fill="#8706fa"/><rect x="208.88" y="281.34" width="6.55" height="5.46" fill="#8a06f6"/><rect x="215.12" y="281.34" width="12.80" height="5.46" fill="#8d07ef"/><rect x="227.62" y="281.34" width="6.55" height="5.46" fill="#8405fe"/><rect x="233.88" y="281.34" width="6.55" height="5.46" fill="#7d04fe"/><rect x="240.12" y="281.34" width="6.55" height="5.46" fill="#7602f8"/><rect x="246.38" y="281.34" width="6.55" height="5.46" fill="#6e02eb"/><rect x="252.62" y="281.34" width="6.55" height="5.46" fill="#6601d7"/><rect x="258.88" y="281.34" width="6.55" height="5.46" fill="#5800af"/><rect x="265.12" y="281.34" width="6.55" height="5.46" fill="#33003f"/><rect x="271.38" y="281.34" width="6.55" height="5.46" fill="#3b0054"/><rect x="277.62" y="281.34" width="112.80" height="5.46" fill="#420068"/><rect x="390.12" y="281.34" width="6.55" height="5.46" fill="#3b0054"/><rect x="396.38" y="281.34" width="6.55" height="5.46" fill="#420068"/><rect x="402.62" y="281.34" width="6.55" height="5.46" fill="#4e008d"/><rect x="408.88" y="281.34" width="6.55" height="5.46" fill="#5d01be"/><rect x="415.12" y="281.34" width="6.55" height="5.46" fill="#6a01e2"/><rect x="421.38" y="281.34" width="6.55" height="5.46" fill="#7202f3"/><rect x="427.62" y="281.34" width="6.55" height="5.46" fill="#7903fc"/><rect x="433.88" y="281.34" width="6.55" height="5.46" fill="#7d04fe"/><rect x="440.12" y="281.34" width="6.55" height="5.46" fill="#8004ff"/><rect x="446.38" y="281.34" width="6.55" height="5.46" fill="#8405fe"/><rect x="452.62" y="281.34" width="6.55" height="5.46" fill="#8706fa"/><rect x="458.88" y="281.34" width="6.55" height="5.46" fill="#8a06f6"/><rect x="465.12" y="281.34" width="12.80" height="5.46" fill="#8706fa"/><rect x="477.62" y="281.34" width="12.80" height="5.46" fill="#8a06f6"/><rect x="490.12" y="281.34" width="12.80" height="5.46" fill="#8d07ef"/><rect x="502.62" y="281.34" width="6.55" height="5.46" fill="#9008e7"/><rect x="508.88" y="281.34" width="12.80" height="5.46" fill="#9309dd"/><rect x="521.38" y="281.34" width="3.42" height="5.46" fill="#8d07ef"/><rect x="74.50" y="286.49" width="3.42" height="5.46" fill="#8706fa"/><rect x="77.62" y="286.49" width="12.80" height="5.46" fill="#8004ff"/><rect x="90.12" y="286.49" width="12.80" height="5.46" fill="#8706fa"/><rect x="102.62" y="286.49" width="6.55" height="5.46" fill="#8a06f6"/><rect x="108.88" y="286.49" width="6.55" height="5.46" fill="#8d07ef"/><rect x="115.12" y="286.49" width="6.55" height="5.46" fill="#9c0db6"/><rect x="121.38" y="286.49" width="6.55" height="5.46" fill="#a11096"/><rect x="127.62" y="286.49" width="6.55" height="5.46" fill="#a41284"/><rect x="133.88" y="286.49" width="12.80" height="5.46" fill="#a71471"/><rect x="146.38" y="286.49" width="6.55" height="5.46" fill="#a9165e"/><rect x="152.62" y="286.49" width="19.05" height="5.46" fill="#a11096"/><rect x="171.38" y="286.49" width="6.55" height="5.46" fill="#9f0fa7"/><rect x="177.62" y="286.49" width="6.55" height="5.46" fill="#9c0db6"/><rect x="183.88" y="286.49" width="6.55" height="5.46" fill="#990cc4"/><rect x="190.12" y="286.49" width="6.55" height="5.46" fill="#9309dd"/><rect x="196.38" y="286.49" width="6.55" height="5.46" fill="#8a06f6"/><rect x="202.62" y="286.49" width="25.30" height="5.46" fill="#8706fa"/><rect x="227.62" y="286.49" width="6.55" height="5.46" fill="#7903fc"/><rect x="233.88" y="286.49" width="6.55" height="5.46" fill="#7602f8"/><rect x="240.12" y="286.49" width="6.55" height="5.46" fill="#6e02eb"/><rect x="246.38" y="286.49" width="6.55" height="5.46" fill="#6601d7"/><rect x="252.62" y="286.49" width="6.55" height="5.46" fill="#5d01be"/><rect x="258.88" y="286.49" width="6.55" height="5.46" fill="#53009e"/><rect x="265.12" y="286.49" width="6.55" height="5.46" fill="#3b0054"/><rect x="271.38" y="286.49" width="81.55" height="5.46" fill="#420068"/><rect x="352.62" y="286.49" width="6.55" height="5.46" fill="#3b0054"/><rect x="358.88" y="286.49" width="12.80" height="5.46" fill="#420068"/><rect x="371.38" y="286.49" width="25.30" height="5.46" fill="#3b0054"/><rect x="396.38" y="286.49" width="6.55" height="5.46" fill="#420068"/><rect x="402.62" y="286.49" width="6.55" height="5.46" fill="#4e008d"/><rect x="408.88" y="286.49" width="6.55" height="5.46" fill="#5800af"/><rect x="415.12" y="286.49" width="6.55" height="5.46" fill="#6601d7"/><rect x="421.38" y="286.49" width="6.55" height="5.46" fill="#6e02eb"/><rect x="427.62" y="286.49" width="6.55" height="5.46" fill="#7602f8"/><rect x="433.88" y="286.49" width="6.55" height="5.46" fill="#7d04fe"/><rect x="440.12" y="286.49" width="6.55" height="5.46" fill="#8004ff"/><rect x="446.38" y="286.49" width="6.55" height="5.46" fill="#8405fe"/><rect x="452.62" y="286.49" width="12.80" height="5.46" fill="#8706fa"/><rect x="465.12" y="286.49" width="6.55" height="5.46" fill="#8405fe"/><rect x="471.38" y="286.49" width="19.05" height="5.46" fill="#8706fa"/><rect x="490.12" y="286.49" width="19.05" height="5.46" fill="#8a06f6"/><rect x="508.88" y="286.49" width="12.80" height="5.46" fill="#8d07ef"/><rect x="521.38" y="286.49" width="3.42" height="5.46" fill="#8706fa"/><rect x="74.50" y="291.65" width="3.42" height="5.46" fill="#8405fe"/><rect x="77.62" y="291.65" width="12.80" height="5.46" fill="#8004ff"/><rect x="90.12" y="291.65" width="6.55" height="5.46" fill="#7d04fe"/><rect x="96.38" y="291.65" width="6.55" height="5.46" fill="#7903fc"/><rect x="102.62" y="291.65" width="6.55" height="5.46" fill="#7d04fe"/><rect x="108.88" y="291.65" width="6.55" height="5.46" fill="#8405fe"/><rect x="115.12" y="291.65" width="6.55" height="5.46" fill="#8a06f6"/><rect x="121.38" y="291.65" width="19.05" height="5.46" fill="#9c0db6"/><rect x="140.12" y="291.65" width="12.80" height="5.46" fill="#a11096"/><rect x="152.62" y="291.65" width="12.80" height="5.46" fill="#9008e7"/><rect x="165.12" y="291.65" width="19.05" height="5.46" fill="#8d07ef"/><rect x="183.88" y="291.65" width="12.80" height="5.46" fill="#8a06f6"/><rect x="196.38" y="291.65" width="6.55" height="5.46" fill="#8706fa"/><rect x="202.62" y="291.65" width="25.30" height="5.46" fill="#8405fe"/><rect x="227.62" y="291.65" width="6.55" height="5.46" fill="#7602f8"/><rect x="233.88" y="291.65" width="6.55" height="5.46" fill="#6e02eb"/><rect x="240.12" y="291.65" width="6.55" height="5.46" fill="#6601d7"/><rect x="246.38" y="291.65" width="6.55" height="5.46" fill="#5d01be"/><rect x="252.62" y="291.65" width="6.55" height="5.46" fill="#53009e"/><rect x="258.88" y="291.65" width="6.55" height="5.46" fill="#4e008d"/><rect x="265.12" y="291.65" width="69.05" height="5.46" fill="#420068"/><rect x="333.88" y="291.65" width="62.80" height="5.46" fill="#3b0054"/><rect x="396.38" y="291.65" width="6.55" height="5.46" fill="#420068"/><rect x="402.62" y="291.65" width="6.55" height="5.46" fill="#4e008d"/><rect x="408.88" y="291.65" width="6.55" height="5.46" fill="#5800af"/><rect x="415.12" y="291.65" width="6.55" height="5.46" fill="#6201cb"/><rect x="421.38" y="291.65" width="6.55" height="5.46" fill="#6a01e2"/><rect x="427.62" y="291.65" width="6.55" height="5.46" fill="#7202f3"/><rect x="433.88" y="291.65" width="6.55" height="5.46" fill="#7903fc"/><rect x="440.12" y="291.65" width="6.55" height="5.46" fill="#7d04fe"/><rect x="446.38" y="291.65" width="6.55" height="5.46" fill="#8004ff"/><rect x="452.62" y="291.65" width="6.55" height="5.46" fill="#8405fe"/><rect x="458.88" y="291.65" width="6.55" height="5.46" fill="#8706fa"/><rect x="465.12" y="291.65" width="19.05" height="5.46" fill="#8405fe"/><rect x="483.88" y="291.65" width="25.30" height="5.46" fill="#8706fa"/><rect x="508.88" y="291.65" width="12.80" height="5.46" fill="#8a06f6"/><rect x="521.38" y="291.65" width="3.42" height="5.46" fill="#8405fe"/><rect x="74.50" y="296.81" width="3.42" height="5.46" fill="#8405fe"/><rect x="77.62" y="296.81" width="12.80" height="5.46" fill="#8004ff"/><rect x="90.12" y="296.81" width="6.55" height="5.46" fill="#7d04fe"/><rect x="96.38" y="296.81" width="6.55" height="5.46" fill="#7202f3"/><rect x="102.62" y="296.81" width="6.55" height="5.46" fill="#6e02eb"/><rect x="108.88" y="296.81" width="6.55" height="5.46" fill="#7903fc"/><rect x="115.12" y="296.81" width="6.55" height="5.46" fill="#8004ff"/><rect x="121.38" y="296.81" width="6.55" height="5.46" fill="#9008e7"/><rect x="127.62" y="296.81" width="6.55" height="5.46" fill="#8a06f6"/><rect x="133.88" y="296.81" width="25.30" height="5.46" fill="#8405fe"/><rect x="158.88" y="296.81" width="12.80" height="5.46" fill="#8004ff"/><rect x="171.38" y="296.81" width="19.05" height="5.46" fill="#7d04fe"/><rect x="190.12" y="296.81" width="6.55" height="5.46" fill="#7903fc"/><rect x="196.38" y="296.81" width="6.55" height="5.46" fill="#7602f8"/><rect x="202.62" y="296.81" width="12.80" height="5.46" fill="#7202f3"/><rect x="215.12" y="296.81" width="12.80" height="5.46" fill="#6e02eb"/><rect x="227.62" y="296.81" width="6.55" height="5.46" fill="#6601d7"/><rect x="233.88" y="296.81" width="6.55" height="5.46" fill="#5d01be"/><rect x="240.12" y="296.81" width="6.55" height="5.46" fill="#53009e"/><rect x="246.38" y="296.81" width="6.55" height="5.46" fill="#4e008d"/><rect x="252.62" y="296.81" width="12.80" height="5.46" fill="#48007b"/><rect x="265.12" y="296.81" width="25.30" height="5.46" fill="#420068"/><rect x="290.12" y="296.81" width="6.55" height="5.46" fill="#3b0054"/><rect x="296.38" y="296.81" width="37.80" height="5.46" fill="#420068"/><rect x="333.88" y="296.81" width="31.55" height="5.46" fill="#3b0054"/><rect x="365.12" y="296.81" width="25.30" height="5.46" fill="#420068"/><rect x="390.12" y="296.81" width="12.80" height="5.46" fill="#48007b"/><rect x="402.62" y="296.81" width="6.55" height="5.46" fill="#4e008d"/><rect x="408.88" y="296.81" width="6.55" height="5.46" fill="#5800af"/><rect x="415.12" y="296.81" width="6.55" height="5.46" fill="#6201cb"/><rect x="421.38" y="296.81" width="6.55" height="5.46" fill="#6a01e2"/><rect x="427.62" y="296.81" width="6.55" height="5.46" fill="#7202f3"/><rect x="433.88" y="296.81" width="6.55" height="5.46" fill="#7903fc"/><rect x="440.12" y="296.81" width="6.55" height="5.46" fill="#7d04fe"/><rect x="446.38" y="296.81" width="12.80" height="5.46" fill="#8405fe"/><rect x="458.88" y="296.81" width="19.05" height="5.46" fill="#8706fa"/><rect x="477.62" y="296.81" width="6.55" height="5.46" fill="#8a06f6"/><rect x="483.88" y="296.81" width="37.80" height="5.46" fill="#8706fa"/><rect x="521.38" y="296.81" width="3.42" height="5.46" fill="#8405fe"/><rect x="74.50" y="301.96" width="3.42" height="5.46" fill="#8405fe"/><rect x="77.62" y="301.96" width="12.80" height="5.46" fill="#8004ff"/><rect x="90.12" y="301.96" width="6.55" height="5.46" fill="#7202f3"/><rect x="96.38" y="301.96" width="6.55" height="5.46" fill="#6a01e2"/><rect x="102.62" y="301.96" width="6.55" height="5.46" fill="#6e02eb"/><rect x="108.88" y="301.96" width="6.55" height="5.46" fill="#7d04fe"/><rect x="115.12" y="301.96" width="6.55" height="5.46" fill="#8004ff"/><rect x="121.38" y="301.96" width="6.55" height="5.46" fill="#8a06f6"/><rect x="127.62" y="301.96" width="6.55" height="5.46" fill="#8405fe"/><rect x="133.88" y="301.96" width="19.05" height="5.46" fill="#8004ff"/><rect x="152.62" y="301.96" width="12.80" height="5.46" fill="#7d04fe"/><rect x="165.12" y="301.96" width="12.80" height="5.46" fill="#7903fc"/><rect x="177.62" y="301.96" width="6.55" height="5.46" fill="#7602f8"/><rect x="183.88" y="301.96" width="12.80" height="5.46" fill="#7202f3"/><rect x="196.38" y="301.96" width="12.80" height="5.46" fill="#6e02eb"/><rect x="208.88" y="301.96" width="6.55" height="5.46" fill="#6a01e2"/><rect x="215.12" y="301.96" width="12.80" height="5.46" fill="#6601d7"/><rect x="227.62" y="301.96" width="6.55" height="5.46" fill="#6201cb"/><rect x="233.88" y="301.96" width="6.55" height="5.46" fill="#5800af"/><rect x="240.12" y="301.96" width="6.55" height="5.46" fill="#53009e"/><rect x="246.38" y="301.96" width="12.80" height="5.46" fill="#48007b"/><rect x="258.88" y="301.96" width="12.80" height="5.46" fill="#420068"/><rect x="271.38" y="301.96" width="6.55" height="5.46" fill="#48007b"/><rect x="277.62" y="301.96" width="6.55" height="5.46" fill="#420068"/><rect x="283.88" y="301.96" width="19.05" height="5.46" fill="#3b0054"/><rect x="302.62" y="301.96" width="19.05" height="5.46" fill="#420068"/><rect x="321.38" y="301.96" width="12.80" height="5.46" fill="#48007b"/><rect x="333.88" y="301.96" width="6.55" height="5.46" fill="#420068"/><rect x="340.12" y="301.96" width="19.05" height="5.46" fill="#3b0054"/><rect x="358.88" y="301.96" width="6.55" height="5.46" fill="#420068"/><rect x="365.12" y="301.96" width="25.30" height="5.46" fill="#48007b"/><rect x="390.12" y="301.96" width="12.80" height="5.46" fill="#4e008d"/><rect x="402.62" y="301.96" width="6.55" height="5.46" fill="#53009e"/><rect x="408.88" y="301.96" width="6.55" height="5.46" fill="#5800af"/><rect x="415.12" y="301.96" width="6.55" height="5.46" fill="#6201cb"/><rect x="421.38" y="301.96" width="6.55" height="5.46" fill="#6a01e2"/><rect x="427.62" y="301.96" width="6.55" height="5.46" fill="#6e02eb"/><rect x="433.88" y="301.96" width="6.55" height="5.46" fill="#7602f8"/><rect x="440.12" y="301.96" width="6.55" height="5.46" fill="#7903fc"/><rect x="446.38" y="301.96" width="6.55" height="5.46" fill="#8004ff"/><rect x="452.62" y="301.96" width="19.05" height="5.46" fill="#8405fe"/><rect x="471.38" y="301.96" width="44.05" height="5.46" fill="#8706fa"/><rect x="515.12" y="301.96" width="9.68" height="5.46" fill="#8405fe"/><rect x="74.50" y="307.12" width="3.42" height="5.46" fill="#8405fe"/><rect x="77.62" y="307.12" width="12.80" height="5.46" fill="#8004ff"/><rect x="90.12" y="307.12" width="6.55" height="5.46" fill="#7202f3"/><rect x="96.38" y="307.12" width="6.55" height="5.46" fill="#6e02eb"/><rect x="102.62" y="307.12" width="6.55" height="5.46" fill="#7602f8"/><rect x="108.88" y="307.12" width="6.55" height="5.46" fill="#7d04fe"/><rect x="115.12" y="307.12" width="6.55" height="5.46" fill="#8004ff"/><rect x="121.38" y="307.12" width="6.55" height="5.46" fill="#8405fe"/><rect x="127.62" y="307.12" width="12.80" height="5.46" fill="#8004ff"/><rect x="140.12" y="307.12" width="12.80" height="5.46" fill="#7d04fe"/><rect x="152.62" y="307.12" width="6.55" height="5.46" fill="#7903fc"/><rect x="158.88" y="307.12" width="12.80" height="5.46" fill="#7602f8"/><rect x="171.38" y="307.12" width="6.55" height="5.46" fill="#7202f3"/><rect x="177.62" y="307.12" width="12.80" height="5.46" fill="#6e02eb"/><rect x="190.12" y="307.12" width="12.80" height="5.46" fill="#6a01e2"/><rect x="202.62" y="307.12" width="12.80" height="5.46" fill="#6601d7"/><rect x="215.12" y="307.12" width="6.55" height="5.46" fill="#6201cb"/><rect x="221.38" y="307.12" width="6.55" height="5.46" fill="#5d01be"/><rect x="227.62" y="307.12" width="6.55" height="5.46" fill="#5800af"/><rect x="233.88" y="307.12" width="6.55" height="5.46" fill="#53009e"/><rect x="240.12" y="307.12" width="6.55" height="5.46" fill="#4e008d"/><rect x="246.38" y="307.12" width="6.55" height="5.46" fill="#48007b"/><rect x="252.62" y="307.12" width="31.55" height="5.46" fill="#420068"/><rect x="283.88" y="307.12" width="6.55" height="5.46" fill="#3b0054"/><rect x="290.12" y="307.12" width="6.55" height="5.46" fill="#33003f"/><rect x="296.38" y="307.12" width="12.80" height="5.46" fill="#3b0054"/><rect x="308.88" y="307.12" width="25.30" height="5.46" fill="#420068"/><rect x="333.88" y="307.12" width="25.30" height="5.46" fill="#3b0054"/><rect x="358.88" y="307.12" width="6.55" height="5.46" fill="#48007b"/><rect x="365.12" y="307.12" width="19.05" height="5.46" fill="#4e008d"/><rect x="383.88" y="307.12" width="25.30" height="5.46" fill="#53009e"/><rect x="408.88" y="307.12" width="6.55" height="5.46" fill="#5800af"/><rect x="415.12" y="307.12" width="6.55" height="5.46" fill="#5d01be"/><rect x="421.38" y="307.12" width="6.55" height="5.46" fill="#6601d7"/><rect x="427.62" y="307.12" width="6.55" height="5.46" fill="#6e02eb"/><rect x="433.88" y="307.12" width="6.55" height="5.46" fill="#7202f3"/><rect x="440.12" y="307.12" width="6.55" height="5.46" fill="#7903fc"/><rect x="446.38" y="307.12" width="6.55" height="5.46" fill="#7d04fe"/><rect x="452.62" y="307.12" width="6.55" height="5.46" fill="#8004ff"/><rect x="458.88" y="307.12" width="65.92" height="5.46" fill="#8405fe"/><rect x="74.50" y="312.28" width="3.42" height="5.46" fill="#8405fe"/><rect x="77.62" y="312.28" width="12.80" height="5.46" fill="#8004ff"/><rect x="90.12" y="312.28" width="12.80" height="5.46" fill="#7202f3"/><rect x="102.62" y="312.28" width="6.55" height="5.46" fill="#7903fc"/><rect x="108.88" y="312.28" width="6.55" height="5.46" fill="#7d04fe"/><rect x="115.12" y="312.28" width="19.05" height="5.46" fill="#8004ff"/><rect x="133.88" y="312.28" width="12.80" height="5.46" fill="#7d04fe"/><rect x="146.38" y="312.28" width="6.55" height="5.46" fill="#7903fc"/><rect x="152.62" y="312.28" width="6.55" height="5.46" fill="#7602f8"/><rect x="158.88" y="312.28" width="6.55" height="5.46" fill="#7202f3"/><rect x="165.12" y="312.28" width="12.80" height="5.46" fill="#6e02eb"/><rect x="177.62" y="312.28" width="6.55" height="5.46" fill="#6a01e2"/><rect x="183.88" y="312.28" width="19.05" height="5.46" fill="#6601d7"/><rect x="202.62" y="312.28" width="12.80" height="5.46" fill="#6201cb"/><rect x="215.12" y="312.28" width="6.55" height="5.46" fill="#5d01be"/><rect x="221.38" y="312.28" width="6.55" height="5.46" fill="#5800af"/><rect x="227.62" y="312.28" width="6.55" height="5.46" fill="#53009e"/><rect x="233.88" y="312.28" width="6.55" height="5.46" fill="#4e008d"/><rect x="240.12" y="312.28" width="6.55" height="5.46" fill="#48007b"/><rect x="246.38" y="312.28" width="31.55" height="5.46" fill="#420068"/><rect x="277.62" y="312.28" width="12.80" height="5.46" fill="#3b0054"/><rect x="290.12" y="312.28" width="6.55" height="5.46" fill="#33003f"/><rect x="296.38" y="312.28" width="31.55" height="5.46" fill="#3b0054"/><rect x="327.62" y="312.28" width="12.80" height="5.46" fill="#33003f"/><rect x="340.12" y="312.28" width="12.80" height="5.46" fill="#3b0054"/><rect x="352.62" y="312.28" width="6.55" height="5.46" fill="#420068"/><rect x="358.88" y="312.28" width="6.55" height="5.46" fill="#48007b"/><rect x="365.12" y="312.28" width="12.80" height="5.46" fill="#4e008d"/><rect x="377.62" y="312.28" width="31.55" height="5.46" fill="#53009e"/><rect x="408.88" y="312.28" width="6.55" height="5.46" fill="#5800af"/><rect x="415.12" y="312.28" width="6.55" height="5.46" fill="#5d01be"/><rect x="421.38" y="312.28" width="6.55" height="5.46" fill="#6601d7"/><rect x="427.62" y="312.28" width="6.55" height="5.46" fill="#6e02eb"/><rect x="433.88" y="312.28" width="6.55" height="5.46" fill="#7202f3"/><rect x="440.12" y="312.28" width="6.55" height="5.46" fill="#7602f8"/><rect x="446.38" y="312.28" width="6.55" height="5.46" fill="#7903fc"/><rect x="452.62" y="312.28" width="6.55" height="5.46" fill="#7d04fe"/><rect x="458.88" y="312.28" width="6.55" height="5.46" fill="#8004ff"/><rect x="465.12" y="312.28" width="59.67" height="5.46" fill="#8405fe"/><rect x="74.50" y="317.44" width="3.42" height="5.46" fill="#8405fe"/><rect x="77.62" y="317.44" width="6.55" height="5.46" fill="#8004ff"/><rect x="83.88" y="317.44" width="25.30" height="5.46" fill="#7903fc"/><rect x="108.88" y="317.44" width="6.55" height="5.46" fill="#7d04fe"/><rect x="115.12" y="317.44" width="12.80" height="5.46" fill="#8004ff"/><rect x="127.62" y="317.44" width="12.80" height="5.46" fill="#7d04fe"/><rect x="140.12" y="317.44" width="12.80" height="5.46" fill="#7903fc"/><rect x="152.62" y="317.44" width="6.55" height="5.46" fill="#7202f3"/><rect x="158.88" y="317.44" width="6.55" height="5.46" fill="#6e02eb"/><rect x="165.12" y="317.44" width="12.80" height="5.46" fill="#6a01e2"/><rect x="177.62" y="317.44" width="12.80" height="5.46" fill="#6601d7"/><rect x="190.12" y="317.44" width="12.80" height="5.46" fill="#6201cb"/><rect x="202.62" y="317.44" width="12.80" height="5.46" fill="#5d01be"/><rect x="215.12" y="317.44" width="6.55" height="5.46" fill="#5800af"/><rect x="221.38" y="317.44" width="6.55" height="5.46" fill="#53009e"/><rect x="227.62" y="317.44" width="6.55" height="5.46" fill="#4e008d"/><rect x="233.88" y="317.44" width="31.55" height="5.46" fill="#420068"/><rect x="265.12" y="317.44" width="19.05" height="5.46" fill="#3b0054"/><rect x="283.88" y="317.44" width="12.80" height="5.46" fill="#33003f"/><rect x="296.38" y="317.44" width="25.30" height="5.46" fill="#3b0054"/><rect x="321.38" y="317.44" width="19.05" height="5.46" fill="#33003f"/><rect x="340.12" y="317.44" width="12.80" height="5.46" fill="#3b0054"/><rect x="352.62" y="317.44" width="6.55" height="5.46" fill="#420068"/><rect x="358.88" y="317.44" width="6.55" height="5.46" fill="#48007b"/><rect x="365.12" y="317.44" width="31.55" height="5.46" fill="#4e008d"/><rect x="396.38" y="317.44" width="12.80" height="5.46" fill="#53009e"/><rect x="408.88" y="317.44" width="6.55" height="5.46" fill="#5800af"/><rect x="415.12" y="317.44" width="6.55" height="5.46" fill="#5d01be"/><rect x="421.38" y="317.44" width="6.55" height="5.46" fill="#6201cb"/><rect x="427.62" y="317.44" width="6.55" height="5.46" fill="#6a01e2"/><rect x="433.88" y="317.44" width="6.55" height="5.46" fill="#6e02eb"/><rect x="440.12" y="317.44" width="12.80" height="5.46" fill="#7602f8"/><rect x="452.62" y="317.44" width="6.55" height="5.46" fill="#7d04fe"/><rect x="458.88" y="317.44" width="12.80" height="5.46" fill="#8004ff"/><rect x="471.38" y="317.44" width="53.42" height="5.46" fill="#8405fe"/><rect x="74.50" y="322.59" width="3.42" height="5.46" fill="#8405fe"/><rect x="77.62" y="322.59" width="19.05" height="5.46" fill="#8004ff"/><rect x="96.38" y="322.59" width="37.80" height="5.46" fill="#7d04fe"/><rect x="133.88" y="322.59" width="19.05" height="5.46" fill="#7903fc"/><rect x="152.62" y="322.59" width="6.55" height="5.46" fill="#7202f3"/><rect x="158.88" y="322.59" width="6.55" height="5.46" fill="#6e02eb"/><rect x="165.12" y="322.59" width="6.55" height="5.46" fill="#6a01e2"/><rect x="171.38" y="322.59" width="6.55" height="5.46" fill="#6601d7"/><rect x="177.62" y="322.59" width="19.05" height="5.46" fill="#6201cb"/><rect x="196.38" y="322.59" width="12.80" height="5.46" fill="#5d01be"/><rect x="208.88" y="322.59" width="6.55" height="5.46" fill="#5800af"/><rect x="215.12" y="322.59" width="6.55" height="5.46" fill="#53009e"/><rect x="221.38" y="322.59" width="12.80" height="5.46" fill="#48007b"/><rect x="233.88" y="322.59" width="12.80" height="5.46" fill="#3b0054"/><rect x="246.38" y="322.59" width="12.80" height="5.46" fill="#420068"/><rect x="258.88" y="322.59" width="25.30" height="5.46" fill="#3b0054"/><rect x="283.88" y="322.59" width="12.80" height="5.46" fill="#33003f"/><rect x="296.38" y="322.59" width="25.30" height="5.46" fill="#3b0054"/><rect x="321.38" y="322.59" width="25.30" height="5.46" fill="#33003f"/><rect x="346.38" y="322.59" width="12.80" height="5.46" fill="#3b0054"/><rect x="358.88" y="322.59" width="6.55" height="5.46" fill="#420068"/><rect x="365.12" y="322.59" width="25.30" height="5.46" fill="#48007b"/><rect x="390.12" y="322.59" width="12.80" height="5.46" fill="#4e008d"/><rect x="402.62" y="322.59" width="6.55" height="5.46" fill="#53009e"/><rect x="408.88" y="322.59" width="6.55" height="5.46" fill="#5800af"/><rect x="415.12" y="322.59" width="6.55" height="5.46" fill="#5d01be"/><rect x="421.38" y="322.59" width="6.55" height="5.46" fill="#6201cb"/><rect x="427.62" y="322.59" width="6.55" height="5.46" fill="#6a01e2"/><rect x="433.88" y="322.59" width="6.55" height="5.46" fill="#6e02eb"/><rect x="440.12" y="322.59" width="12.80" height="5.46" fill="#7602f8"/><rect x="452.62" y="322.59" width="6.55" height="5.46" fill="#7903fc"/><rect x="458.88" y="322.59" width="6.55" height="5.46" fill="#7d04fe"/><rect x="465.12" y="322.59" width="12.80" height="5.46" fill="#8004ff"/><rect x="477.62" y="322.59" width="47.17" height="5.46" fill="#8405fe"/><rect x="74.50" y="327.75" width="3.42" height="5.46" fill="#8405fe"/><rect x="77.62" y="327.75" width="19.05" height="5.46" fill="#8004ff"/><rect x="96.38" y="327.75" width="19.05" height="5.46" fill="#7d04fe"/><rect x="115.12" y="327.75" width="6.55" height="5.46" fill="#7903fc"/><rect x="121.38" y="327.75" width="6.55" height="5.46" fill="#7602f8"/><rect x="127.62" y="327.75" width="6.55" height="5.46" fill="#7d04fe"/><rect x="133.88" y="327.75" width="12.80" height="5.46" fill="#7903fc"/><rect x="146.38" y="327.75" width="6.55" height="5.46" fill="#7602f8"/><rect x="152.62" y="327.75" width="6.55" height="5.46" fill="#7202f3"/><rect x="158.88" y="327.75" width="6.55" height="5.46" fill="#6e02eb"/><rect x="165.12" y="327.75" width="6.55" height="5.46" fill="#6a01e2"/><rect x="171.38" y="327.75" width="6.55" height="5.46" fill="#6601d7"/><rect x="177.62" y="327.75" width="6.55" height="5.46" fill="#6201cb"/><rect x="183.88" y="327.75" width="12.80" height="5.46" fill="#5d01be"/><rect x="196.38" y="327.75" width="19.05" height="5.46" fill="#5800af"/><rect x="215.12" y="327.75" width="6.55" height="5.46" fill="#53009e"/><rect x="221.38" y="327.75" width="6.55" height="5.46" fill="#48007b"/><rect x="227.62" y="327.75" width="31.55" height="5.46" fill="#420068"/><rect x="258.88" y="327.75" width="62.80" height="5.46" fill="#3b0054"/><rect x="321.38" y="327.75" width="25.30" height="5.46" fill="#33003f"/><rect x="346.38" y="327.75" width="12.80" height="5.46" fill="#3b0054"/><rect x="358.88" y="327.75" width="31.55" height="5.46" fill="#420068"/><rect x="390.12" y="327.75" width="19.05" height="5.46" fill="#4e008d"/><rect x="408.88" y="327.75" width="6.55" height="5.46" fill="#53009e"/><rect x="415.12" y="327.75" width="6.55" height="5.46" fill="#5800af"/><rect x="421.38" y="327.75" width="6.55" height="5.46" fill="#6201cb"/><rect x="427.62" y="327.75" width="6.55" height="5.46" fill="#6601d7"/><rect x="433.88" y="327.75" width="6.55" height="5.46" fill="#6e02eb"/><rect x="440.12" y="327.75" width="12.80" height="5.46" fill="#7202f3"/><rect x="452.62" y="327.75" width="6.55" height="5.46" fill="#7602f8"/><rect x="458.88" y="327.75" width="6.55" height="5.46" fill="#7903fc"/><rect x="465.12" y="327.75" width="6.55" height="5.46" fill="#7d04fe"/><rect x="471.38" y="327.75" width="12.80" height="5.46" fill="#8004ff"/><rect x="483.88" y="327.75" width="40.92" height="5.46" fill="#8405fe"/><rect x="74.50" y="332.91" width="15.93" height="5.46" fill="#8004ff"/><rect x="90.12" y="332.91" width="25.30" height="5.46" fill="#7d04fe"/><rect x="115.12" y="332.91" width="6.55" height="5.46" fill="#7903fc"/><rect x="121.38" y="332.91" width="6.55" height="5.46" fill="#7602f8"/><rect x="127.62" y="332.91" width="19.05" height="5.46" fill="#7903fc"/><rect x="146.38" y="332.91" width="6.55" height="5.46" fill="#7602f8"/><rect x="152.62" y="332.91" width="6.55" height="5.46" fill="#6e02eb"/><rect x="158.88" y="332.91" width="6.55" height="5.46" fill="#6a01e2"/><rect x="165.12" y="332.91" width="6.55" height="5.46" fill="#6601d7"/><rect x="171.38" y="332.91" width="6.55" height="5.46" fill="#6201cb"/><rect x="177.62" y="332.91" width="12.80" height="5.46" fill="#5d01be"/><rect x="190.12" y="332.91" width="12.80" height="5.46" fill="#5800af"/><rect x="202.62" y="332.91" width="12.80" height="5.46" fill="#53009e"/><rect x="215.12" y="332.91" width="6.55" height="5.46" fill="#4e008d"/><rect x="221.38" y="332.91" width="19.05" height="5.46" fill="#48007b"/><rect x="240.12" y="332.91" width="12.80" height="5.46" fill="#420068"/><rect x="252.62" y="332.91" width="6.55" height="5.46" fill="#3b0054"/><rect x="258.88" y="332.91" width="19.05" height="5.46" fill="#33003f"/><rect x="277.62" y="332.91" width="44.05" height="5.46" fill="#3b0054"/><rect x="321.38" y="332.91" width="6.55" height="5.46" fill="#33003f"/><rect x="327.62" y="332.91" width="6.55" height="5.46" fill="#2a002b"/><rect x="333.88" y="332.91" width="19.05" height="5.46" fill="#33003f"/><rect x="352.62" y="332.91" width="31.55" height="5.46" fill="#3b0054"/><rect x="383.88" y="332.91" width="6.55" height="5.46" fill="#420068"/><rect x="390.12" y="332.91" width="6.55" height="5.46" fill="#48007b"/><rect x="396.38" y="332.91" width="12.80" height="5.46" fill="#4e008d"/><rect x="408.88" y="332.91" width="6.55" height="5.46" fill="#53009e"/><rect x="415.12" y="332.91" width="6.55" height="5.46" fill="#5800af"/><rect x="421.38" y="332.91" width="6.55" height="5.46" fill="#5d01be"/><rect x="427.62" y="332.91" width="6.55" height="5.46" fill="#6601d7"/><rect x="433.88" y="332.91" width="6.55" height="5.46" fill="#6a01e2"/><rect x="440.12" y="332.91" width="6.55" height="5.46" fill="#7202f3"/><rect x="446.38" y="332.91" width="6.55" height="5.46" fill="#6e02eb"/><rect x="452.62" y="332.91" width="6.55" height="5.46" fill="#7202f3"/><rect x="458.88" y="332.91" width="6.55" height="5.46" fill="#7903fc"/><rect x="465.12" y="332.91" width="6.55" height="5.46" fill="#7d04fe"/><rect x="471.38" y="332.91" width="12.80" height="5.46" fill="#8004ff"/><rect x="483.88" y="332.91" width="37.80" height="5.46" fill="#8405fe"/><rect x="521.38" y="332.91" width="3.42" height="5.46" fill="#8004ff"/><rect x="74.50" y="338.06" width="15.93" height="5.46" fill="#8004ff"/><rect x="90.12" y="338.06" width="31.55" height="5.46" fill="#7d04fe"/><rect x="121.38" y="338.06" width="6.55" height="5.46" fill="#7602f8"/><rect x="127.62" y="338.06" width="12.80" height="5.46" fill="#7903fc"/><rect x="140.12" y="338.06" width="6.55" height="5.46" fill="#7602f8"/><rect x="146.38" y="338.06" width="6.55" height="5.46" fill="#7202f3"/><rect x="152.62" y="338.06" width="6.55" height="5.46" fill="#6a01e2"/><rect x="158.88" y="338.06" width="6.55" height="5.46" fill="#6601d7"/><rect x="165.12" y="338.06" width="12.80" height="5.46" fill="#6201cb"/><rect x="177.62" y="338.06" width="6.55" height="5.46" fill="#5d01be"/><rect x="183.88" y="338.06" width="12.80" height="5.46" fill="#5800af"/><rect x="196.38" y="338.06" width="12.80" height="5.46" fill="#53009e"/><rect x="208.88" y="338.06" width="19.05" height="5.46" fill="#4e008d"/><rect x="227.62" y="338.06" width="6.55" height="5.46" fill="#48007b"/><rect x="233.88" y="338.06" width="12.80" height="5.46" fill="#420068"/><rect x="246.38" y="338.06" width="12.80" height="5.46" fill="#3b0054"/><rect x="258.88" y="338.06" width="12.80" height="5.46" fill="#33003f"/><rect x="271.38" y="338.06" width="44.05" height="5.46" fill="#3b0054"/><rect x="315.12" y="338.06" width="6.55" height="5.46" fill="#33003f"/><rect x="321.38" y="338.06" width="25.30" height="5.46" fill="#2a002b"/><rect x="346.38" y="338.06" width="19.05" height="5.46" fill="#33003f"/><rect x="365.12" y="338.06" width="25.30" height="5.46" fill="#3b0054"/><rect x="390.12" y="338.06" width="12.80" height="5.46" fill="#48007b"/><rect x="402.62" y="338.06" width="12.80" height="5.46" fill="#4e008d"/><rect x="415.12" y="338.06" width="6.55" height="5.46" fill="#53009e"/><rect x="421.38" y="338.06" width="6.55" height="5.46" fill="#5d01be"/><rect x="427.62" y="338.06" width="6.55" height="5.46" fill="#6201cb"/><rect x="433.88" y="338.06" width="6.55" height="5.46" fill="#6a01e2"/><rect x="440.12" y="338.06" width="6.55" height="5.46" fill="#6e02eb"/><rect x="446.38" y="338.06" width="6.55" height="5.46" fill="#6a01e2"/><rect x="452.62" y="338.06" width="6.55" height="5.46" fill="#6e02eb"/><rect x="458.88" y="338.06" width="6.55" height="5.46" fill="#7602f8"/><rect x="465.12" y="338.06" width="6.55" height="5.46" fill="#7903fc"/><rect x="471.38" y="338.06" width="6.55" height="5.46" fill="#7d04fe"/><rect x="477.62" y="338.06" width="12.80" height="5.46" fill="#8004ff"/><rect x="490.12" y="338.06" width="31.55" height="5.46" fill="#8405fe"/><rect x="521.38" y="338.06" width="3.42" height="5.46" fill="#8004ff"/><rect x="74.50" y="343.22" width="3.42" height="5.46" fill="#8004ff"/><rect x="77.62" y="343.22" width="44.05" height="5.46" fill="#7d04fe"/><rect x="121.38" y="343.22" width="12.80" height="5.46" fill="#7903fc"/><rect x="133.88" y="343.22" width="6.55" height="5.46" fill="#7602f8"/><rect x="140.12" y="343.22" width="6.55" height="5.46" fill="#7202f3"/><rect x="146.38" y="343.22" width="6.55" height="5.46" fill="#6e02eb"/><rect x="152.62" y="343.22" width="6.55" height="5.46" fill="#6a01e2"/><rect x="158.88" y="343.22" width="6.55" height="5.46" fill="#6601d7"/><rect x="165.12" y="343.22" width="6.55" height="5.46" fill="#6201cb"/><rect x="171.38" y="343.22" width="12.80" height="5.46" fill="#5d01be"/><rect x="183.88" y="343.22" width="6.55" height="5.46" fill="#5800af"/><rect x="190.12" y="343.22" width="12.80" height="5.46" fill="#53009e"/><rect x="202.62" y="343.22" width="25.30" height="5.46" fill="#4e008d"/><rect x="227.62" y="343.22" width="6.55" height="5.46" fill="#48007b"/><rect x="233.88" y="343.22" width="12.80" height="5.46" fill="#420068"/><rect x="246.38" y="343.22" width="56.55" height="5.46" fill="#3b0054"/><rect x="302.62" y="343.22" width="6.55" height="5.46" fill="#33003f"/><rect x="308.88" y="343.22" width="6.55" height="5.46" fill="#3b0054"/><rect x="315.12" y="343.22" width="6.55" height="5.46" fill="#33003f"/><rect x="321.38" y="343.22" width="44.05" height="5.46" fill="#2a002b"/><rect x="365.12" y="343.22" width="12.80" height="5.46" fill="#33003f"/><rect x="377.62" y="343.22" width="12.80" height="5.46" fill="#3b0054"/><rect x="390.12" y="343.22" width="12.80" height="5.46" fill="#5800af"/><rect x="402.62" y="343.22" width="6.55" height="5.46" fill="#48007b"/><rect x="408.88" y="343.22" width="6.55" height="5.46" fill="#4e008d"/><rect x="415.12" y="343.22" width="6.55" height="5.46" fill="#53009e"/><rect x="421.38" y="343.22" width="6.55" height="5.46" fill="#5800af"/><rect x="427.62" y="343.22" width="6.55" height="5.46" fill="#6201cb"/><rect x="433.88" y="343.22" width="6.55" height="5.46" fill="#6601d7"/><rect x="440.12" y="343.22" width="6.55" height="5.46" fill="#6a01e2"/><rect x="446.38" y="343.22" width="6.55" height="5.46" fill="#6601d7"/><rect x="452.62" y="343.22" width="6.55" height="5.46" fill="#6a01e2"/><rect x="458.88" y="343.22" width="6.55" height="5.46" fill="#7202f3"/><rect x="465.12" y="343.22" width="6.55" height="5.46" fill="#7903fc"/><rect x="471.38" y="343.22" width="6.55" height="5.46" fill="#7d04fe"/><rect x="477.62" y="343.22" width="19.05" height="5.46" fill="#8004ff"/><rect x="496.38" y="343.22" width="25.30" height="5.46" fill="#8405fe"/><rect x="521.38" y="343.22" width="3.42" height="5.46" fill="#8004ff"/><rect x="74.50" y="348.38" width="40.92" height="5.46" fill="#7d04fe"/><rect x="115.12" y="348.38" width="12.80" height="5.46" fill="#7903fc"/><rect x="127.62" y="348.38" width="6.55" height="5.46" fill="#7602f8"/><rect x="133.88" y="348.38" width="12.80" height="5.46" fill="#7202f3"/><rect x="146.38" y="348.38" width="6.55" height="5.46" fill="#6e02eb"/><rect x="152.62" y="348.38" width="6.55" height="5.46" fill="#6601d7"/><rect x="158.88" y="348.38" width="6.55" height="5.46" fill="#6201cb"/><rect x="165.12" y="348.38" width="12.80" height="5.46" fill="#5d01be"/><rect x="177.62" y="348.38" width="6.55" height="5.46" fill="#5800af"/><rect x="183.88" y="348.38" width="6.55" height="5.46" fill="#53009e"/><rect x="190.12" y="348.38" width="6.55" height="5.46" fill="#4e008d"/><rect x="196.38" y="348.38" width="19.05" height="5.46" fill="#48007b"/><rect x="215.12" y="348.38" width="12.80" height="5.46" fill="#4e008d"/><rect x="227.62" y="348.38" width="12.80" height="5.46" fill="#48007b"/><rect x="240.12" y="348.38" width="12.80" height="5.46" fill="#420068"/><rect x="252.62" y="348.38" width="50.30" height="5.46" fill="#3b0054"/><rect x="302.62" y="348.38" width="25.30" height="5.46" fill="#33003f"/><rect x="327.62" y="348.38" width="19.05" height="5.46" fill="#2a002b"/><rect x="346.38" y="348.38" width="19.05" height="5.46" fill="#33003f"/><rect x="365.12" y="348.38" width="25.30" height="5.46" fill="#3b0054"/><rect x="390.12" y="348.38" width="31.55" height="5.46" fill="#4e008d"/><rect x="421.38" y="348.38" width="6.55" height="5.46" fill="#53009e"/><rect x="427.62" y="348.38" width="6.55" height="5.46" fill="#5d01be"/><rect x="433.88" y="348.38" width="6.55" height="5.46" fill="#6201cb"/><rect x="440.12" y="348.38" width="12.80" height="5.46" fill="#6601d7"/><rect x="452.62" y="348.38" width="6.55" height="5.46" fill="#6a01e2"/><rect x="458.88" y="348.38" width="6.55" height="5.46" fill="#6e02eb"/><rect x="465.12" y="348.38" width="6.55" height="5.46" fill="#7602f8"/><rect x="471.38" y="348.38" width="6.55" height="5.46" fill="#7903fc"/><rect x="477.62" y="348.38" width="6.55" height="5.46" fill="#7d04fe"/><rect x="483.88" y="348.38" width="37.80" height="5.46" fill="#8004ff"/><rect x="521.38" y="348.38" width="3.42" height="5.46" fill="#7d04fe"/><rect x="74.50" y="353.54" width="40.92" height="5.46" fill="#7d04fe"/><rect x="115.12" y="353.54" width="12.80" height="5.46" fill="#7903fc"/><rect x="127.62" y="353.54" width="6.55" height="5.46" fill="#7602f8"/><rect x="133.88" y="353.54" width="6.55" height="5.46" fill="#7202f3"/><rect x="140.12" y="353.54" width="6.55" height="5.46" fill="#6e02eb"/><rect x="146.38" y="353.54" width="6.55" height="5.46" fill="#6a01e2"/><rect x="152.62" y="353.54" width="6.55" height="5.46" fill="#6601d7"/><rect x="158.88" y="353.54" width="6.55" height="5.46" fill="#6201cb"/><rect x="165.12" y="353.54" width="6.55" height="5.46" fill="#5d01be"/><rect x="171.38" y="353.54" width="12.80" height="5.46" fill="#5800af"/><rect x="183.88" y="353.54" width="6.55" height="5.46" fill="#4e008d"/><rect x="190.12" y="353.54" width="56.55" height="5.46" fill="#48007b"/><rect x="246.38" y="353.54" width="12.80" height="5.46" fill="#420068"/><rect x="258.88" y="353.54" width="37.80" height="5.46" fill="#3b0054"/><rect x="296.38" y="353.54" width="62.80" height="5.46" fill="#33003f"/><rect x="358.88" y="353.54" width="31.55" height="5.46" fill="#3b0054"/><rect x="390.12" y="353.54" width="31.55" height="5.46" fill="#4e008d"/><rect x="421.38" y="353.54" width="6.55" height="5.46" fill="#53009e"/><rect x="427.62" y="353.54" width="6.55" height="5.46" fill="#5800af"/><rect x="433.88" y="353.54" width="6.55" height="5.46" fill="#5d01be"/><rect x="440.12" y="353.54" width="12.80" height="5.46" fill="#6201cb"/><rect x="452.62" y="353.54" width="6.55" height="5.46" fill="#6601d7"/><rect x="458.88" y="353.54" width="6.55" height="5.46" fill="#6e02eb"/><rect x="465.12" y="353.54" width="6.55" height="5.46" fill="#7202f3"/><rect x="471.38" y="353.54" width="6.55" height="5.46" fill="#7903fc"/><rect x="477.62" y="353.54" width="12.80" height="5.46" fill="#7d04fe"/><rect x="490.12" y="353.54" width="31.55" height="5.46" fill="#8004ff"/><rect x="521.38" y="353.54" width="3.42" height="5.46" fill="#7d04fe"/><rect x="74.50" y="358.69" width="40.92" height="5.46" fill="#7903fc"/><rect x="115.12" y="358.69" width="12.80" height="5.46" fill="#7602f8"/><rect x="127.62" y="358.69" width="6.55" height="5.46" fill="#7202f3"/><rect x="133.88" y="358.69" width="6.55" height="5.46" fill="#6e02eb"/><rect x="140.12" y="358.69" width="6.55" height="5.46" fill="#6a01e2"/><rect x="146.38" y="358.69" width="6.55" height="5.46" fill="#6601d7"/><rect x="152.62" y="358.69" width="6.55" height="5.46" fill="#6201cb"/><rect x="158.88" y="358.69" width="6.55" height="5.46" fill="#5d01be"/><rect x="165.12" y="358.69" width="6.55" height="5.46" fill="#5800af"/><rect x="171.38" y="358.69" width="6.55" height="5.46" fill="#53009e"/><rect x="177.62" y="358.69" width="19.05" height="5.46" fill="#4e008d"/><rect x="196.38" y="358.69" width="12.80" height="5.46" fill="#48007b"/><rect x="208.88" y="358.69" width="6.55" height="5.46" fill="#4e008d"/><rect x="215.12" y="358.69" width="25.30" height="5.46" fill="#48007b"/><rect x="240.12" y="358.69" width="25.30" height="5.46" fill="#420068"/><rect x="265.12" y="358.69" width="31.55" height="5.46" fill="#3b0054"/><rect x="296.38" y="358.69" width="12.80" height="5.46" fill="#33003f"/><rect x="308.88" y="358.69" width="25.30" height="5.46" fill="#2a002b"/><rect x="333.88" y="358.69" width="25.30" height="5.46" fill="#33003f"/><rect x="358.88" y="358.69" width="6.55" height="5.46" fill="#48007b"/><rect x="365.12" y="358.69" width="12.80" height="5.46" fill="#4e008d"/><rect x="377.62" y="358.69" width="6.55" height="5.46" fill="#48007b"/><rect x="383.88" y="358.69" width="6.55" height="5.46" fill="#420068"/><rect x="390.12" y="358.69" width="25.30" height="5.46" fill="#3b0054"/><rect x="415.12" y="358.69" width="12.80" height="5.46" fill="#420068"/><rect x="427.62" y="358.69" width="19.05" height="5.46" fill="#48007b"/><rect x="446.38" y="358.69" width="6.55" height="5.46" fill="#5d01be"/><rect x="452.62" y="358.69" width="6.55" height="5.46" fill="#6201cb"/><rect x="458.88" y="358.69" width="6.55" height="5.46" fill="#6601d7"/><rect x="465.12" y="358.69" width="6.55" height="5.46" fill="#6a01e2"/><rect x="471.38" y="358.69" width="6.55" height="5.46" fill="#6e02eb"/><rect x="477.62" y="358.69" width="6.55" height="5.46" fill="#7202f3"/><rect x="483.88" y="358.69" width="6.55" height="5.46" fill="#7602f8"/><rect x="490.12" y="358.69" width="34.67" height="5.46" fill="#7903fc"/><rect x="74.50" y="363.85" width="47.17" height="5.46" fill="#7202f3"/><rect x="121.38" y="363.85" width="6.55" height="5.46" fill="#6e02eb"/><rect x="127.62" y="363.85" width="12.80" height="5.46" fill="#6a01e2"/><rect x="140.12" y="363.85" width="6.55" height="5.46" fill="#6601d7"/><rect x="146.38" y="363.85" width="6.55" height="5.46" fill="#6201cb"/><rect x="152.62" y="363.85" width="6.55" height="5.46" fill="#5d01be"/><rect x="158.88" y="363.85" width="6.55" height="5.46" fill="#5800af"/><rect x="165.12" y="363.85" width="6.55" height="5.46" fill="#53009e"/><rect x="171.38" y="363.85" width="6.55" height="5.46" fill="#4e008d"/><rect x="177.62" y="363.85" width="12.80" height="5.46" fill="#48007b"/><rect x="190.12" y="363.85" width="12.80" height="5.46" fill="#420068"/><rect x="202.62" y="363.85" width="31.55" height="5.46" fill="#48007b"/><rect x="233.88" y="363.85" width="12.80" height="5.46" fill="#420068"/><rect x="246.38" y="363.85" width="44.05" height="5.46" fill="#3b0054"/><rect x="290.12" y="363.85" width="12.80" height="5.46" fill="#33003f"/><rect x="302.62" y="363.85" width="19.05" height="5.46" fill="#2a002b"/><rect x="321.38" y="363.85" width="6.55" height="5.46" fill="#1d0015"/><rect x="327.62" y="363.85" width="6.55" height="5.46" fill="#2a002b"/><rect x="333.88" y="363.85" width="25.30" height="5.46" fill="#33003f"/><rect x="358.88" y="363.85" width="6.55" height="5.46" fill="#3b0054"/><rect x="365.12" y="363.85" width="12.80" height="5.46" fill="#420068"/><rect x="377.62" y="363.85" width="12.80" height="5.46" fill="#3b0054"/><rect x="390.12" y="363.85" width="19.05" height="5.46" fill="#33003f"/><rect x="408.88" y="363.85" width="6.55" height="5.46" fill="#3b0054"/><rect x="415.12" y="363.85" width="12.80" height="5.46" fill="#420068"/><rect x="427.62" y="363.85" width="12.80" height="5.46" fill="#48007b"/><rect x="440.12" y="363.85" width="6.55" height="5.46" fill="#4e008d"/><rect x="446.38" y="363.85" width="12.80" height="5.46" fill="#5d01be"/><rect x="458.88" y="363.85" width="6.55" height="5.46" fill="#6201cb"/><rect x="465.12" y="363.85" width="6.55" height="5.46" fill="#6601d7"/><rect x="471.38" y="363.85" width="6.55" height="5.46" fill="#6a01e2"/><rect x="477.62" y="363.85" width="6.55" height="5.46" fill="#6e02eb"/><rect x="483.88" y="363.85" width="6.55" height="5.46" fill="#7202f3"/><rect x="490.12" y="363.85" width="31.55" height="5.46" fill="#7602f8"/><rect x="521.38" y="363.85" width="3.42" height="5.46" fill="#7202f3"/><rect x="74.50" y="369.01" width="53.42" height="5.46" fill="#6a01e2"/><rect x="127.62" y="369.01" width="12.80" height="5.46" fill="#6601d7"/><rect x="140.12" y="369.01" width="6.55" height="5.46" fill="#6201cb"/><rect x="146.38" y="369.01" width="6.55" height="5.46" fill="#5d01be"/><rect x="152.62" y="369.01" width="6.55" height="5.46" fill="#5800af"/><rect x="158.88" y="369.01" width="6.55" height="5.46" fill="#53009e"/><rect x="165.12" y="369.01" width="6.55" height="5.46" fill="#4e008d"/><rect x="171.38" y="369.01" width="12.80" height="5.46" fill="#48007b"/><rect x="183.88" y="369.01" width="31.55" height="5.46" fill="#420068"/><rect x="215.12" y="369.01" width="19.05" height="5.46" fill="#48007b"/><rect x="233.88" y="369.01" width="25.30" height="5.46" fill="#420068"/><rect x="258.88" y="369.01" width="25.30" height="5.46" fill="#3b0054"/><rect x="283.88" y="369.01" width="19.05" height="5.46" fill="#33003f"/><rect x="302.62" y="369.01" width="25.30" height="5.46" fill="#2a002b"/><rect x="327.62" y="369.01" width="12.80" height="5.46" fill="#33003f"/><rect x="340.12" y="369.01" width="6.55" height="5.46" fill="#3b0054"/><rect x="346.38" y="369.01" width="37.80" height="5.46" fill="#33003f"/><rect x="383.88" y="369.01" width="6.55" height="5.46" fill="#3b0054"/><rect x="390.12" y="369.01" width="19.05" height="5.46" fill="#33003f"/><rect x="408.88" y="369.01" width="12.80" height="5.46" fill="#3b0054"/><rect x="421.38" y="369.01" width="6.55" height="5.46" fill="#420068"/><rect x="427.62" y="369.01" width="6.55" height="5.46" fill="#48007b"/><rect x="433.88" y="369.01" width="12.80" height="5.46" fill="#4e008d"/><rect x="446.38" y="369.01" width="6.55" height="5.46" fill="#5800af"/><rect x="452.62" y="369.01" width="12.80" height="5.46" fill="#5d01be"/><rect x="465.12" y="369.01" width="6.55" height="5.46" fill="#6201cb"/><rect x="471.38" y="369.01" width="12.80" height="5.46" fill="#6601d7"/><rect x="483.88" y="369.01" width="6.55" height="5.46" fill="#6a01e2"/><rect x="490.12" y="369.01" width="31.55" height="5.46" fill="#6e02eb"/><rect x="521.38" y="369.01" width="3.42" height="5.46" fill="#6a01e2"/><rect x="74.50" y="374.16" width="53.42" height="5.46" fill="#6601d7"/><rect x="127.62" y="374.16" width="12.80" height="5.46" fill="#6201cb"/><rect x="140.12" y="374.16" width="6.55" height="5.46" fill="#5d01be"/><rect x="146.38" y="374.16" width="6.55" height="5.46" fill="#5800af"/><rect x="152.62" y="374.16" width="6.55" height="5.46" fill="#53009e"/><rect x="158.88" y="374.16" width="12.80" height="5.46" fill="#4e008d"/><rect x="171.38" y="374.16" width="6.55" height="5.46" fill="#48007b"/><rect x="177.62" y="374.16" width="19.05" height="5.46" fill="#420068"/><rect x="196.38" y="374.16" width="12.80" height="5.46" fill="#3b0054"/><rect x="208.88" y="374.16" width="6.55" height="5.46" fill="#420068"/><rect x="215.12" y="374.16" width="19.05" height="5.46" fill="#48007b"/><rect x="233.88" y="374.16" width="31.55" height="5.46" fill="#420068"/><rect x="265.12" y="374.16" width="19.05" height="5.46" fill="#3b0054"/><rect x="283.88" y="374.16" width="19.05" height="5.46" fill="#33003f"/><rect x="302.62" y="374.16" width="6.55" height="5.46" fill="#2a002b"/><rect x="308.88" y="374.16" width="31.55" height="5.46" fill="#33003f"/><rect x="340.12" y="374.16" width="6.55" height="5.46" fill="#3b0054"/><rect x="346.38" y="374.16" width="44.05" height="5.46" fill="#33003f"/><rect x="390.12" y="374.16" width="31.55" height="5.46" fill="#3b0054"/><rect x="421.38" y="374.16" width="6.55" height="5.46" fill="#420068"/><rect x="427.62" y="374.16" width="6.55" height="5.46" fill="#48007b"/><rect x="433.88" y="374.16" width="12.80" height="5.46" fill="#4e008d"/><rect x="446.38" y="374.16" width="12.80" height="5.46" fill="#5800af"/><rect x="458.88" y="374.16" width="12.80" height="5.46" fill="#5d01be"/><rect x="471.38" y="374.16" width="19.05" height="5.46" fill="#6201cb"/><rect x="490.12" y="374.16" width="34.67" height="5.46" fill="#6601d7"/><rect x="74.50" y="379.32" width="53.42" height="5.46" fill="#6201cb"/><rect x="127.62" y="379.32" width="12.80" height="5.46" fill="#5d01be"/><rect x="140.12" y="379.32" width="12.80" height="5.46" fill="#5800af"/><rect x="152.62" y="379.32" width="6.55" height="5.46" fill="#53009e"/><rect x="158.88" y="379.32" width="6.55" height="5.46" fill="#4e008d"/><rect x="165.12" y="379.32" width="12.80" height="5.46" fill="#48007b"/><rect x="177.62" y="379.32" width="12.80" height="5.46" fill="#420068"/><rect x="190.12" y="379.32" width="19.05" height="5.46" fill="#3b0054"/><rect x="208.88" y="379.32" width="12.80" height="5.46" fill="#420068"/><rect x="221.38" y="379.32" width="19.05" height="5.46" fill="#48007b"/><rect x="240.12" y="379.32" width="25.30" height="5.46" fill="#420068"/><rect x="265.12" y="379.32" width="25.30" height="5.46" fill="#3b0054"/><rect x="290.12" y="379.32" width="50.30" height="5.46" fill="#33003f"/><rect x="340.12" y="379.32" width="6.55" height="5.46" fill="#3b0054"/><rect x="346.38" y="379.32" width="44.05" height="5.46" fill="#33003f"/><rect x="390.12" y="379.32" width="12.80" height="5.46" fill="#3b0054"/><rect x="402.62" y="379.32" width="25.30" height="5.46" fill="#420068"/><rect x="427.62" y="379.32" width="6.55" height="5.46" fill="#3b0054"/><rect x="433.88" y="379.32" width="6.55" height="5.46" fill="#420068"/><rect x="440.12" y="379.32" width="6.55" height="5.46" fill="#4e008d"/><rect x="446.38" y="379.32" width="6.55" height="5.46" fill="#53009e"/><rect x="452.62" y="379.32" width="12.80" height="5.46" fill="#5800af"/><rect x="465.12" y="379.32" width="31.55" height="5.46" fill="#5d01be"/><rect x="496.38" y="379.32" width="28.43" height="5.46" fill="#6201cb"/><rect x="74.50" y="384.48" width="53.42" height="5.46" fill="#5d01be"/><rect x="127.62" y="384.48" width="19.05" height="5.46" fill="#5800af"/><rect x="146.38" y="384.48" width="12.80" height="5.46" fill="#53009e"/><rect x="158.88" y="384.48" width="6.55" height="5.46" fill="#4e008d"/><rect x="165.12" y="384.48" width="12.80" height="5.46" fill="#48007b"/><rect x="177.62" y="384.48" width="44.05" height="5.46" fill="#420068"/><rect x="221.38" y="384.48" width="25.30" height="5.46" fill="#48007b"/><rect x="246.38" y="384.48" width="25.30" height="5.46" fill="#420068"/><rect x="271.38" y="384.48" width="25.30" height="5.46" fill="#3b0054"/><rect x="296.38" y="384.48" width="44.05" height="5.46" fill="#33003f"/><rect x="340.12" y="384.48" width="6.55" height="5.46" fill="#3b0054"/><rect x="346.38" y="384.48" width="44.05" height="5.46" fill="#33003f"/><rect x="390.12" y="384.48" width="12.80" height="5.46" fill="#3b0054"/><rect x="402.62" y="384.48" width="19.05" height="5.46" fill="#420068"/><rect x="421.38" y="384.48" width="19.05" height="5.46" fill="#48007b"/><rect x="440.12" y="384.48" width="6.55" height="5.46" fill="#4e008d"/><rect x="446.38" y="384.48" width="12.80" height="5.46" fill="#53009e"/><rect x="458.88" y="384.48" width="12.80" height="5.46" fill="#5800af"/><rect x="471.38" y="384.48" width="53.42" height="5.46" fill="#5d01be"/><rect x="74.50" y="389.64" width="22.18" height="5.46" fill="#5800af"/><rect x="96.38" y="389.64" width="6.55" height="5.46" fill="#5d01be"/><rect x="102.62" y="389.64" width="31.55" height="5.46" fill="#5800af"/><rect x="133.88" y="389.64" width="25.30" height="5.46" fill="#53009e"/><rect x="158.88" y="389.64" width="6.55" height="5.46" fill="#4e008d"/><rect x="165.12" y="389.64" width="19.05" height="5.46" fill="#48007b"/><rect x="183.88" y="389.64" width="31.55" height="5.46" fill="#420068"/><rect x="215.12" y="389.64" width="31.55" height="5.46" fill="#48007b"/><rect x="246.38" y="389.64" width="31.55" height="5.46" fill="#420068"/><rect x="277.62" y="389.64" width="19.05" height="5.46" fill="#3b0054"/><rect x="296.38" y="389.64" width="94.05" height="5.46" fill="#33003f"/><rect x="390.12" y="389.64" width="25.30" height="5.46" fill="#3b0054"/><rect x="415.12" y="389.64" width="6.55" height="5.46" fill="#420068"/><rect x="421.38" y="389.64" width="12.80" height="5.46" fill="#48007b"/><rect x="433.88" y="389.64" width="19.05" height="5.46" fill="#4e008d"/><rect x="452.62" y="389.64" width="6.55" height="5.46" fill="#53009e"/><rect x="458.88" y="389.64" width="12.80" height="5.46" fill="#5800af"/><rect x="471.38" y="389.64" width="12.80" height="5.46" fill="#5d01be"/><rect x="483.88" y="389.64" width="40.92" height="5.46" fill="#5800af"/><rect x="74.50" y="394.79" width="72.17" height="5.46" fill="#53009e"/><rect x="146.38" y="394.79" width="19.05" height="5.46" fill="#4e008d"/><rect x="165.12" y="394.79" width="87.80" height="5.46" fill="#48007b"/><rect x="252.62" y="394.79" width="25.30" height="5.46" fill="#420068"/><rect x="277.62" y="394.79" width="25.30" height="5.46" fill="#3b0054"/><rect x="302.62" y="394.79" width="87.80" height="5.46" fill="#33003f"/><rect x="390.12" y="394.79" width="19.05" height="5.46" fill="#3b0054"/><rect x="408.88" y="394.79" width="19.05" height="5.46" fill="#420068"/><rect x="427.62" y="394.79" width="12.80" height="5.46" fill="#48007b"/><rect x="440.12" y="394.79" width="19.05" height="5.46" fill="#4e008d"/><rect x="458.88" y="394.79" width="12.80" height="5.46" fill="#53009e"/><rect x="471.38" y="394.79" width="25.30" height="5.46" fill="#5800af"/><rect x="496.38" y="394.79" width="28.43" height="5.46" fill="#53009e"/><rect x="74.50" y="399.95" width="90.92" height="5.46" fill="#4e008d"/><rect x="165.12" y="399.95" width="87.80" height="5.46" fill="#48007b"/><rect x="252.62" y="399.95" width="31.55" height="5.46" fill="#420068"/><rect x="283.88" y="399.95" width="62.80" height="5.46" fill="#3b0054"/><rect x="346.38" y="399.95" width="44.05" height="5.46" fill="#33003f"/><rect x="390.12" y="399.95" width="25.30" height="5.46" fill="#3b0054"/><rect x="415.12" y="399.95" width="12.80" height="5.46" fill="#420068"/><rect x="427.62" y="399.95" width="37.80" height="5.46" fill="#48007b"/><rect x="465.12" y="399.95" width="59.67" height="5.46" fill="#4e008d"/><rect x="74.50" y="405.11" width="3.42" height="5.46" fill="#4e008d"/><rect x="77.62" y="405.11" width="31.55" height="5.46" fill="#48007b"/><rect x="108.88" y="405.11" width="100.30" height="5.46" fill="#4e008d"/><rect x="208.88" y="405.11" width="44.05" height="5.46" fill="#48007b"/><rect x="252.62" y="405.11" width="44.05" height="5.46" fill="#420068"/><rect x="296.38" y="405.11" width="12.80" height="5.46" fill="#3b0054"/><rect x="308.88" y="405.11" width="25.30" height="5.46" fill="#420068"/><rect x="333.88" y="405.11" width="75.30" height="5.46" fill="#3b0054"/><rect x="408.88" y="405.11" width="25.30" height="5.46" fill="#420068"/><rect x="433.88" y="405.11" width="87.80" height="5.46" fill="#48007b"/><rect x="521.38" y="405.11" width="3.42" height="5.46" fill="#4e008d"/><rect x="74.50" y="410.26" width="3.42" height="5.46" fill="#4e008d"/><rect x="77.62" y="410.26" width="37.80" height="5.46" fill="#48007b"/><rect x="115.12" y="410.26" width="69.05" height="5.46" fill="#4e008d"/><rect x="183.88" y="410.26" width="6.55" height="5.46" fill="#53009e"/><rect x="190.12" y="410.26" width="44.05" height="5.46" fill="#4e008d"/><rect x="233.88" y="410.26" width="25.30" height="5.46" fill="#48007b"/><rect x="258.88" y="410.26" width="81.55" height="5.46" fill="#420068"/><rect x="340.12" y="410.26" width="50.30" height="5.46" fill="#3b0054"/><rect x="390.12" y="410.26" width="31.55" height="5.46" fill="#420068"/><rect x="421.38" y="410.26" width="100.30" height="5.46" fill="#48007b"/><rect x="521.38" y="410.26" width="3.42" height="5.46" fill="#4e008d"/><rect x="74.50" y="415.42" width="178.43" height="2.88" fill="#4e008d"/><rect x="252.62" y="415.42" width="75.30" height="2.88" fill="#48007b"/><rect x="327.62" y="415.42" width="94.05" height="2.88" fill="#420068"/><rect x="421.38" y="415.42" width="25.30" height="2.88" fill="#48007b"/><rect x="446.38" y="415.42" width="78.42" height="2.88" fill="#4e008d"/>
</g>
<g fill="none" stroke="#40e0d0" stroke-width="1" stroke-linejoin="round" shape-rendering="crispEdges" clip-path="url(#plotclip)">
<path d="M77.1,97.0 L81.5,99.5 L86.5,101.4 L83.4,105.5 L79.0,103.2 L75.2,104.5 M92.1,98.2 L95.9,95.8 L104.0,92.6 L110.2,92.6 L117.8,93.9 L124.0,95.8 L130.2,96.4 L136.5,95.1 L139.0,93.9 L144.0,95.8 L149.0,96.4 L154.0,95.8 M92.1,98.2 L97.1,100.8 L92.8,102.0 L90.2,103.2 L97.8,103.2 L96.5,105.1 L99.0,105.8 L94.6,108.9 L94.0,112.6 L96.5,116.4 L100.2,118.2 L103.4,118.9 L100.9,120.1 L97.8,125.1 L104.0,120.8 L107.1,117.6 L110.2,115.1 L114.0,113.9 L117.1,114.5 L124.0,114.5 L129.0,117.0 L134.0,120.1 L136.5,124.5 L140.2,127.0 L142.1,130.1 L142.8,133.2 L143.4,135.8 L146.5,137.6 L144.6,140.8 L144.6,147.0 M77.1,132.6 L79.6,132.2 M82.1,131.4 L82.8,131.0 M87.1,130.5 L87.8,130.1 M90.9,127.6 L91.5,127.0 M234.0,69.5 L242.8,69.2 L250.2,66.4 L260.2,66.4 L269.0,67.6 L267.8,72.0 L275.2,72.0 L282.1,71.4 L276.5,74.5 L274.6,77.0 L275.9,79.5 L272.8,82.0 L271.5,85.8 L267.8,87.6 L270.2,90.1 L272.1,91.4 L266.5,92.6 L265.9,94.5 L268.4,95.8 L260.2,97.0 L256.5,100.1 L252.8,102.0 L249.6,104.5 L248.4,108.2 L245.9,112.0 L245.2,115.1 L239.0,113.2 L236.5,107.0 L234.0,103.2 M234.0,92.6 L235.2,94.5 L234.6,97.6 L234.0,98.2 M270.2,103.2 L272.8,102.0 L279.6,101.4 L280.2,105.8 L275.2,107.6 L271.5,105.1 L270.2,103.2 M306.5,117.0 L309.0,110.8 L314.0,106.4 M315.9,75.1 L321.5,74.5 L334.6,74.2 L329.0,75.8 L327.1,77.6 L329.6,79.5 L320.2,80.8 L319.0,77.6 L315.9,75.1 M353.4,74.5 L357.8,73.2 L362.8,73.9 M375.9,73.2 L380.9,72.6 M365.2,89.5 L370.2,85.1 L376.5,82.6 L384.6,80.1 L379.0,83.9 L372.8,87.0 L369.0,90.8 L371.5,93.9 L365.2,89.5 M314.0,105.1 L319.0,98.9 L325.2,95.1 L334.0,93.2 L339.0,95.8 L345.2,98.9 L351.5,101.4 L340.9,102.6 L342.8,105.8 L351.5,106.4 L355.2,103.2 L355.2,98.2 L357.1,100.8 L362.8,98.2 L375.2,97.6 L384.0,95.8 L385.2,92.6 L390.2,91.4 L390.9,95.8 L386.5,101.4 L394.0,98.2 M329.5,104.2 L325.2,107.5 L322.8,108.2 L322.4,117.2 L318.2,123.4 L313.0,120.1 L309.2,119.1 L306.5,116.4 M329.6,104.2 L326.5,107.6 L327.8,113.2 L330.2,117.0 L335.9,116.4 M394.0,90.8 L397.1,90.1 L400.2,88.2 L405.9,87.0 L410.2,83.9 L414.0,83.2 L420.2,82.0 L425.2,80.8 L427.8,79.5 L431.5,81.4 L436.5,83.2 L439.0,83.5 L434.0,86.4 L437.8,87.0 L455.9,87.0 L456.5,89.2 L462.1,92.6 L469.0,90.8 L474.0,90.1 M400.2,88.2 L401.5,90.8 L404.6,94.5 M394.0,97.0 L399.0,101.4 M414.6,74.5 L417.8,72.6 L419.0,75.1 L424.0,75.8 L417.1,76.4 L414.6,74.5 M425.9,75.5 L425.9,77.6 M470.2,83.5 L474.0,82.6 M455.9,87.2 L456.5,88.9 L461.5,92.6 L469.0,90.8 L472.8,89.2 L482.8,89.5 L487.8,92.0 L496.5,94.2 L502.8,95.1 L510.2,94.2 L519.0,96.4 L524.0,97.6 M470.2,83.2 L474.0,82.6 L481.5,83.9 L483.4,84.5 L475.2,84.5 L470.2,83.2 M481.5,116.8 L491.5,115.8 L494.0,111.4 L497.8,112.6 L502.8,111.4 L497.8,115.8 L504.0,115.1 L511.5,113.9 L519.0,110.8 L524.0,104.5 M134.0,120.8 L136.5,125.8 L141.5,130.8 L142.8,134.5 L146.5,137.6 L144.0,140.8 L144.6,147.0 L145.2,154.5 L149.0,163.2 L152.8,168.2 L154.0,173.2 L155.2,177.0 M171.5,117.0 L172.8,122.6 L177.1,120.8 M180.9,117.0 L185.2,122.0 L192.1,123.9 L196.5,128.9 L200.9,132.6 L202.8,128.2 L202.8,120.8 M175.2,130.1 L178.4,127.6 L179.0,135.1 L176.5,133.2 L175.2,130.1 M180.2,138.2 L184.0,134.5 M185.2,139.5 L189.0,137.6 L194.0,142.6 L196.5,147.0 L192.8,148.2 L190.2,143.9 L186.5,142.0 L185.2,139.5 M196.5,150.8 L201.5,148.2 L209.0,143.9 L214.0,140.1 M214.0,145.8 L209.0,153.2 L205.2,160.8 L201.5,167.0 L199.0,173.2 L199.6,177.0 M229.6,130.8 L224.0,134.5 L217.1,137.0 L214.0,140.1 L206.5,145.1 L199.0,149.5 L196.5,150.8 L195.9,147.0 L194.0,142.0 M202.8,127.0 L201.5,132.0 L194.0,125.8 M226.5,133.2 L230.2,132.6 L233.4,142.6 L227.8,140.8 L226.5,133.2 M212.8,141.4 L219.0,138.2 L224.0,137.0 L219.6,144.5 L215.2,145.8 M214.0,142.0 L209.0,155.8 M245.2,115.1 L247.8,108.2 L251.5,103.2 L259.0,98.2 L264.0,97.0 M154.0,173.2 L159.0,183.2 L165.2,188.9 L169.0,194.5 L172.8,200.8 L177.8,203.2 L184.0,207.0 L189.0,210.8 L194.0,214.5 L197.8,219.5 L201.5,222.0 M157.1,176.4 L159.6,176.0 L163.4,184.5 L162.8,187.6 L157.1,176.4 M202.1,167.0 L199.0,172.0 L198.4,182.0 L191.5,177.0 L190.2,176.0 L180.2,179.5 L178.4,183.2 L179.0,194.5 L184.0,199.5 L191.5,194.5 L189.6,197.0 L190.2,204.5 L195.2,209.5 L197.8,215.8 L200.9,220.8 L202.8,222.0 L206.5,217.0 L211.5,215.1 L216.5,218.2 L224.0,220.8 L230.2,225.8 M194.0,193.9 L197.8,193.2 L204.0,195.8 L207.8,197.0 L201.5,196.4 L195.2,194.5 M206.5,201.4 L212.8,199.5 L209.0,201.4 M202.1,187.0 L204.6,188.9 M194.0,218.2 L199.0,221.4 L203.4,222.0 L207.8,217.0 M203.4,222.0 L202.1,232.0 L199.6,244.5 L200.2,253.2 L204.0,267.0 L210.2,276.4 M213.4,217.0 L219.0,218.2 L225.2,222.0 L231.5,227.0 L236.5,238.2 L240.2,242.6 L246.5,245.1 L255.9,254.5 L254.0,262.0 L250.9,269.5 L250.2,277.0 M211.5,277.0 L211.5,297.6 L210.2,298.9 L209.6,307.0 L208.4,313.2 L208.4,337.0 M249.0,277.0 L249.0,282.0 L247.8,285.1 L240.2,289.5 L238.4,292.0 L237.1,299.5 L234.0,307.0 L227.8,314.5 L222.8,320.8 L217.8,329.5 L214.0,337.0 M208.4,337.0 L207.8,342.0 L209.6,347.0 L212.8,350.8 L217.8,351.4 L213.4,347.6 L214.6,342.0 L214.6,337.0 M225.2,344.5 L227.1,344.5 M206.5,385.1 L212.1,380.8 L213.4,383.9 L210.2,387.0 L206.5,385.1 M184.0,389.5 L196.5,388.9 L202.8,387.6 L209.0,388.2 L215.9,377.0 L225.2,369.5 L226.5,372.0 L222.8,378.2 L217.8,379.5 L215.9,377.0 M221.5,378.9 L223.4,384.5 L222.8,392.0 M76.8,399.8 L102.1,398.6 M96.5,399.2 L99.3,402.0 M76.8,412.7 L87.1,413.3 L115.3,414.2 L108.7,402.9 L111.5,397.3 L119.0,395.4 L134.0,391.7 L145.3,389.8 L156.5,390.8 L162.1,393.0 L169.6,391.7 L173.4,389.8 L176.2,388.5 L179.0,389.3 L194.0,389.3 M254.0,403.9 L259.6,402.9 L256.8,399.2 L265.3,394.5 L276.5,389.8 L287.8,385.1 L299.0,380.4 L304.6,382.3 L325.3,382.3 L334.6,381.4 L340.3,380.4 L345.9,382.3 L351.5,378.6 L357.1,376.7 L364.6,374.8 L374.0,375.8 M259.6,397.3 L272.8,390.8 L284.0,387.0 L295.3,385.1 L300.9,385.1 L304.6,383.3 L325.3,384.2 L332.8,383.3 M374.0,375.8 L379.6,377.3 L385.3,379.1 L386.2,383.3 L389.0,381.4 L396.5,380.4 L404.0,375.8 L420.9,374.8 L439.6,374.8 L445.3,376.3 L454.6,374.4 L467.8,374.8 L475.3,376.7 L484.6,379.5 L494.0,380.4 M444.0,376.4 L454.3,374.4 L468.5,374.4 L475.0,375.7 L482.8,379.0 L493.1,380.9 L500.8,382.2 L506.0,384.8 L511.2,386.5 L506.0,391.2 L504.1,395.8 L501.5,400.3 L504.7,406.1 L507.3,408.7 L513.8,409.3 L517.6,410.4 M502.8,398.3 L508.6,397.3 L515.1,397.7 L522.8,399.4 M291.5,118.2 L295.2,118.9 L298.4,127.0 L301.5,133.9 L294.6,135.5 L297.8,132.0 L294.0,127.6 L292.8,122.6 L291.5,118.2 M287.1,128.9 L289.6,124.5 L293.4,125.8 L292.8,128.2 L289.0,132.0 L287.1,128.9 M307.8,117.0 L312.8,119.5 L317.8,122.6 L322.1,118.9 L322.8,117.0 M334.0,117.0 L326.5,122.0 L321.5,126.4 L315.2,127.6 L312.8,123.2 L309.6,123.2 L307.8,128.2 L304.0,133.2 L299.0,137.0 L294.6,138.2 L298.4,144.5 L292.8,148.2 L289.6,153.2 L289.0,158.2 L291.5,163.2 L297.8,162.6 L301.5,157.0 L304.0,152.0 L309.0,149.5 L314.0,152.0 L317.8,155.1 L321.5,157.0 L326.5,160.8 L329.0,157.0 L332.8,157.0 L336.5,145.8 L342.8,144.5 L349.0,142.0 L349.0,152.0 L346.5,154.5 L335.2,154.5 L332.8,157.0 L334.0,162.0 L339.0,164.5 L344.0,167.0 L341.5,174.5 L339.0,175.8 M317.1,147.6 L320.9,153.2 L322.8,157.0 M286.5,175.8 L291.5,165.8 L300.2,164.5 L311.5,162.6 L314.0,169.5 L320.2,173.2 L324.0,175.8 L329.0,172.6 L334.0,173.9 L339.0,175.8 M310.2,154.5 L311.5,154.5 M316.5,160.1 L318.4,160.1 M360.9,143.2 L364.0,142.6 L364.6,148.2 L366.5,160.1 L362.8,160.8 L360.2,158.2 L359.0,148.2 L360.9,143.2 M373.4,144.5 L375.9,143.2 L376.5,145.1 L374.6,147.0 L374.0,149.5 L373.4,144.5 M391.5,147.6 L399.0,143.2 M481.5,117.0 L474.0,118.2 L469.6,127.0 L474.0,129.5 L472.8,140.8 L461.5,153.2 L456.8,165.8 L455.2,159.5 L450.9,155.1 L445.2,159.5 L449.6,162.0 L450.2,177.0 M475.2,126.4 L478.4,135.8 L477.8,143.2 L475.2,147.0 L478.4,150.8 L475.2,150.1 L474.6,139.5 L475.2,126.4 M474.6,152.0 L474.0,158.2 L465.2,165.1 L460.9,170.8 L462.8,173.2 L465.2,168.2 L472.8,166.4 L475.0,157.0 M494.0,117.0 L493.4,133.2 L500.2,125.8 L503.4,119.5 M291.5,167.0 L286.5,174.5 L282.8,183.2 L279.6,190.1 L279.0,199.5 L279.6,209.5 L281.5,217.0 L285.2,223.2 L287.8,227.0 M313.4,167.0 L314.0,169.5 L324.0,176.4 L329.0,172.0 L334.0,173.9 L337.8,175.1 L339.6,175.1 L343.4,167.0 M339.8,176.9 L344.4,183.8 L347.5,191.0 L350.8,200.2 L352.8,208.8 L358.0,214.8 L365.2,205.8 L370.9,199.5 L372.8,192.6 L366.5,189.5 L362.8,185.8 L361.5,178.2 L364.0,183.2 L370.2,187.0 L379.0,188.2 L389.0,197.0 L391.5,208.2 L394.0,220.1 L401.5,204.5 L411.5,193.9 L420.2,205.8 L424.0,220.8 M339.6,178.0 L343.2,187.8 L347.0,197.2 L349.5,204.5 L351.2,212.8 L352.2,215.2 L358.0,214.8 L363.8,216.4 L362.1,221.6 L359.0,228.9 L354.8,236.2 L352.2,242.4 L349.6,249.8 L348.6,252.8 L348.1,257.0 M399.0,220.1 L398.4,227.0 M449.6,167.0 L450.2,177.0 L448.4,184.5 L451.5,185.8 L447.8,186.4 L440.2,192.6 L434.6,193.2 L433.4,198.2 L432.8,215.8 L429.0,217.6 L423.4,210.1 L422.1,212.0 L424.0,226.4 M414.0,197.0 L420.2,205.8 L421.5,217.0 L424.0,226.4 M450.2,200.8 L451.5,200.1 L452.8,208.2 L450.9,209.5 L450.2,200.8 M447.8,215.8 L448.4,217.0 M451.5,224.5 L455.2,218.2 L454.0,225.8 L451.5,224.5 M460.9,169.5 L462.8,173.2 L465.2,168.2 L469.0,167.0 M287.8,227.0 L294.0,229.5 L299.0,227.6 L302.8,227.6 L306.5,230.1 L310.2,234.5 L312.8,243.2 L315.2,253.2 L316.5,263.2 L314.6,274.5 L316.5,283.2 L317.8,287.0 M349.0,257.0 L347.8,268.2 L345.2,277.0 L343.4,287.0 M340.2,238.2 L341.5,245.8 M315.9,267.0 L314.6,274.5 L316.5,283.2 L320.2,294.5 L323.4,310.8 L325.9,310.8 L332.8,308.9 L340.2,297.0 L342.8,288.2 L345.2,279.5 L349.0,267.0 M359.6,267.0 L360.9,278.2 L354.6,290.1 L354.6,278.2 L359.6,268.2 M424.0,227.0 L426.5,234.5 L430.2,243.9 L425.2,243.9 L424.0,239.5 M445.2,224.5 L446.5,237.0 L441.5,245.1 L435.9,240.1 L440.2,230.8 L445.2,224.5 M451.5,224.5 L455.2,218.9 L455.9,225.1 L451.5,224.5 M431.5,251.4 L435.2,253.9 L441.5,254.5 L434.6,253.2 M462.1,241.4 L464.0,243.2 L475.2,243.2 L486.5,259.5 L474.0,253.9 L462.1,241.4 M450.2,277.0 L455.2,268.2 L461.5,268.2 L464.0,261.4 L471.5,272.0 L476.5,260.1 L482.8,277.0 M460.2,268.2 L456.5,268.2 L452.8,273.9 L449.0,277.0 L442.8,282.0 L441.5,287.0 L442.8,303.2 L446.5,307.0 L451.5,307.0 L461.5,302.6 L466.5,308.2 L470.2,310.8 L473.4,316.4 L480.2,317.6 L486.5,309.5 L488.4,300.8 L489.0,292.0 L484.0,282.0 L479.0,267.0 M470.2,267.0 L471.5,272.0 L474.0,267.0 M479.0,322.0 L482.8,325.8 L480.9,327.0 M514.0,308.2 L517.1,314.5 L519.6,319.5 L516.5,317.0 L514.0,308.2 M513.4,321.4 L514.6,325.1 L511.5,328.2 L508.4,333.2 L512.8,330.1 L514.6,325.1 M222.8,392.1 L209.0,395.2 L196.5,397.5 L206.5,404.0 L219.0,405.9 L226.5,407.1 L236.5,407.1 L249.0,405.9 L257.8,403.4 L260.2,402.8 L257.8,400.9 L257.8,397.8 L264.0,395.2 M222.8,392.1 L231.5,396.5 L241.5,399.0 L259.0,398.4 M220.2,403.4 L227.8,402.1 L234.0,399.6 L240.2,397.8 L244.0,400.2 L244.6,402.8 L236.5,403.4 L220.2,403.4 M150.0,80.4 L154.2,79.6 M159.2,78.3 L163.3,77.5 M155.4,82.5 L158.3,84.6 L160.8,85.0 L164.2,84.2 L167.5,83.3 L164.6,80.4 L161.7,82.5 L157.5,81.2 L155.4,82.5 M150.0,86.7 L153.3,87.5 L156.2,89.6 L157.9,92.9 L157.5,95.0 L161.7,97.1 L165.0,99.2 L167.5,98.3 L172.5,95.0 L169.2,91.7 L165.8,89.2 L165.4,87.5 L164.2,89.6 L155.0,89.2 L150.0,87.5 M169.6,75.8 L172.5,77.5 L175.0,79.2 L176.7,81.7 L175.0,83.3 L174.2,81.7 M178.3,77.5 L179.6,78.8 M172.5,88.8 L175.4,86.7 L177.5,91.7 L172.5,88.8 M180.8,87.5 L184.2,86.2 L184.2,88.3 L180.8,87.5 M179.2,92.5 L182.5,93.3 L185.0,95.8 L183.3,97.5 L181.7,100.8 L177.5,100.0 L170.0,99.2 L165.8,99.6 M187.5,71.2 L190.0,69.6 L200.0,68.8 M187.5,71.2 L193.3,71.7 L200.0,72.5 M193.3,75.0 L197.5,75.4 L200.0,75.0 M190.0,80.8 L193.3,77.5 L195.8,76.2 M181.7,81.7 L185.0,82.5 L189.2,83.3 L193.3,83.3 L200.0,82.9 M181.7,80.0 L183.3,83.3 L185.8,84.2 L191.7,85.0 L200.0,85.0 M189.2,92.5 L191.7,88.3 L193.3,86.7 L194.2,90.0 L196.7,95.8 L200.0,96.7 M188.3,104.2 L193.3,100.8 L196.7,104.2 M150.0,101.7 L153.3,100.8 M195.0,69.5 L199.2,68.7 L204.2,67.4 L215.0,67.4 L219.2,68.7 L221.7,71.6 L226.7,69.5 L243.3,69.1 L248.3,68.5 M219.2,68.7 L220.0,72.4 L218.3,74.1 L215.0,76.2 L211.7,78.2 L212.5,80.3 L215.0,82.0 L220.0,81.6 L224.2,83.2 L228.3,85.3 L230.8,87.8 L230.8,91.2 L234.2,92.8 L235.0,97.0 M195.0,72.0 L199.2,72.8 L204.2,72.4 L200.0,73.2 L195.0,74.5 M195.0,82.0 L198.3,81.2 L201.7,78.7 L205.8,75.8 L210.8,74.1 L214.2,72.0 L218.3,70.3 L220.0,69.9 M211.7,78.2 L216.7,78.2 L214.2,79.5 M195.0,76.6 L197.5,76.2 M195.0,85.3 L200.0,84.1 L198.3,82.8 M195.0,88.2 L200.0,88.7 L205.8,89.5 L210.0,92.0 L213.3,93.7 L216.7,95.3 L217.5,97.0 M195.0,96.2 L200.0,94.5 L203.3,95.3 L203.3,97.0 M150.0,96.2 L155.0,98.3 L160.0,100.0 L165.0,101.2 L166.7,98.8 L173.3,98.3 L179.2,100.8 L180.8,101.2 L182.5,97.5 L183.3,95.0 M157.5,95.0 L159.2,96.2 L165.0,97.1 L170.8,96.2 L173.3,95.0 M185.0,95.0 L187.5,97.5 L191.7,98.3 L195.8,96.7 L197.5,95.0 M150.0,104.2 L153.3,101.7 M150.0,106.7 L153.3,108.3 L155.8,110.4 L160.8,110.0 L163.3,109.6 L160.0,111.7 L155.0,112.1 L151.2,112.5 M197.5,97.5 L193.3,101.2 L188.3,104.2 L186.7,105.8 L181.7,106.2 L184.2,107.5 L186.7,107.9 L183.3,111.7 L180.8,116.7 L183.3,120.0 L187.5,122.5 L191.7,124.2 L195.0,127.5 L198.3,131.7 L203.3,135.0 M194.2,103.3 L196.7,106.7 L198.3,107.1 L195.8,109.2 L193.3,109.2 L194.2,103.3 M159.2,117.5 L162.5,117.5 L165.0,116.7 L169.2,116.7 L171.7,118.3 L172.5,121.7 L173.3,123.3 L177.5,120.0 M175.0,131.7 L178.3,127.5 L177.5,135.0 M195.0,95.8 L200.8,94.5 L203.3,95.3 L204.2,97.0 L207.5,98.7 L212.5,101.2 L209.2,102.8 L205.0,106.2 L206.7,107.4 L210.8,107.8 L213.3,109.9 L215.8,108.7 L219.2,108.2 L217.5,106.2 L215.8,103.7 L218.3,102.8 L220.8,103.7 L221.7,102.0 L220.0,99.9 L216.7,97.0 L212.5,93.7 L209.6,92.4 M195.0,97.8 L197.5,98.7 L196.7,101.2 L195.0,100.3 M195.0,104.5 L197.5,107.0 L198.3,108.2 L195.0,109.1 M202.5,111.6 L205.8,111.6 L210.8,112.4 L212.5,114.9 L215.4,118.7 L219.2,116.6 L223.3,121.2 L225.8,125.3 L227.5,127.8 L229.2,131.2 M202.5,111.6 L203.3,114.5 L203.3,125.3 L200.8,132.0 M199.2,122.8 L201.7,123.7 M195.0,127.8 L199.2,131.2 M234.2,92.0 L235.0,96.2 L232.5,99.5 L234.2,102.8 L236.7,107.0 L238.3,112.0 L241.7,113.7 L248.3,114.1 M101.0,193.0 L101.8,193.5 M103.5,194.0 L104.8,195.0 M105.2,197.0 L105.8,197.8 M417.5,226.4 L425.7,235.2 L429.1,242.0"/>
</g>
<rect x="74.5" y="57.5" width="450" height="362" fill="none" stroke="#000" stroke-width="1"/>
<defs><clipPath id="plotclip"><rect x="75" y="58" width="449" height="361"/></clipPath><linearGradient id="cb" x1="0" y1="1" x2="0" y2="0"><stop offset="0.0000" stop-color="#000000"/><stop offset="0.0156" stop-color="#200019"/><stop offset="0.0312" stop-color="#2d0032"/><stop offset="0.0469" stop-color="#37004a"/><stop offset="0.0625" stop-color="#400062"/><stop offset="0.0781" stop-color="#470078"/><stop offset="0.0938" stop-color="#4e008e"/><stop offset="0.1094" stop-color="#5400a2"/><stop offset="0.1250" stop-color="#5a00b4"/><stop offset="0.1406" stop-color="#6001c5"/><stop offset="0.1562" stop-color="#6501d4"/><stop offset="0.1719" stop-color="#6a01e1"/><stop offset="0.1875" stop-color="#6e02ec"/><stop offset="0.2031" stop-color="#7302f4"/><stop offset="0.2188" stop-color="#7703fa"/><stop offset="0.2344" stop-color="#7b03fe"/><stop offset="0.2500" stop-color="#8004ff"/><stop offset="0.2656" stop-color="#8305fe"/><stop offset="0.2812" stop-color="#8706fa"/><stop offset="0.2969" stop-color="#8b07f4"/><stop offset="0.3125" stop-color="#8f08ec"/><stop offset="0.3281" stop-color="#9209e1"/><stop offset="0.3438" stop-color="#960ad4"/><stop offset="0.3594" stop-color="#990cc5"/><stop offset="0.3750" stop-color="#9c0db4"/><stop offset="0.3906" stop-color="#9f0fa2"/><stop offset="0.4062" stop-color="#a3118e"/><stop offset="0.4219" stop-color="#a61378"/><stop offset="0.4375" stop-color="#a91562"/><stop offset="0.4531" stop-color="#ac184a"/><stop offset="0.4688" stop-color="#af1a32"/><stop offset="0.4844" stop-color="#b11d19"/><stop offset="0.5000" stop-color="#b42000"/><stop offset="0.5156" stop-color="#b72300"/><stop offset="0.5312" stop-color="#ba2600"/><stop offset="0.5469" stop-color="#bd2a00"/><stop offset="0.5625" stop-color="#bf2d00"/><stop offset="0.5781" stop-color="#c23100"/><stop offset="0.5938" stop-color="#c43500"/><stop offset="0.6094" stop-color="#c73a00"/><stop offset="0.6250" stop-color="#ca3e00"/><stop offset="0.6406" stop-color="#cc4300"/><stop offset="0.6562" stop-color="#cf4800"/><stop offset="0.6719" stop-color="#d14d00"/><stop offset="0.6875" stop-color="#d35300"/><stop offset="0.7031" stop-color="#d65900"/><stop offset="0.7188" stop-color="#d85f00"/><stop offset="0.7344" stop-color="#db6500"/><stop offset="0.7500" stop-color="#dd6c00"/><stop offset="0.7656" stop-color="#df7200"/><stop offset="0.7812" stop-color="#e17a00"/><stop offset="0.7969" stop-color="#e48100"/><stop offset="0.8125" stop-color="#e68900"/><stop offset="0.8281" stop-color="#e89100"/><stop offset="0.8438" stop-color="#ea9900"/><stop offset="0.8594" stop-color="#eca200"/><stop offset="0.8750" stop-color="#efab00"/><stop offset="0.8906" stop-color="#f1b400"/><stop offset="0.9062" stop-color="#f3be00"/><stop offset="0.9219" stop-color="#f5c800"/><stop offset="0.9375" stop-color="#f7d200"/><stop offset="0.9531" stop-color="#f9dd00"/><stop offset="0.9688" stop-color="#fbe800"/><stop offset="0.9844" stop-color="#fdf300"/><stop offset="1.0000" stop-color="#ffff00"/></linearGradient></defs>
<rect x="535.5" y="57.5" width="22.0" height="362" fill="url(#cb)" stroke="#000" stroke-width="1"/>
<line x1="535.5" y1="371.2" x2="539.5" y2="371.2" stroke="#000" stroke-width="1"/><line x1="553.5" y1="371.2" x2="557.5" y2="371.2" stroke="#000" stroke-width="1"/><line x1="535.5" y1="323.0" x2="539.5" y2="323.0" stroke="#000" stroke-width="1"/><line x1="553.5" y1="323.0" x2="557.5" y2="323.0" stroke="#000" stroke-width="1"/><line x1="535.5" y1="274.7" x2="539.5" y2="274.7" stroke="#000" stroke-width="1"/><line x1="553.5" y1="274.7" x2="557.5" y2="274.7" stroke="#000" stroke-width="1"/><line x1="535.5" y1="226.4" x2="539.5" y2="226.4" stroke="#000" stroke-width="1"/><line x1="553.5" y1="226.4" x2="557.5" y2="226.4" stroke="#000" stroke-width="1"/><line x1="535.5" y1="178.2" x2="539.5" y2="178.2" stroke="#000" stroke-width="1"/><line x1="553.5" y1="178.2" x2="557.5" y2="178.2" stroke="#000" stroke-width="1"/><line x1="535.5" y1="129.9" x2="539.5" y2="129.9" stroke="#000" stroke-width="1"/><line x1="553.5" y1="129.9" x2="557.5" y2="129.9" stroke="#000" stroke-width="1"/><line x1="535.5" y1="81.6" x2="539.5" y2="81.6" stroke="#000" stroke-width="1"/><line x1="553.5" y1="81.6" x2="557.5" y2="81.6" stroke="#000" stroke-width="1"/>
<text x="62" y="408.0" text-anchor="end" font-family="Liberation Sans, sans-serif" font-size="16" fill="#000">-80</text><text x="62" y="366.8" text-anchor="end" font-family="Liberation Sans, sans-serif" font-size="16" fill="#000">-60</text><text x="62" y="325.5" text-anchor="end" font-family="Liberation Sans, sans-serif" font-size="16" fill="#000">-40</text><text x="62" y="284.3" text-anchor="end" font-family="Liberation Sans, sans-serif" font-size="16" fill="#000">-20</text><text x="62" y="243.0" text-anchor="end" font-family="Liberation Sans, sans-serif" font-size="16" fill="#000">0</text><text x="62" y="201.7" text-anchor="end" font-family="Liberation Sans, sans-serif" font-size="16" fill="#000">20</text><text x="62" y="160.5" text-anchor="end" font-family="Liberation Sans, sans-serif" font-size="16" fill="#000">40</text><text x="62" y="119.2" text-anchor="end" font-family="Liberation Sans, sans-serif" font-size="16" fill="#000">60</text><text x="62" y="78.0" text-anchor="end" font-family="Liberation Sans, sans-serif" font-size="16" fill="#000">80</text><text x="112.0" y="443" text-anchor="middle" font-family="Liberation Sans, sans-serif" font-size="16" fill="#000">-150</text><text x="174.5" y="443" text-anchor="middle" font-family="Liberation Sans, sans-serif" font-size="16" fill="#000">-100</text><text x="237.0" y="443" text-anchor="middle" font-family="Liberation Sans, sans-serif" font-size="16" fill="#000">-50</text><text x="299.5" y="443" text-anchor="middle" font-family="Liberation Sans, sans-serif" font-size="16" fill="#000">0</text><text x="362.0" y="443" text-anchor="middle" font-family="Liberation Sans, sans-serif" font-size="16" fill="#000">50</text><text x="424.5" y="443" text-anchor="middle" font-family="Liberation Sans, sans-serif" font-size="16" fill="#000">100</text><text x="487.0" y="443" text-anchor="middle" font-family="Liberation Sans, sans-serif" font-size="16" fill="#000">150</text><text x="571" y="424.0" font-family="Liberation Sans, sans-serif" font-size="16" fill="#000">0</text><text x="571" y="375.7" font-family="Liberation Sans, sans-serif" font-size="16" fill="#000">10</text><text x="571" y="327.5" font-family="Liberation Sans, sans-serif" font-size="16" fill="#000">20</text><text x="571" y="279.2" font-family="Liberation Sans, sans-serif" font-size="16" fill="#000">30</text><text x="571" y="230.9" font-family="Liberation Sans, sans-serif" font-size="16" fill="#000">40</text><text x="571" y="182.7" font-family="Liberation Sans, sans-serif" font-size="16" fill="#000">50</text><text x="571" y="134.4" font-family="Liberation Sans, sans-serif" font-size="16" fill="#000">60</text><text x="571" y="86.1" font-family="Liberation Sans, sans-serif" font-size="16" fill="#000">70</text><text x="107" y="33" font-family="Liberation Sans, sans-serif" font-size="16" fill="#000">UQRG-GIM Global VTEC maps 20230629.180.00000</text><text x="297" y="471" text-anchor="middle" font-family="Liberation Sans, sans-serif" font-size="16" fill="#000">Longitude / deg</text><text transform="translate(18,238) rotate(-90)" text-anchor="middle" font-family="Liberation Sans, sans-serif" font-size="16" fill="#000">Latitude / deg</text><text transform="translate(606.5,238) rotate(-90)" text-anchor="middle" font-family="Liberation Sans, sans-serif" font-size="16" fill="#000">VTEC / TECU</text>
</svg>
</body></html>
